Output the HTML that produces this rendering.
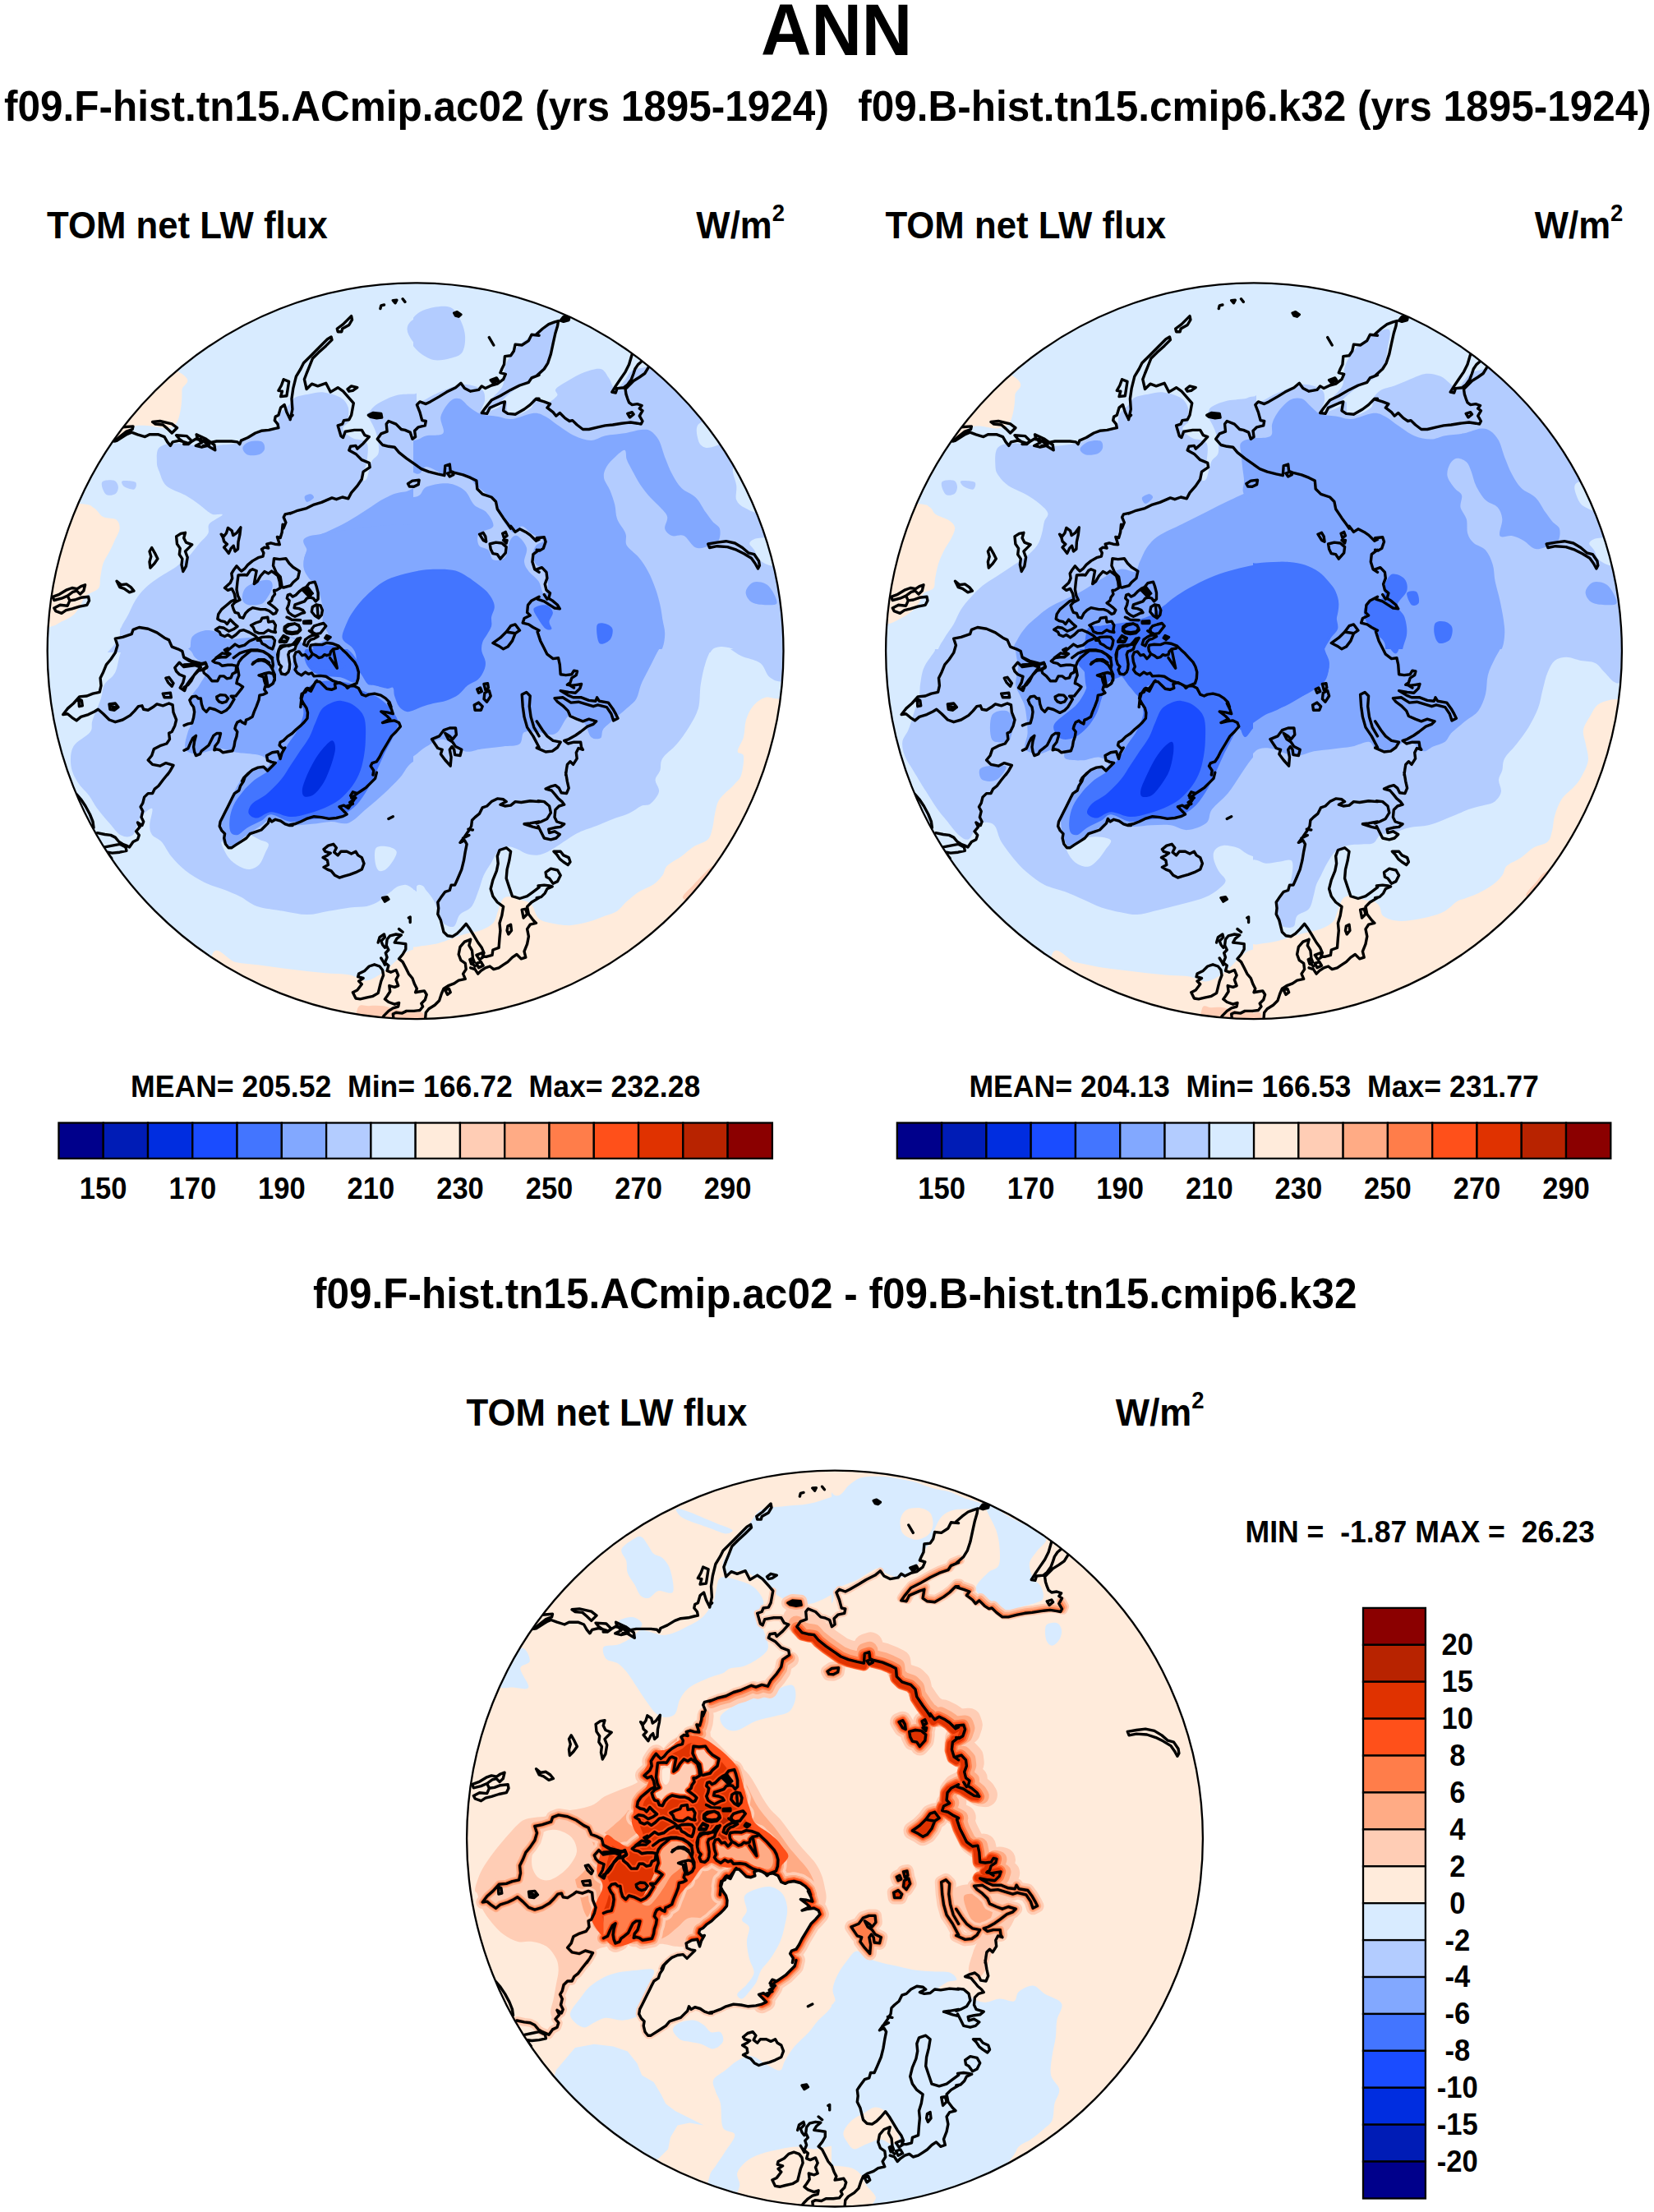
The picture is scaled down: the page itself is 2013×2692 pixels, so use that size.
<!DOCTYPE html>
<html lang="en"><head><meta charset="utf-8"><title>ANN TOM net LW flux</title>
<style>
html,body{margin:0;padding:0;background:#fff}
body{width:2013px;height:2692px;overflow:hidden}
svg{display:block}
text{font-family:"Liberation Sans",sans-serif;font-weight:700;fill:#000}
.coast{fill:none;stroke:#000;stroke-width:3.4;stroke-linejoin:round;stroke-linecap:round}
.cb rect{stroke:#000;stroke-width:2.3}
</style></head><body>
<svg width="2013" height="2692" viewBox="0 0 2013 2692">
<defs>
<clipPath id="qNW"><rect x="-470" y="-470" width="472" height="472"/></clipPath><clipPath id="qSW"><rect x="-470" y="-2" width="472" height="472"/></clipPath><clipPath id="qNE"><rect x="-2" y="-470" width="472" height="472"/></clipPath><clipPath id="qSE"><rect x="-2" y="-2" width="472" height="472"/></clipPath>
<g id="coast" class="coast"><path d="M-367.5,-255.0L-355.7,-261.4L-344.8,-265.9L-337.5,-263.2L-328.5,-260.4L-323.0,-263.2L-312.1,-263.2L-304.9,-260.4L-301.3,-254.1L-297.6,-249.6L-294.9,-254.1L-286.7,-255.9L-277.7,-253.2L-281.3,-251.4L-275.9,-251.4L-271.3,-255.0L-266.8,-257.7L-257.7,-255.9L-250.5,-253.2L-241.4,-255.0L-232.3,-255.0L-223.3,-255.0L-216.0,-254.1L-213.3,-251.4L-211.5,-255.9L-203.3,-259.5L-194.2,-265.0L-187.0,-267.7L-177.9,-268.6L-170.7,-270.4L-166.1,-271.3L-167.0,-275.9L-170.7,-280.4L-169.8,-284.9L-166.1,-286.7L-163.4,-295.8L-158.9,-299.4L-156.1,-290.4L-152.5,-283.1L-148.9,-286.7M-355.7,-272.2L-343.0,-273.1L-343.9,-269.5L-351.1,-266.8L-359.3,-260.4L-365.7,-255.0L-362.9,-255.6L-353.9,-261.4L-345.7,-266.4M-319.4,-278.6L-310.3,-279.5L-295.8,-276.2L-289.5,-271.3L-295.8,-265.0L-301.3,-270.4L-306.7,-275.0L-315.8,-275.9ZM-290.4,-262.3L-277.7,-261.4L-271.3,-255.0L-277.7,-251.4L-286.7,-257.7ZM-265.9,-263.2L-254.1,-257.7L-244.1,-250.5L-243.2,-244.1L-252.3,-249.6L-259.5,-247.8L-266.8,-249.6L-259.5,-253.2L-265.0,-259.5ZM-261.4,-257.7L-250.5,-250.5L-257.7,-249.6M-159.8,-330.3L-153.4,-327.6L-156.1,-310.3L-163.4,-309.4L-161.6,-315.8L-166.1,-316.7L-162.5,-323.0ZM-151.8,-281.3L-149.1,-294.0L-150.0,-306.7L-148.2,-319.4L-144.6,-333.9L-139.1,-343.0L-135.5,-350.2L-126.4,-359.3L-115.5,-370.2L-106.5,-379.3L-101.9,-382.0L-101.0,-378.4L-108.3,-371.1L-117.3,-362.9L-124.6,-355.7L-128.2,-346.6L-131.9,-337.5L-134.6,-330.3L-131.9,-318.5L-125.5,-324.8L-118.3,-322.1L-108.3,-325.7L-102.8,-314.9L-93.8,-320.3L-87.4,-315.8L-79.3,-306.7L-74.7,-301.3L-77.4,-286.7L-80.2,-281.3L-86.5,-280.4L-88.3,-275.9L-93.8,-274.1L-90.1,-261.4L-87.4,-259.5L-84.7,-266.8L-73.8,-268.6L-64.7,-268.6L-61.1,-262.3L-55.7,-260.4L-62.9,-252.3L-70.2,-245.9L-72.0,-249.6L-78.4,-248.7L-80.2,-244.1L-72.0,-239.6L-64.7,-232.3L-55.7,-228.7L-54.8,-223.3L-62.9,-217.8L-64.7,-208.8L-70.2,-200.6L-77.4,-192.4L-81.1,-185.2L-88.3,-187.0L-95.6,-184.3L-101.0,-186.1L-113.7,-180.6L-122.8,-177.9L-131.9,-173.4L-142.7,-170.7L-151.8,-167.0M-94.7,-392.0L-87.4,-397.4L-77.4,-407.4L-76.5,-402.8L-80.2,-396.5L-88.3,-392.0L-89.2,-388.3L-93.8,-388.3ZM-42.1,-416.4L-41.2,-420.1L-37.5,-421.0M-26.7,-426.4L-22.1,-426.8L-23.9,-423.2ZM-14.9,-428.2L-12.1,-424.6M47.7,-411.0L51.3,-412.3L55.9,-409.2L53.2,-406.8L49.5,-407.9ZM49.5,-410.1L54.1,-408.6M90.3,-381.4L95.8,-372.0M-82.0,-318.5L-77.4,-322.1L-70.2,-320.3L-75.6,-316.7L-80.2,-315.8ZM-56.6,-286.7L-51.1,-289.5L-41.2,-288.6L-40.3,-284.0L-46.6,-283.1L-53.9,-284.6ZM-54.8,-286.2L-42.1,-285.8M151.1,-383.8L142.0,-384.7L138.4,-377.4L130.2,-372.0L122.1,-372.9L120.3,-364.7L116.6,-359.3L109.4,-358.4L108.5,-348.4L105.8,-343.0L103.9,-338.4L110.3,-336.6L107.6,-330.3L100.3,-324.8L93.1,-323.0L85.8,-319.4L81.3,-322.1L77.6,-317.6L67.7,-315.8L60.4,-319.4L55.9,-325.7L49.5,-320.3L38.6,-314.9L29.6,-309.4L18.7,-303.1L13.3,-300.4L6.0,-303.1L2.4,-299.4L6.0,-290.4L8.7,-280.4L13.3,-279.5L12.3,-274.1L4.2,-272.2L-0.4,-267.7L0.6,-260.4L-3.1,-257.7L-5.8,-265.9L-12.1,-268.6L-16.7,-269.5L-23.0,-275.9L-32.1,-279.5L-34.8,-275.9L-33.9,-266.8L-41.2,-264.1L-45.7,-257.7L-39.4,-250.5L-32.1,-248.7L-24.8,-247.8L-19.4,-241.4L-10.3,-234.1L-1.3,-227.8L7.8,-221.4L16.9,-217.8L27.8,-215.1L35.9,-213.3L36.8,-225.1L42.3,-226.9L43.2,-218.7L47.7,-216.9L58.6,-214.2L67.7,-210.6L74.9,-206.9L75.8,-197.0L82.2,-190.6L93.1,-187.0L98.5,-181.5L100.3,-172.5L107.6,-161.6L113.0,-154.3L116.6,-148.9M151.1,-335.7L142.0,-332.1L138.4,-326.7L127.5,-323.0L116.6,-317.6L103.9,-310.3L93.1,-304.9L85.8,-295.8L81.3,-289.5L87.6,-288.6L91.2,-295.8L103.9,-301.3L109.4,-303.1L107.6,-292.2L113.0,-288.6L122.1,-287.7L133.0,-294.0L140.2,-299.4L147.5,-306.7L151.1,-306.7M-8.5,-203.3L-3.1,-206.9L5.1,-207.8L4.2,-202.4L-1.3,-199.7L-6.7,-200.0ZM39.6,-216.0L45.0,-217.8L46.8,-214.2L42.3,-212.0ZM92.2,-329.4L99.4,-332.1L101.2,-329.4L94.9,-326.3ZM94.0,-328.8L99.4,-329.9M148.2,-385.6L155.4,-392.0L162.7,-397.4L170.0,-400.1L174.5,-401.4L173.6,-395.6L170.9,-386.5L168.1,-373.8L165.4,-361.1L161.8,-350.2L157.3,-343.0L148.2,-334.8M177.2,-401.9L180.8,-406.5L188.1,-406.8L187.2,-402.5L180.8,-400.7ZM179.9,-403.7L186.3,-404.7M148.2,-305.8L157.3,-303.1L164.5,-300.4L160.9,-295.8L168.1,-290.4L171.8,-285.8L176.3,-289.5L182.7,-283.1L188.1,-279.5L191.7,-280.4L197.2,-275.0L204.4,-269.5L211.7,-269.5L222.6,-272.2L231.6,-274.1L240.7,-275.0L251.6,-276.8L262.5,-278.0L270.6,-276.8L275.2,-275.9L277.0,-279.5L273.3,-285.8L277.0,-292.2L273.3,-294.9L276.1,-298.5L270.6,-300.4L264.3,-299.4L260.6,-302.2L258.8,-306.7L257.0,-312.1L256.1,-318.5L260.6,-323.0L266.1,-328.5L273.3,-333.0L279.7,-337.5L284.2,-344.8M264.3,-361.1L260.6,-348.4L256.1,-339.4L249.8,-330.3L244.3,-322.1L239.8,-314.9L244.3,-314.0L246.1,-319.4L254.3,-320.3L258.8,-323.9L263.4,-330.3L266.1,-337.5L267.9,-343.0L271.5,-348.4L275.2,-351.5M258.8,-288.6L264.3,-290.4L266.1,-287.7L261.6,-284.0ZM-440.9,-65.7L-432.8,-68.7L-423.7,-74.2L-417.3,-76.5L-411.0,-75.3L-406.5,-78.4L-401.4,-80.2L-403.2,-72.9L-407.4,-68.9L-411.5,-72.9L-416.4,-71.6L-422.8,-66.9L-430.0,-63.8L-439.1,-61.5ZM-439.1,-52.0L-431.9,-55.7L-422.8,-54.8L-420.1,-61.1L-413.7,-62.0L-406.5,-64.7L-397.4,-65.7L-396.5,-61.1L-399.2,-55.7L-408.3,-53.9L-417.3,-51.1L-424.6,-49.3L-430.0,-45.7L-437.3,-48.4ZM-422.8,-66.9L-420.1,-61.1M-362.9,-84.7L-357.5,-80.2L-351.1,-81.1L-345.7,-77.4L-342.1,-72.9L-347.5,-71.1L-353.9,-75.6L-359.3,-77.4ZM-323.0,-121.0L-320.3,-125.5L-316.7,-119.2L-313.1,-111.9L-317.6,-105.6L-322.1,-101.0L-323.0,-108.3L-321.2,-114.6ZM-290.4,-139.1L-284.9,-142.7L-279.5,-143.7L-281.3,-137.3L-278.6,-131.9L-271.3,-129.1L-275.9,-124.6L-279.5,-121.0L-276.8,-113.7L-278.6,-102.8L-282.2,-96.5L-284.0,-104.7L-283.1,-111.9L-286.7,-117.3L-285.8,-124.6L-289.5,-130.0ZM-254.1,16.0L-261.4,15.1L-272.2,12.3L-281.3,7.8L-283.1,0.6L-288.6,-2.2L-295.8,-4.9L-299.4,-13.1L-304.9,-15.8L-314.0,-22.1L-324.8,-26.7L-335.7,-28.5L-343.0,-25.7L-344.8,-20.3L-355.7,-16.7L-364.7,-14.9L-362.0,-6.7L-364.7,2.4L-370.2,10.5L-375.6,16.9L-379.3,25.9L-382.9,33.2L-382.0,42.3L-383.8,50.4L-392.0,52.2L-399.2,55.0L-408.3,55.9L-415.5,64.0L-422.8,70.4L-428.2,77.6L-422.8,76.7L-417.3,81.3L-411.9,84.9L-406.5,80.4L-397.4,77.6L-390.1,74.0L-385.6,71.3L-379.3,76.7L-372.0,84.0L-364.7,86.7L-355.7,84.0L-346.6,78.6L-341.2,73.1L-336.6,67.7L-332.1,66.8L-330.3,71.3L-324.8,72.2L-317.6,67.7L-314.0,64.9L-306.7,66.8L-299.4,64.0L-294.9,65.9L-294.0,74.9L-290.4,84.0L-292.2,91.2L-295.8,98.5L-299.4,100.3L-298.5,107.6L-302.2,113.0L-310.3,115.7L-317.6,119.4L-320.3,127.5L-324.8,133.0L-319.4,138.4L-310.3,140.2L-303.1,136.6L-294.0,139.3L-297.6,145.7L-301.3,151.1M-372.0,64.9L-364.7,64.0L-361.1,68.6L-365.7,72.2L-371.1,71.3ZM-370.2,66.8L-362.9,69.5L-368.4,70.4M-409.2,58.6L-405.6,60.4L-404.7,66.8L-408.6,67.7ZM-292.2,20.5L-286.7,14.2L-281.3,19.6L-275.9,18.7L-268.6,17.8L-261.4,16.9L-255.0,14.2L-253.2,20.5L-257.7,23.2L-263.2,24.1L-268.6,29.6L-273.1,35.0L-277.7,41.4L-280.4,48.6L-285.8,45.0L-282.2,38.6L-280.4,31.4L-286.7,28.7L-290.4,25.0ZM-303.1,33.2L-299.4,32.3L-294.0,39.6L-295.8,43.2L-300.4,38.6ZM-306.7,52.2L-297.6,51.3L-296.7,56.8L-304.9,56.8ZM-235.8,-141.8L-232.4,-139.4L-229.5,-143.3L-227.6,-149.6L-222.8,-146.2L-221.3,-140.4L-217.0,-143.3L-212.1,-150.1L-213.1,-141.4L-215.0,-132.7L-215.5,-123.9L-218.9,-121.0L-220.8,-127.8L-223.7,-124.9L-226.6,-118.6L-230.0,-123.0L-232.4,-125.9L-228.6,-129.8L-232.4,-133.1L-233.4,-137.5ZM-160.9,-153.9L-161.8,-144.3L-163.8,-137.5L-167.6,-138.5L-165.7,-132.7L-164.7,-129.3L-170.5,-129.8L-175.4,-131.2L-180.2,-129.8L-178.3,-124.9L-183.1,-125.9L-186.5,-123.5L-184.1,-119.1L-185.0,-114.8L-190.8,-113.3L-197.6,-109.4L-203.4,-104.6L-207.3,-99.8L-211.2,-96.9L-214.1,-99.8L-217.0,-103.1L-220.3,-98.8L-223.2,-94.0L-222.3,-88.2L-224.7,-82.8L-231.5,-76.5L-227.6,-73.6L-222.8,-75.6L-219.9,-69.8L-218.4,-62.5L-223.7,-60.1L-229.5,-55.3L-235.3,-50.4L-239.2,-44.6L-240.2,-38.8L-236.3,-36.4L-231.5,-35.4L-228.6,-32.5L-224.7,-37.9L-219.9,-33.0L-216.0,-29.6L-220.8,-26.2L-226.6,-23.8L-232.4,-27.7L-238.2,-28.7L-242.6,-25.8L-237.8,-22.9L-236.3,-19.5L-231.5,-17.5L-227.6,-19.5L-222.8,-16.1L-217.9,-19.5L-213.1,-24.3L-208.3,-25.3L-201.5,-22.4L-194.7,-18.5L-190.8,-14.6L-186.0,-16.6L-178.3,-17.1L-173.4,-16.6L-170.5,-12.7L-171.5,-6.9L-173.4,-2.1L-178.3,-4.0L-182.1,-6.9L-186.0,-8.8L-187.9,-12.7L-191.8,-12.7M-215.0,-92.0L-207.3,-92.5L-204.4,-92.0L-200.5,-97.8L-197.6,-99.3L-192.8,-97.3L-194.2,-90.1L-195.7,-81.4L-191.8,-84.3L-187.9,-91.1L-183.1,-96.4L-178.3,-94.0L-174.4,-96.9L-170.5,-94.0L-166.7,-91.1L-164.7,-84.3L-163.8,-76.5L-168.6,-73.6L-171.5,-73.6L-170.5,-68.8L-173.4,-64.9L-174.4,-61.1L-178.3,-58.2L-174.4,-55.3L-170.5,-52.4L-167.6,-49.5L-169.6,-45.6L-172.5,-44.6L-177.3,-48.5L-182.1,-50.4L-187.9,-50.4L-192.8,-51.4L-197.6,-52.4L-202.4,-49.5L-206.3,-45.6L-209.2,-39.8L-213.1,-40.8L-215.0,-45.6L-218.9,-46.6L-220.8,-50.4L-222.3,-55.3L-218.9,-59.1L-213.1,-62.0L-215.5,-66.9L-217.0,-74.6L-216.0,-84.3ZM-171.5,-112.3L-164.7,-111.4L-157.0,-112.3L-153.1,-106.5L-148.3,-101.7L-140.5,-96.9L-142.5,-88.2L-148.3,-83.3L-151.2,-79.4L-159.9,-77.0L-161.8,-77.5L-163.8,-90.1L-168.6,-94.9L-172.5,-103.6ZM-167.6,-94.0L-162.8,-77.5M-199.5,-31.1L-193.7,-34.0L-187.9,-35.9L-186.0,-39.8L-179.2,-40.8L-178.3,-35.0L-172.5,-35.9L-169.6,-31.1L-170.5,-25.3L-169.6,-22.4L-174.4,-23.3L-178.3,-25.3L-184.1,-21.4L-189.9,-21.4L-194.7,-23.3L-196.6,-28.2ZM-158.9,-27.2L-153.1,-31.1L-146.3,-33.0L-141.5,-31.1L-139.6,-27.2L-142.5,-23.3L-149.2,-22.4L-156.0,-23.3ZM-164.7,-11.7L-159.9,-18.5L-154.1,-15.6L-156.0,-11.7ZM-242.1,8.6L-234.4,2.8L-226.6,4.7L-229.5,0.8L-224.7,-3.0L-218.9,-7.9L-214.1,-5.0L-207.3,-6.9L-201.5,-11.7L-194.7,-14.6M-220.8,8.6L-213.1,2.8L-207.3,0.8L-199.5,-1.1L-191.8,-1.1L-184.1,0.8L-178.3,4.7L-173.4,8.6M-156.0,-40.8L-153.1,-39.8L-150.2,-37.9M-166.7,8.6L-165.7,-1.1L-160.9,-5.0L-154.1,-6.9L-146.3,-7.9L-144.4,-12.7L-139.6,-15.6M-146.9,6.7L-145.0,1.8L-141.1,0.9L-137.3,5.7L-133.4,4.7L-129.5,9.6L-126.6,6.7L-124.7,3.8L-127.1,-0.1L-127.6,-4.0L-126.6,-6.9L-120.8,-7.8L-113.1,-7.4L-107.3,-9.8L-100.5,-8.8L-92.8,-5.9L-87.9,-1.1L-83.1,3.3L-78.3,8.6L-73.4,13.9L-70.5,19.2L-68.6,26.0L-69.1,33.8L-71.0,39.6L-78.3,42.5L-82.1,45.4L-84.1,42.9L-87.9,40.5L-93.7,38.6L-99.5,36.7L-104.4,33.8L-108.3,31.3L-115.0,30.4L-122.8,30.9L-125.7,27.0L-129.5,28.4L-133.4,26.0L-138.2,29.9L-143.1,27.0L-146.0,23.1L-144.0,19.2L-146.0,13.4ZM-124.7,3.8L-120.8,5.7L-117.0,8.6L-113.1,7.6L-110.2,4.7L-107.3,5.7L-103.4,4.7L-102.4,0.9L-99.5,-2.0L-93.7,-3.0L-92.8,-5.9M-103.4,8.6L-94.7,21.2L-99.5,-2.0M-163.4,-5.9L-158.6,-6.9L-153.7,-5.9L-148.9,-7.8L-146.0,-10.7L-143.1,-14.6L-139.2,-15.6L-141.6,-11.7L-144.5,-6.9L-146.0,-2.0L-149.8,-0.1L-152.8,0.9L-154.2,4.7L-153.2,10.5L-152.3,16.3L-152.8,22.1L-154.2,26.0L-157.6,28.9L-162.4,28.0L-164.4,23.1L-162.4,19.2L-165.3,16.3L-166.8,10.5L-167.3,4.7L-165.8,-1.1ZM-154.7,-67.8L-151.8,-68.8L-148.9,-65.9L-145.0,-67.8L-140.2,-72.7L-136.3,-75.6L-132.4,-77.5L-128.6,-82.3L-121.8,-83.8L-119.9,-78.5L-117.9,-70.7L-117.9,-63.0L-120.8,-60.1L-123.7,-63.9L-127.6,-64.9L-131.5,-63.9L-134.4,-60.1L-140.2,-58.1L-146.0,-56.2L-146.9,-52.3L-141.1,-51.4L-136.3,-49.4L-134.4,-46.5L-138.2,-45.6L-142.1,-43.6L-146.0,-41.7L-149.8,-43.6L-153.7,-46.5L-155.7,-51.4L-153.7,-56.2L-152.8,-61.0L-155.7,-63.9ZM-137.3,-74.6L-129.5,-66.8M-134.4,-76.5L-126.6,-67.8M-131.5,-78.5L-124.7,-69.8M-124.7,-53.3L-119.9,-56.2L-115.0,-55.2L-112.6,-49.4L-113.6,-43.6L-117.0,-39.8L-121.8,-42.7L-125.7,-47.5ZM-118.9,-55.2L-117.9,-41.7M-155.7,-40.7L-149.8,-37.8L-139.2,-37.3M-135.3,-35.9L-126.6,-36.4L-126.6,-33.5L-135.3,-33.5ZM-134.4,-34.7L-127.6,-34.9M-158.6,-29.1L-154.7,-32.0L-146.0,-33.0L-141.1,-30.1L-139.2,-25.3L-143.1,-21.4L-149.8,-20.4L-155.7,-21.4L-159.0,-24.3ZM-125.7,-26.2L-122.8,-30.1L-117.0,-32.0L-111.2,-33.5L-108.3,-30.1L-112.1,-25.3L-115.0,-21.4L-120.8,-20.4L-124.7,-22.4ZM-164.8,-10.7L-160.5,-17.5L-154.7,-14.6L-156.6,-10.7ZM-135.3,-7.8L-133.4,-13.6L-129.5,-16.5L-125.7,-18.5L-120.8,-19.4L-117.9,-17.5L-122.8,-14.6L-126.6,-13.6L-129.5,-10.7L-131.5,-5.9ZM-128.6,-24.3L-120.8,-18.5M-109.2,-15.6L-107.3,-18.5L-102.9,-16.5L-106.3,-13.6ZM-107.8,-16.1L-104.9,-16.1M-139.2,68.6L-138.2,58.9L-136.3,52.1L-132.4,46.3L-126.6,49.2L-123.7,43.4L-120.8,37.6L-116.0,37.6L-112.1,41.5L-107.3,46.3L-101.5,47.3L-96.6,45.4L-97.6,40.5L-91.8,38.6L-87.9,40.5L-82.1,43.4L-74.4,42.5L-68.6,45.4L-64.7,53.1L-59.9,55.0L-56.0,53.1L-49.2,52.1L-41.5,54.1L-35.7,57.9L-30.9,62.8L-28.9,68.6M-281.0,121.3L-276.1,118.9L-273.2,112.1L-270.3,106.3L-266.5,103.4L-268.4,110.2L-269.4,117.0L-268.4,122.8L-266.5,127.6L-261.6,125.7L-259.7,121.8L-255.8,118.9L-251.0,115.0L-248.1,109.2L-245.2,103.4L-241.3,100.5L-236.5,100.5L-237.4,104.4L-239.4,111.2L-243.2,116.0L-244.2,120.9L-241.3,119.9L-237.4,120.9L-233.6,123.8L-227.8,122.8L-222.0,121.8L-220.0,116.0L-219.1,110.2L-217.1,104.4L-216.2,98.6L-219.1,94.7L-218.1,90.9L-216.2,87.0L-212.3,85.1L-210.4,87.0L-206.5,88.9L-205.5,84.1L-202.6,83.1L-197.8,80.2L-195.8,74.4L-192.9,67.6L-190.0,59.9L-189.1,54.1L-184.2,53.1L-180.4,51.2L-183.3,47.3L-182.3,43.5L-178.4,43.5L-173.6,40.6L-170.7,35.7L-170.7,29.0L-173.6,22.2L-172.6,17.3L-173.6,10.6L-178.4,4.8L-185.2,0.9L-192.9,-0.5L-199.7,-0.1L-204.5,3.8L-210.4,8.6L-214.2,13.5L-216.2,19.3L-215.2,24.1L-214.2,29.9L-216.2,34.8L-217.1,39.6L-214.2,40.6L-209.4,43.9L-210.4,45.4L-214.2,50.2L-218.1,55.1L-223.9,55.1L-220.0,58.9L-222.9,63.8L-225.8,68.6L-229.7,72.5L-235.5,75.4L-243.2,71.5L-250.0,69.6L-253.9,74.4L-257.8,70.6L-259.7,64.7L-260.7,58.0L-263.6,58.0L-266.5,55.1L-271.3,56.0L-274.2,59.9L-272.3,64.7L-269.4,68.6L-268.4,74.4L-269.4,81.2L-271.3,88.0L-276.1,88.9L-281.0,90.9M-197.8,16.4L-192.9,12.5L-187.1,11.5L-181.3,13.5L-176.5,17.3L-173.6,22.2M-196.8,14.4L-190.0,10.6L-183.3,10.6L-177.5,14.4M-190.0,29.9L-184.2,28.0L-177.5,26.5L-172.6,28.0L-170.7,33.8L-172.6,39.6L-177.5,43.0L-181.3,42.5L-183.3,36.7L-184.2,31.9ZM-181.3,29.9L-179.4,40.6M-241.3,56.0L-236.5,53.6L-230.7,54.1L-227.3,58.0L-229.7,61.8L-234.5,63.3L-238.4,61.8L-240.8,58.9ZM-281.0,8.2L-274.2,12.5L-268.4,15.4L-260.7,17.3L-254.8,14.9L-252.9,19.3L-257.8,22.2L-256.8,27.0L-251.9,30.9L-247.1,36.7L-240.3,36.7L-237.4,30.9L-232.6,30.9L-228.7,33.8L-223.9,32.8L-222.0,28.0L-218.1,26.1L-217.1,18.3L-222.0,17.3L-227.8,17.3L-234.5,18.3L-238.4,15.4L-243.2,14.4L-246.1,12.5L-241.3,8.6L-235.5,7.7L-229.7,7.7L-224.9,3.8L-228.7,1.9L-231.6,-1.0L-227.8,-3.0M-281.0,16.9L-272.3,16.4L-265.5,18.3L-260.7,20.2L-263.6,23.2L-268.4,29.0L-272.3,36.7L-276.1,41.5L-281.0,44.4M-119.4,36.2L-123.3,41.5L-127.2,46.4L-131.0,45.4L-133.0,50.2L-137.8,52.2L-138.8,58.0L-135.9,63.8L-132.0,69.6L-130.5,75.4L-131.0,82.2L-134.9,87.0L-138.8,90.9L-144.6,95.7L-149.4,100.5L-155.2,104.4L-160.0,109.2L-163.9,111.2L-164.9,115.0L-161.0,118.9L-158.1,118.0L-162.0,124.7L-163.9,131.5L-166.8,122.8L-173.6,123.8L-180.4,127.6L-179.4,133.4L-174.6,135.4L-169.7,136.3L-173.6,140.2L-179.4,146.0L-184.2,141.2L-191.0,142.1L-197.8,145.0L-203.6,149.9L-208.4,154.7L-210.4,158.6M-32.1,64.0L-28.5,71.3L-26.7,76.7L-33.9,74.9L-41.2,74.0L-33.9,79.5L-30.3,83.1L-39.4,87.6L-32.1,85.8L-24.8,84.9L-19.4,87.6L-17.6,92.2L-23.0,98.5L-28.5,103.9L-33.9,113.0L-39.4,122.1L-43.0,129.3L-46.6,134.8L-52.0,136.6L-53.9,140.2L-50.2,145.7L-51.1,151.1M20.5,107.6L29.6,103.9L35.0,96.7L42.3,94.0L49.5,94.0L50.4,102.1L45.9,107.6L42.3,103.9L36.8,100.3L40.5,107.6L45.9,111.2L49.5,116.6L56.8,120.3L55.0,127.5L48.6,126.6L47.7,120.3L45.0,116.6L42.3,120.3L44.1,129.3L43.2,140.2L36.8,133.0L31.4,125.7L33.2,120.3L27.8,118.5L24.1,113.0ZM75.8,46.8L79.5,45.0L81.3,49.5L77.6,51.3ZM84.0,40.5L88.5,39.6L89.4,45.0L85.8,47.7ZM84.9,51.3L90.3,48.6L92.2,55.0L87.6,62.2L84.0,58.6ZM72.2,65.9L77.6,63.1L82.2,67.7L80.4,72.2L73.1,72.2ZM151.1,117.5L143.9,103.9L136.6,93.1L133.0,80.4L131.2,67.7L130.2,53.2L135.7,50.4L140.2,55.0L139.3,67.7L141.1,80.4L144.8,93.1L151.1,103.9M94.9,-9.4L103.9,-15.8L111.2,-23.0L116.6,-30.3L122.1,-32.1L127.5,-24.8L122.1,-21.2L118.5,-12.1L113.0,-4.9L107.6,-2.2L102.1,-5.8ZM111.2,-23.0L122.1,-21.2M151.1,-65.7L142.0,-61.1L137.5,-55.7L136.6,-46.6L140.2,-43.0L133.0,-39.4L131.2,-33.9L138.4,-32.1L143.9,-28.5L151.1,-24.8M151.1,-122.8L143.9,-117.3L142.9,-108.3L145.7,-99.2L151.1,-95.6M78.6,-141.8L83.1,-143.7L85.8,-139.1L86.7,-132.8L83.1,-134.6ZM91.2,-130.0L98.5,-131.9L105.8,-131.0L111.2,-126.4L110.3,-119.2L103.9,-111.9L100.3,-117.3L94.9,-118.3L92.2,-123.7ZM106.7,-142.7L110.3,-144.6L112.1,-140.0L108.5,-137.3ZM107.6,-134.6L112.1,-134.6L111.2,-131.0ZM116.6,-151.8L122.1,-144.6L127.5,-148.2L134.8,-144.6L140.2,-140.9L147.5,-133.7L151.1,-135.5M356.8,-130.0L367.7,-131.9L378.6,-133.3L389.4,-131.0L398.5,-125.5L405.8,-119.2L413.0,-117.3L418.5,-109.2L419.4,-103.7L417.5,-100.1L413.9,-106.5L409.4,-112.8L400.3,-118.3L391.2,-122.8L380.4,-126.4L367.7,-127.3L358.6,-125.5ZM148.2,-137.3L157.3,-138.2L159.1,-132.8L156.3,-124.6L151.8,-121.9L148.2,-122.8M148.2,-99.2L154.5,-101.4L160.0,-95.6L160.9,-88.3L158.2,-81.1L160.0,-73.8L164.5,-70.2L162.7,-63.8L167.2,-61.1L173.6,-55.7L176.3,-51.1L170.0,-52.0L162.7,-56.6L157.3,-60.2L149.1,-62.9M157.3,-68.4L160.9,-62.9M149.1,-23.0L152.7,-12.1L157.3,-3.1L160.9,4.2L168.1,9.6L174.5,8.7L176.3,16.9L177.2,28.7L183.6,29.6L190.8,28.7L193.5,24.1L197.5,25.0L196.3,29.6L190.8,33.2L189.0,38.6L185.4,41.4L191.7,42.3L197.2,41.4L202.6,40.5L200.8,45.9L195.3,51.3L187.2,50.4L177.2,48.6L186.3,54.1L192.6,56.8L202.6,56.8L211.7,60.4L219.8,61.3L221.6,56.8L224.4,61.3L235.3,63.1L240.7,70.4L244.3,76.7L247.0,82.2L241.6,84.9L238.9,76.7L233.4,68.6L222.6,65.9L217.1,67.7L208.0,64.9L199.0,62.2L189.9,63.1L179.9,56.8L170.0,57.7L173.6,62.2L179.9,66.8L186.3,73.1L189.0,79.5L197.2,83.1L204.4,85.8L211.7,83.1L220.7,85.8L217.1,89.4L209.9,92.2L201.7,98.5L195.3,103.0L187.2,107.6L181.7,109.4L186.3,113.0L193.5,111.2L201.7,111.2L202.6,117.5L204.4,120.3L199.0,118.5L196.3,123.9L197.2,131.2L192.6,138.4L189.0,134.8L185.4,138.4L184.5,143.9L183.6,151.1M186.3,40.5L193.5,45.0M148.2,85.8L155.4,96.7L160.9,103.9L168.1,109.4L177.2,111.2L173.6,117.5L167.2,122.1L159.1,123.0L148.2,118.1M-46.6,148.2L-48.4,155.4L-53.9,160.9L-59.3,166.3L-64.7,170.0L-70.2,173.6L-75.6,171.8L-78.4,176.3L-73.8,180.8L-77.4,186.3L-81.1,191.7L-86.5,188.1L-92.0,189.9L-86.5,195.3L-82.9,199.0L-88.3,201.7L-95.6,203.5L-104.7,204.4L-113.7,202.6L-122.8,201.7L-131.9,204.4L-139.1,208.0L-146.4,210.8L-151.8,211.7M-70.2,173.6L-77.4,179.0L-72.0,179.0L-79.3,184.5L-75.6,186.3L-82.9,189.0M-111.0,241.6L-105.6,237.1L-99.2,235.3L-95.6,239.8L-98.3,245.2L-93.8,248.9L-90.1,244.3L-82.9,244.3L-77.4,247.0L-72.0,244.3L-69.3,248.9L-64.7,251.6L-62.0,258.8L-64.7,266.1L-72.0,269.7L-79.3,272.4L-86.5,274.3L-92.0,276.1L-97.4,273.3L-101.9,267.9L-106.5,266.1L-111.0,263.4L-105.6,260.6L-106.5,255.2L-111.9,251.6L-106.5,248.9L-102.8,246.1L-109.2,244.3ZM-32.1,204.4L-26.7,201.7M-39.4,300.6L-33.9,299.6L-32.1,302.4L-36.6,305.1ZM-37.5,302.0L-33.9,302.0M-7.6,325.0L-5.8,324.1L-5.8,330.5M-19.4,338.6L-14.9,342.3M-25.7,451.1L-26.7,442.0L-23.0,440.2L-15.8,441.1L-10.3,438.4L-1.3,438.4L6.0,437.5L9.6,433.0L7.8,429.3L12.3,424.8L14.2,418.5L11.4,413.9L6.0,414.8L0.6,415.7L2.4,411.2L-0.4,405.8L-3.1,398.5L-7.6,393.1L-11.2,385.8L-14.9,378.6L-19.4,374.9L-14.9,369.5L-11.2,363.1L-11.2,356.8L-17.6,355.9L-24.8,355.0L-22.1,350.4L-16.7,345.9L-23.0,345.0L-30.3,346.8L-33.9,351.3L-34.8,358.6L-32.1,364.0L-35.7,367.7L-33.9,373.1L-36.6,379.5L-32.1,383.1L-33.9,389.4L-29.4,391.2L-23.0,388.5L-20.3,394.9L-23.0,400.3L-20.3,407.6L-24.8,409.4L-31.2,407.6L-30.3,414.8L-33.9,420.3L-36.6,423.9L-32.1,427.5L-24.8,430.2L-19.4,428.4L-20.3,433.0L-26.7,434.8L-32.1,438.4L-37.5,443.9L-43.0,451.1M-68.4,393.1L-61.1,389.4L-55.7,384.0L-49.3,381.8L-43.0,384.0L-39.4,388.5L-38.4,394.9L-41.2,402.1L-43.0,409.4L-44.8,416.6L-51.1,420.3L-59.3,422.1L-66.6,423.9L-72.0,423.0L-75.6,415.7L-70.2,413.0L-64.7,405.8L-68.4,402.1L-62.9,398.5L-69.3,396.7ZM-44.8,355.0L-43.0,348.6L-37.5,345.0L-36.6,348.6L-41.2,353.2L-39.4,357.7L-36.6,361.3M-41.2,374.0L-38.4,378.6L-36.6,382.2M151.1,183.6L140.2,182.7L129.3,184.5L122.1,183.6L116.6,188.1L109.4,189.0L103.9,187.2L111.2,183.6L107.6,180.8L100.3,179.9L93.1,183.6L87.6,189.0L82.2,190.8L78.6,198.1L73.1,202.6L69.5,206.2L68.6,213.5L64.9,219.8L60.4,226.2L55.0,233.4L60.4,230.7L63.1,235.3L61.3,244.3L59.5,255.2L56.8,266.1L52.2,277.0L48.6,285.1L44.1,285.1L42.3,291.5L36.8,293.3L31.4,300.6L27.8,306.0L28.7,313.3L27.8,320.5L31.4,327.8L33.2,335.0L35.0,342.3L39.6,346.8L45.9,347.7L51.3,344.1L56.8,338.6L62.2,332.3L66.8,338.6L71.3,345.9L76.7,355.0L81.3,361.3L84.0,367.7L82.2,372.2L87.6,372.2L94.0,370.4L94.9,364.0L102.1,361.3L103.0,349.5L103.9,340.5L103.0,331.4L105.8,322.3L107.6,311.4L100.3,306.0L94.9,298.7L92.2,289.7L94.9,278.8L99.4,267.9L101.2,258.8L100.3,249.8L103.0,242.5L111.2,239.8L116.6,244.3L114.8,255.2L112.1,266.1L111.2,277.0L114.8,287.9L118.5,298.7L127.5,301.5L136.6,298.7L143.9,293.3L151.1,287.9M64.9,217.1L70.4,218.0M58.6,228.0L65.9,224.4M151.1,300.6L142.0,306.0L136.6,311.4L138.4,320.5L143.9,327.8L147.5,331.4L140.2,333.2L136.6,338.6L138.4,347.7L136.6,356.8L133.0,365.9L134.8,373.1L129.3,374.9L123.9,369.5L118.5,373.1L113.0,378.6L107.6,382.2L102.1,385.8L95.8,387.6L91.2,384.0L85.8,385.8L80.4,389.4L76.7,393.1L73.1,387.6L67.7,385.8M67.7,351.3L60.4,354.1L55.0,360.4L53.2,369.5L55.9,376.7L61.3,380.4L62.2,387.6L58.6,393.1L61.3,399.4L53.2,401.2L47.7,404.9L40.5,407.6L35.0,411.2L32.3,417.5L29.6,425.7L24.1,431.2L16.9,435.7L13.3,440.2L12.3,451.1M67.7,351.3L65.9,358.6L69.5,364.9L70.4,373.1L67.7,378.6L73.1,384.0M66.8,375.8L70.4,374.0L72.2,378.6L68.6,381.3ZM74.9,370.4L81.3,367.7L84.0,372.2L78.6,375.8ZM74.9,380.4L80.4,378.6L83.1,383.1L77.6,385.8ZM113.0,335.0L116.6,333.2L117.5,340.5L113.9,345.0L112.1,340.5ZM130.2,315.1L134.8,314.2L136.6,320.5L132.1,325.0ZM36.8,413.0L41.4,411.2L43.2,415.7L39.6,418.5ZM133.0,210.8L140.2,209.9L151.1,208.0M133.0,210.8L143.9,214.4L151.1,216.2M183.6,148.2L185.4,159.1L187.2,167.2L184.5,173.6L178.1,172.7L175.4,167.2L170.9,163.6L164.5,165.4L159.1,168.1L166.3,170.0L170.9,175.4L174.5,179.9L179.0,183.6L181.7,187.2L175.4,189.0L170.9,193.5L170.0,202.6L172.7,208.0L181.7,210.8L177.2,214.4L170.0,215.3L162.7,217.1L163.6,221.6L170.0,219.8L176.3,223.5L171.8,228.0L165.4,229.8L157.3,228.0L153.6,220.7L150.0,213.5M150.0,182.7L157.3,183.6L163.6,189.0L165.4,197.2L160.9,204.4L153.6,208.0L148.2,209.9M169.0,244.3L177.2,244.3L180.8,248.9L187.2,251.6L189.0,257.0L186.3,260.6L180.8,257.0L176.3,253.4L172.7,248.0ZM159.1,269.7L165.4,265.2L173.6,267.0L177.2,273.3L173.6,280.6L168.1,283.3L163.6,277.0L160.0,275.2ZM150.0,286.0L157.3,285.1L163.6,286.0L167.2,286.9L160.9,289.7L158.2,295.1L153.6,299.6L148.2,300.6M-299.4,148.2L-306.7,157.3L-312.1,164.5L-316.7,168.1L-319.4,173.6L-324.8,173.6L-329.4,178.1L-331.2,185.4L-333.9,189.9L-331.2,195.3L-333.0,202.6L-330.3,208.0L-332.1,212.6L-337.5,209.0L-334.8,214.4L-339.4,219.8L-335.7,224.4L-337.5,229.8L-343.0,232.5L-347.5,238.9L-351.1,237.1L-355.7,235.3L-360.2,232.5L-364.7,227.1L-370.2,224.4L-377.4,223.5L-386.5,221.6M-377.4,238.9L-368.4,237.1L-359.3,235.3L-352.0,238.9L-351.1,243.4L-359.3,245.2L-368.4,246.1L-373.8,245.2M-411.9,174.5L-406.5,180.8L-401.0,189.0L-395.6,199.0L-392.0,208.0L-391.0,215.3M-372.0,248.9L-369.3,252.5M-201.5,148.2L-206.9,153.6L-208.8,159.1L-212.4,164.5L-214.2,170.0L-219.6,173.6L-222.4,179.0L-225.1,184.5L-227.8,189.9L-230.5,195.3L-234.1,202.6L-236.9,208.0L-237.8,213.5L-235.1,218.9L-231.4,222.6L-232.3,228.0L-230.5,235.3L-226.9,239.8L-223.3,239.8L-217.8,236.2L-210.6,231.6L-205.1,228.0L-200.6,222.6L-192.4,219.8L-187.0,218.0L-182.5,213.5L-178.8,209.9L-177.0,204.4L-174.3,208.0L-169.8,205.3L-163.4,207.1L-158.0,210.8L-152.5,212.6L-148.9,212.6M-150.0,-167.9L-158.0,-166.1L-159.8,-162.5L-157.1,-156.1L-160.1,-148.9"/></g>
</defs>
<rect width="2013" height="2692" fill="#fff"/>

<text transform="translate(1018.1,66.9) scale(1,1.045)" font-size="85.0" text-anchor="middle">ANN</text>
<text transform="translate(5.0,146.6) scale(1,1.045)" font-size="49.5">f09.F-hist.tn15.ACmip.ac02 (yrs 1895-1924)</text>
<text transform="translate(1044.3,146.6) scale(1,1.045)" font-size="49.5">f09.B-hist.tn15.cmip6.k32 (yrs 1895-1924)</text>
<text transform="translate(57.0,289.7) scale(1,1.045)" font-size="43.75">TOM net LW flux</text><text transform="translate(955.0,289.7) scale(1,1.045)" font-size="43.75" text-anchor="end">W/m<tspan font-size="27.5" dy="-20">2</tspan></text>
<text transform="translate(1077.4,289.7) scale(1,1.045)" font-size="43.75">TOM net LW flux</text><text transform="translate(1975.4,289.7) scale(1,1.045)" font-size="43.75" text-anchor="end">W/m<tspan font-size="27.5" dy="-20">2</tspan></text>
<text transform="translate(567.6,1735.2) scale(1,1.045)" font-size="43.75">TOM net LW flux</text><text transform="translate(1465.5,1735.2) scale(1,1.045)" font-size="43.75" text-anchor="end">W/m<tspan font-size="27.5" dy="-20">2</tspan></text>
<clipPath id="clip_map1"><circle cx="0.6" cy="0.2" r="447.9"/></clipPath><g transform="translate(505.0,792.0)"><g clip-path="url(#clip_map1)"><circle r="453.9" fill="#D8EBFF"/><g clip-path="url(#qNW)"><path d="M-407.0,-389.4C-386.9,-403.7 -307.1,-350.8 -286.5,-338.7C-266.0,-326.6 -283.9,-324.4 -283.6,-316.9C-283.4,-309.4 -283.9,-300.5 -285.1,-293.7C-286.3,-286.9 -288.0,-280.0 -290.9,-276.3C-293.8,-272.5 -296.7,-271.4 -302.5,-271.0C-308.3,-270.7 -318.9,-273.7 -325.7,-273.9C-332.5,-274.2 -338.3,-274.8 -343.1,-272.8C-347.9,-270.8 -350.4,-265.0 -354.7,-261.8C-359.1,-258.5 -360.5,-254.5 -369.2,-253.0C-377.9,-251.6 -400.7,-230.3 -407.0,-253.0C-413.2,-275.8 -427.0,-375.2 -407.0,-389.4Z" fill="#FFEBDB"/><path d="M-479.5,-183.4C-467.4,-208.8 -421.7,-180.6 -407.0,-179.0C-392.2,-177.5 -395.6,-176.8 -391.0,-174.1C-386.4,-171.5 -384.0,-165.5 -379.4,-163.1C-374.8,-160.7 -366.8,-162.0 -363.4,-159.6C-360.1,-157.2 -359.1,-152.6 -359.4,-148.6C-359.6,-144.6 -362.8,-140.1 -364.9,-135.5C-366.9,-130.9 -369.1,-125.8 -371.6,-121.0C-374.0,-116.2 -377.5,-111.8 -379.4,-106.5C-381.3,-101.2 -381.9,-94.2 -382.9,-89.1C-383.8,-84.0 -382.4,-79.7 -385.2,-76.0C-388.0,-72.4 -396.1,-70.7 -399.7,-67.3C-403.3,-63.9 -404.4,-59.6 -407.0,-55.7C-409.5,-51.8 -411.2,-47.5 -415.1,-44.1C-419.0,-40.7 -425.2,-37.9 -430.2,-35.4C-435.1,-32.9 -436.5,-30.5 -444.7,-29.0C-452.9,-27.6 -473.7,-1.0 -479.5,-26.7C-485.3,-52.4 -491.6,-158.0 -479.5,-183.4Z" fill="#FFEBDB"/><path d="M-311.2,-247.2C-307.3,-251.0 -300.1,-252.2 -290.9,-252.5C-281.7,-252.7 -265.7,-249.0 -256.0,-248.7C-246.4,-248.4 -240.1,-249.9 -232.8,-250.7C-225.6,-251.6 -219.3,-250.9 -212.5,-253.6C-205.7,-256.3 -199.5,-263.9 -192.2,-267.0C-184.9,-270.0 -173.6,-268.4 -169.0,-271.9C-164.4,-275.4 -167.3,-283.3 -164.6,-287.9C-162.0,-292.5 -156.2,-296.1 -153.0,-299.5C-149.9,-302.9 -149.9,-306.0 -145.8,-308.2C-141.7,-310.4 -134.2,-311.5 -128.4,-312.5C-122.6,-313.6 -117.2,-315.3 -110.9,-314.6C-104.7,-313.8 -95.6,-311.2 -90.6,-308.2C-85.7,-305.2 -83.3,-301.9 -81.3,-296.6C-79.4,-291.3 -82.8,-277.7 -79.0,-276.3C-75.3,-274.8 -64.0,-284.0 -58.7,-287.9C-53.4,-291.7 -52.9,-295.7 -47.1,-299.5C-41.3,-303.3 -31.6,-308.3 -23.9,-310.5C-16.1,-312.7 -11.8,-312.3 -0.7,-312.5C10.5,-312.7 35.6,-371.4 42.9,-311.7C50.1,-251.9 109.9,-13.7 42.9,45.9C-24.1,105.5 -292.1,56.5 -359.1,45.9C-426.1,35.2 -359.4,-5.4 -359.1,-18.0C-358.7,-30.6 -358.7,-25.2 -357.0,-29.6C-355.3,-33.9 -351.7,-38.8 -348.9,-44.1C-346.1,-49.4 -343.6,-56.2 -340.2,-61.5C-336.8,-66.8 -333.0,-71.7 -328.6,-76.0C-324.2,-80.4 -320.4,-83.3 -314.1,-87.6C-307.8,-92.0 -297.2,-97.8 -290.9,-102.1C-284.6,-106.5 -281.2,-108.9 -276.4,-113.7C-271.5,-118.6 -266.0,-126.3 -261.9,-131.2C-257.7,-136.0 -253.6,-138.9 -251.7,-142.8C-249.8,-146.6 -253.1,-150.6 -250.2,-154.4C-247.3,-158.2 -234.8,-163.4 -234.3,-165.4C-233.8,-167.4 -242.7,-164.5 -247.3,-166.6C-251.9,-168.6 -256.5,-173.8 -261.9,-177.6C-267.2,-181.4 -272.5,-185.3 -279.3,-189.2C-286.0,-193.1 -297.2,-196.0 -302.5,-200.8C-307.8,-205.6 -309.3,-213.4 -311.2,-218.2C-313.1,-223.1 -314.1,-225.0 -314.1,-229.8C-314.1,-234.7 -315.1,-243.5 -311.2,-247.2Z" fill="#B3CCFF"/><path d="M-380.8,-205.2C-379.1,-207.9 -369.6,-208.2 -366.3,-207.2C-363.0,-206.2 -361.3,-202.1 -361.1,-199.4C-360.9,-196.6 -362.3,-192.1 -364.9,-190.7C-367.4,-189.2 -373.8,-188.2 -376.5,-190.7C-379.1,-193.1 -382.5,-202.4 -380.8,-205.2Z" fill="#B3CCFF"/><path d="M-356.2,-206.6C-354.0,-207.6 -342.6,-206.9 -340.2,-205.2C-337.8,-203.5 -339.5,-197.4 -341.7,-196.5C-343.8,-195.5 -350.9,-197.7 -353.3,-199.4C-355.7,-201.1 -358.3,-205.6 -356.2,-206.6Z" fill="#B3CCFF"/><path d="M-0.7,-404.0C5.6,-407.8 23.5,-423.8 28.4,-415.6C33.2,-407.3 31.3,-363.3 28.4,-354.6C25.5,-345.9 16.3,-359.5 10.9,-363.3C5.6,-367.2 -0.2,-373.0 -3.6,-377.8C-7.0,-382.7 -9.9,-388.0 -9.4,-392.3C-8.9,-396.7 -7.0,-400.1 -0.7,-404.0Z" fill="#B3CCFF"/><path d="M-77.6,-316.9C-74.2,-315.0 -63.8,-296.6 -58.7,-287.9C-53.6,-279.2 -49.5,-272.4 -47.1,-264.7C-44.7,-256.9 -43.2,-247.2 -44.2,-241.4C-45.2,-235.6 -50.5,-235.2 -52.9,-229.8C-55.3,-224.5 -56.8,-212.9 -58.7,-209.5C-60.6,-206.1 -64.5,-206.1 -64.5,-209.5C-64.5,-212.9 -59.7,-222.6 -58.7,-229.8C-57.7,-237.1 -55.8,-248.2 -58.7,-253.0C-61.6,-257.9 -71.3,-256.0 -76.1,-258.9C-81.0,-261.8 -87.5,-266.6 -87.7,-270.5C-88.0,-274.3 -79.0,-277.2 -77.6,-282.1C-76.1,-286.9 -79.0,-293.7 -79.0,-299.5C-79.0,-305.3 -81.0,-318.8 -77.6,-316.9Z" fill="#D8EBFF"/><path d="M-209.6,-247.2C-209.1,-249.9 -204.8,-253.3 -200.9,-254.5C-197.0,-255.7 -189.4,-256.0 -186.4,-254.5C-183.4,-253.0 -182.4,-248.4 -182.9,-245.8C-183.4,-243.2 -185.8,-240.3 -189.3,-239.1C-192.8,-237.9 -200.4,-237.2 -203.8,-238.5C-207.2,-239.9 -210.1,-244.6 -209.6,-247.2Z" fill="#82A8FF"/><path d="M-134.2,-187.8C-133.4,-189.3 -128.7,-190.9 -126.9,-190.7C-125.1,-190.4 -122.4,-187.9 -123.1,-186.3C-123.9,-184.7 -129.4,-180.8 -131.3,-181.1C-133.1,-181.3 -134.9,-186.2 -134.2,-187.8Z" fill="#82A8FF"/><path d="M42.9,-193.6C33.7,-233.5 0.8,-194.8 -12.3,-193.6C-25.3,-192.3 -27.8,-189.9 -35.5,-186.3C-43.2,-182.7 -51.0,-176.6 -58.7,-171.8C-66.4,-167.0 -74.2,-161.6 -81.9,-157.3C-89.7,-152.9 -98.4,-149.1 -105.1,-145.7C-111.9,-142.3 -118.0,-141.3 -122.6,-137.0C-127.1,-132.6 -130.5,-125.4 -132.7,-119.6C-134.9,-113.7 -136.3,-107.5 -135.6,-102.1C-134.9,-96.8 -132.0,-92.0 -128.4,-87.6C-124.7,-83.3 -117.0,-81.3 -113.8,-76.0C-110.7,-70.7 -109.7,-62.5 -109.5,-55.7C-109.3,-48.9 -113.1,-41.7 -112.4,-35.4C-111.7,-29.1 -104.4,-22.3 -105.1,-18.0C-105.9,-13.6 -112.4,-12.7 -116.7,-9.3C-121.1,-5.9 -126.4,-6.9 -131.3,2.3C-136.1,11.5 -174.8,38.6 -145.8,45.9C-116.7,53.1 11.4,85.8 42.9,45.9C74.3,6.0 52.1,-153.7 42.9,-193.6Z" fill="#82A8FF"/><path d="M-0.7,-253.0C1.0,-256.9 6.1,-260.3 10.9,-261.8C15.8,-263.2 25.5,-267.6 28.4,-261.8C31.3,-256.0 31.3,-232.3 28.4,-226.9C25.5,-221.6 15.5,-227.9 10.9,-229.8C6.3,-231.8 2.7,-234.7 0.8,-238.5C-1.2,-242.4 -2.4,-249.2 -0.7,-253.0Z" fill="#82A8FF"/></g><g clip-path="url(#qNW)"><path d="M-273.2,16.7C-324.3,13.1 -273.6,0.7 -273.2,-5.0C-272.7,-10.8 -273.2,-14.5 -270.5,-17.7C-267.7,-21.0 -261.5,-23.7 -256.9,-24.6C-252.2,-25.5 -247.2,-24.9 -242.3,-23.2C-237.5,-21.5 -235.1,-15.7 -227.8,-14.5C-220.6,-13.3 -206.7,-16.1 -198.8,-15.9C-191.0,-15.7 -186.1,-12.7 -180.7,-13.2C-175.2,-13.6 -171.6,-18.2 -166.2,-18.6C-160.7,-19.1 -153.8,-17.9 -148.0,-15.9C-142.3,-13.9 -137.7,-8.4 -131.7,-6.8C-125.7,-5.3 -116.9,-5.6 -111.7,-6.8C-106.6,-8.1 -101.8,-11.4 -100.9,-14.1C-100.0,-16.8 -104.9,-19.2 -106.3,-23.2C-107.7,-27.1 -108.0,-32.2 -109.0,-37.7C-110.1,-43.1 -111.3,-50.1 -112.7,-55.8C-114.0,-61.6 -115.2,-67.3 -117.2,-72.1C-119.2,-77.0 -122.0,-80.9 -124.4,-84.8C-126.9,-88.8 -129.9,-91.8 -131.7,-95.7C-133.5,-99.7 -135.3,-104.2 -135.3,-108.4C-135.3,-112.7 -134.1,-115.7 -131.7,-121.1C-129.3,-126.6 -148.3,-137.7 -120.8,-141.1C-93.3,-144.4 7.7,-167.4 33.4,-141.1C59.1,-114.8 84.5,-9.6 33.4,16.7C-17.7,43.0 -222.1,20.4 -273.2,16.7Z" fill="#82A8FF"/><path d="M-208.8,-72.1C-207.6,-75.2 -205.6,-77.3 -202.4,-79.4C-199.3,-81.5 -194.0,-83.8 -189.7,-84.8C-185.5,-85.9 -179.8,-87.0 -177.0,-85.7C-174.3,-84.5 -172.8,-81.4 -173.4,-77.6C-174.0,-73.8 -178.3,-66.5 -180.7,-63.1C-183.1,-59.6 -184.3,-57.9 -187.9,-56.7C-191.6,-55.5 -198.8,-55.1 -202.4,-55.8C-206.1,-56.6 -208.6,-58.5 -209.7,-61.3C-210.8,-64.0 -210.0,-69.1 -208.8,-72.1Z" fill="#82A8FF"/><path d="M-168.0,-18.6C-164.2,-20.3 -152.3,-17.3 -148.0,-15.0C-143.8,-12.7 -142.6,-8.5 -142.6,-5.0C-142.6,-1.6 -146.8,1.3 -148.0,5.9C-149.2,10.4 -148.0,18.3 -149.8,22.2C-151.7,26.1 -156.2,29.1 -158.9,29.4C-161.6,29.7 -164.7,27.9 -166.2,24.0C-167.7,20.1 -167.2,10.7 -168.0,5.9C-168.7,1.0 -170.7,-0.9 -170.7,-5.0C-170.7,-9.1 -171.8,-17.0 -168.0,-18.6Z" fill="#B3CCFF"/></g><g clip-path="url(#qSW)"><path d="M-343.1,-34.4C-409.9,-28.6 -354.0,-9.7 -357.6,0.4C-361.3,10.6 -361.5,19.8 -364.9,26.5C-368.3,33.3 -375.0,35.7 -377.9,41.0C-380.8,46.4 -379.9,51.2 -382.3,58.5C-384.7,65.7 -390.3,77.8 -392.4,84.6C-394.6,91.3 -391.5,93.8 -395.3,99.1C-399.2,104.4 -411.8,109.7 -415.7,116.5C-419.5,123.3 -419.4,132.5 -418.6,139.7C-417.7,147.0 -414.1,154.0 -410.4,160.0C-406.8,166.1 -400.8,170.7 -396.8,176.0C-392.8,181.3 -390.8,186.4 -386.6,192.0C-382.5,197.5 -377.0,203.9 -372.1,209.4C-367.3,214.8 -362.5,222.0 -357.6,224.5C-352.8,226.9 -347.0,227.4 -343.1,223.9C-339.2,220.4 -338.3,208.9 -334.4,203.6C-330.5,198.2 -321.8,190.5 -319.9,192.0C-318.0,193.4 -322.8,206.9 -322.8,212.3C-322.8,217.6 -322.3,220.5 -319.9,223.9C-317.5,227.3 -312.2,228.2 -308.3,232.6C-304.4,236.9 -301.5,244.2 -296.7,250.0C-291.8,255.8 -286.0,262.1 -279.3,267.4C-272.5,272.7 -263.8,278.0 -256.0,281.9C-248.3,285.8 -240.1,287.7 -232.8,290.6C-225.6,293.5 -219.3,295.9 -212.5,299.3C-205.7,302.7 -200.9,308.0 -192.2,310.9C-183.5,313.8 -170.4,315.0 -160.3,316.7C-150.1,318.4 -140.5,321.1 -131.3,321.1C-122.1,321.1 -113.8,318.2 -105.1,316.7C-96.4,315.3 -86.8,313.4 -79.0,312.4C-71.3,311.4 -64.5,312.1 -58.7,310.9C-52.9,309.7 -49.0,308.0 -44.2,305.1C-39.4,302.2 -35.0,296.9 -29.7,293.5C-24.4,290.1 -24.4,286.3 -12.3,284.8C-0.2,283.4 33.7,338.0 42.9,284.8C52.1,231.6 107.2,18.8 42.9,-34.4C-21.5,-87.6 -276.4,-40.2 -343.1,-34.4Z" fill="#B3CCFF"/><path d="M-235.7,232.6C-236.2,234.5 -230.7,246.5 -227.0,251.4C-223.4,256.4 -218.3,259.8 -214.0,262.2C-209.6,264.6 -205.0,266.3 -200.9,266.0C-196.8,265.6 -192.4,263.5 -189.3,260.1C-186.2,256.8 -183.9,249.8 -182.0,245.6C-180.2,241.4 -177.1,237.6 -178.3,234.9C-179.5,232.2 -185.3,231.5 -189.3,229.7C-193.3,227.8 -198.5,223.9 -202.4,223.9C-206.2,223.9 -208.9,227.0 -212.5,229.7C-216.1,232.3 -220.3,239.4 -224.1,239.8C-228.0,240.3 -235.3,230.6 -235.7,232.6Z" fill="#D8EBFF"/><path d="M-47.1,239.8C-44.4,236.9 -36.7,237.7 -32.6,238.4C-28.5,239.1 -23.4,241.3 -22.4,244.2C-21.5,247.1 -24.6,252.2 -26.8,255.8C-29.0,259.4 -32.6,264.0 -35.5,266.0C-38.4,267.9 -42.0,269.1 -44.2,267.4C-46.4,265.7 -48.1,260.4 -48.6,255.8C-49.0,251.2 -49.8,242.7 -47.1,239.8Z" fill="#D8EBFF"/><path d="M-272.0,-34.4C-324.2,-28.1 -273.7,-5.9 -270.6,3.3C-267.4,12.5 -254.6,14.4 -253.1,20.7C-251.7,27.0 -258.7,35.0 -261.9,41.0C-265.0,47.1 -271.0,50.7 -272.0,57.0C-273.0,63.3 -266.9,71.8 -267.7,78.8C-268.4,85.8 -274.4,92.3 -276.4,99.1C-278.3,105.9 -281.2,115.0 -279.3,119.4C-277.3,123.8 -271.5,125.2 -264.8,125.2C-258.0,125.2 -245.9,119.8 -238.6,119.4C-231.4,119.0 -226.1,122.0 -221.2,122.9C-216.4,123.8 -215.4,123.8 -209.6,124.6C-203.8,125.5 -191.7,125.6 -186.4,128.1C-181.1,130.6 -174.8,136.3 -177.7,139.7C-180.6,143.1 -197.5,144.5 -203.8,148.4C-210.1,152.3 -211.6,156.6 -215.4,162.9C-219.3,169.2 -223.6,178.9 -227.0,186.1C-230.4,193.4 -235.0,199.2 -235.7,206.5C-236.5,213.7 -233.3,224.4 -231.4,229.7C-229.4,235.0 -228.7,239.4 -224.1,238.4C-219.5,237.4 -210.1,228.2 -203.8,223.9C-197.5,219.5 -191.2,215.4 -186.4,212.3C-181.6,209.1 -180.6,205.0 -174.8,205.0C-169.0,205.0 -159.8,211.3 -151.6,212.3C-143.4,213.2 -133.7,211.5 -125.5,210.8C-117.2,210.1 -109.7,208.2 -102.2,207.9C-94.7,207.7 -87.7,212.0 -80.5,209.4C-73.2,206.7 -65.7,197.8 -58.7,192.0C-51.7,186.1 -45.2,180.8 -38.4,174.5C-31.6,168.2 -24.4,161.0 -18.1,154.2C-11.8,147.5 -10.8,139.7 -0.7,133.9C9.5,128.1 35.6,147.5 42.9,119.4C50.1,91.3 95.3,-8.8 42.9,-34.4C-9.6,-60.0 -219.8,-40.7 -272.0,-34.4Z" fill="#82A8FF"/><path d="M-131.3,45.4C-134.9,48.8 -137.8,53.4 -138.5,58.5C-139.2,63.5 -134.9,69.6 -135.6,75.9C-136.3,82.2 -139.7,89.9 -142.9,96.2C-146.0,102.5 -151.1,108.3 -154.5,113.6C-157.9,118.9 -159.3,122.8 -163.2,128.1C-167.1,133.4 -172.4,140.7 -177.7,145.5C-183.0,150.4 -189.8,152.8 -195.1,157.1C-200.4,161.5 -205.3,166.3 -209.6,171.6C-214.0,177.0 -218.6,183.2 -221.2,189.0C-223.9,194.9 -225.1,201.1 -225.6,206.5C-226.1,211.8 -225.8,218.1 -224.1,221.0C-222.4,223.9 -218.8,224.8 -215.4,223.9C-212.0,222.9 -208.6,218.1 -203.8,215.2C-199.0,212.3 -191.2,209.1 -186.4,206.5C-181.6,203.8 -180.6,199.0 -174.8,199.2C-169.0,199.4 -159.8,206.9 -151.6,207.9C-143.4,208.9 -134.2,205.7 -125.5,205.0C-116.7,204.3 -106.6,205.0 -99.3,203.6C-92.1,202.1 -87.2,199.7 -81.9,196.3C-76.6,192.9 -72.3,189.3 -67.4,183.2C-62.6,177.2 -57.7,169.2 -52.9,160.0C-48.1,150.8 -43.2,138.3 -38.4,128.1C-33.6,117.9 -26.8,106.3 -23.9,99.1C-21.0,91.8 -19.5,89.9 -21.0,84.6C-22.4,79.3 -28.2,72.0 -32.6,67.2C-36.9,62.3 -41.8,58.7 -47.1,55.6C-52.4,52.4 -59.2,51.0 -64.5,48.3C-69.8,45.6 -73.2,41.5 -79.0,39.6C-84.8,37.7 -93.0,36.9 -99.3,36.7C-105.6,36.4 -111.4,36.7 -116.7,38.1C-122.1,39.6 -127.6,42.0 -131.3,45.4Z" fill="#4375FF"/><path d="M-134.2,0.4C-132.7,-3.9 -128.4,-6.8 -122.6,-8.3C-116.7,-9.7 -106.6,-9.7 -99.3,-8.3C-92.1,-6.8 -84.3,-4.4 -79.0,0.4C-73.7,5.2 -68.4,14.4 -67.4,20.7C-66.4,27.0 -69.3,36.2 -73.2,38.1C-77.1,40.1 -83.4,33.8 -90.6,32.3C-97.9,30.9 -110.0,31.9 -116.7,29.4C-123.5,27.0 -128.4,22.7 -131.3,17.8C-134.2,13.0 -135.6,4.8 -134.2,0.4Z" fill="#4375FF"/><path d="M-96.4,61.4C-101.0,62.7 -108.3,65.7 -112.4,70.1C-116.5,74.4 -118.4,81.7 -121.1,87.5C-123.8,93.3 -125.2,99.1 -128.4,104.9C-131.5,110.7 -136.1,116.5 -140.0,122.3C-143.8,128.1 -147.7,133.9 -151.6,139.7C-155.4,145.5 -158.3,151.3 -163.2,157.1C-168.0,162.9 -174.8,169.7 -180.6,174.5C-186.4,179.4 -194.4,182.3 -198.0,186.1C-201.6,190.0 -203.3,194.9 -202.4,197.8C-201.4,200.7 -196.8,203.8 -192.2,203.6C-187.6,203.3 -181.6,196.5 -174.8,196.3C-168.0,196.1 -159.3,201.9 -151.6,202.1C-143.8,202.3 -136.1,199.9 -128.4,197.8C-120.6,195.6 -111.9,192.4 -105.1,189.0C-98.4,185.7 -93.0,182.3 -87.7,177.4C-82.4,172.6 -77.1,166.3 -73.2,160.0C-69.3,153.7 -66.7,147.9 -64.5,139.7C-62.3,131.5 -60.6,120.4 -60.2,110.7C-59.7,101.0 -59.4,88.9 -61.6,81.7C-63.8,74.4 -69.3,70.4 -73.2,67.2C-77.1,63.9 -81.0,62.9 -84.8,61.9C-88.7,61.0 -91.8,60.0 -96.4,61.4Z" fill="#1A4CFF"/><path d="M-100.8,109.2C-103.4,109.2 -108.8,115.3 -112.4,119.4C-116.0,123.5 -119.4,128.6 -122.6,133.9C-125.7,139.2 -128.8,145.5 -131.3,151.3C-133.7,157.1 -136.6,164.4 -137.1,168.7C-137.5,173.1 -136.6,176.5 -134.2,177.4C-131.7,178.4 -126.4,177.4 -122.6,174.5C-118.7,171.6 -114.3,165.8 -110.9,160.0C-107.6,154.2 -104.6,146.5 -102.2,139.7C-99.9,132.9 -97.3,124.5 -97.0,119.4C-96.8,114.3 -98.2,109.2 -100.8,109.2Z" fill="#002DE0"/><path d="M-247.3,371.9C-242.5,353.3 -228.0,377.3 -218.3,379.1C-208.6,380.9 -199.0,381.4 -189.3,382.6C-179.6,383.8 -170.0,385.2 -160.3,386.4C-150.6,387.6 -140.9,388.8 -131.3,389.9C-121.6,390.9 -110.9,392.0 -102.2,392.8C-93.5,393.5 -86.0,393.1 -79.0,394.5C-72.0,396.0 -66.0,401.4 -60.2,401.5C-54.4,401.6 -49.3,398.1 -44.2,395.1C-39.1,392.1 -34.3,387.4 -29.7,383.5C-25.1,379.6 -21.5,375.3 -16.6,371.9C-11.8,368.5 -10.6,365.6 -0.7,363.2C9.2,360.8 35.6,336.1 42.9,357.4C50.1,378.7 91.2,468.6 42.9,490.9C-5.5,513.1 -199.0,510.7 -247.3,490.9C-295.7,471.0 -252.2,390.5 -247.3,371.9Z" fill="#FFEBDB"/><path d="M-70.3,437.2C-67.9,427.4 -61.1,433.1 -55.8,432.2C-50.5,431.4 -43.7,431.6 -38.4,432.2C-33.1,432.9 -30.2,435.1 -23.9,436.3C-17.6,437.5 -11.8,438.7 -0.7,439.2C10.5,439.7 35.6,430.6 42.9,439.2C50.1,447.8 61.7,482.3 42.9,490.9C24.0,499.5 -51.5,499.8 -70.3,490.9C-89.2,481.9 -72.7,446.9 -70.3,437.2Z" fill="#FFCDB5"/></g><g clip-path="url(#qSW)"><path d="M-168.0,-18.6C-164.2,-20.3 -152.3,-17.3 -148.0,-15.0C-143.8,-12.7 -142.6,-8.5 -142.6,-5.0C-142.6,-1.6 -146.8,1.3 -148.0,5.9C-149.2,10.4 -148.0,18.3 -149.8,22.2C-151.7,26.1 -156.2,29.1 -158.9,29.4C-161.6,29.7 -164.7,27.9 -166.2,24.0C-167.7,20.1 -167.2,10.7 -168.0,5.9C-168.7,1.0 -170.7,-0.9 -170.7,-5.0C-170.7,-9.1 -171.8,-17.0 -168.0,-18.6Z" fill="#B3CCFF"/></g><g clip-path="url(#qNE)"><path d="M-9.2,-392.3C-7.7,-397.7 -2.9,-405.5 2.4,-409.8C7.7,-414.0 16.0,-416.5 22.7,-417.9C29.5,-419.2 37.7,-420.2 43.0,-417.9C48.4,-415.6 51.7,-409.7 54.7,-404.0C57.6,-398.3 60.6,-390.4 61.0,-383.6C61.5,-376.9 60.6,-367.9 57.6,-363.3C54.6,-358.7 48.8,-357.6 43.0,-356.1C37.2,-354.5 29.0,-352.8 22.7,-354.0C16.4,-355.3 10.2,-359.4 5.3,-363.3C0.5,-367.3 -3.9,-373.0 -6.3,-377.8C-8.7,-382.7 -10.6,-387.0 -9.2,-392.3Z" fill="#B3CCFF"/><path d="M86.6,-290.8C85.1,-291.7 89.0,-300.0 92.4,-305.3C95.8,-310.6 104.0,-315.9 106.9,-322.7C109.8,-329.5 107.4,-338.7 109.8,-345.9C112.2,-353.2 116.1,-359.9 121.4,-366.2C126.7,-372.5 133.2,-377.9 141.7,-383.6C150.2,-389.4 168.1,-402.9 172.2,-400.5C176.3,-398.1 168.6,-378.7 166.4,-369.1C164.2,-359.6 163.0,-349.5 159.1,-343.0C155.3,-336.5 149.0,-333.8 143.2,-330.0C137.4,-326.1 129.9,-323.4 124.3,-319.8C118.7,-316.2 113.7,-311.6 109.8,-308.2C105.9,-304.8 105.0,-302.4 101.1,-299.5C97.2,-296.6 88.0,-289.8 86.6,-290.8Z" fill="#B3CCFF"/><path d="M-29.5,-308.2C-25.2,-367.4 -9.2,-310.5 -3.4,-309.6C2.4,-308.8 -0.0,-302.2 5.3,-303.0C10.6,-303.7 19.8,-310.5 28.5,-314.0C37.2,-317.5 48.8,-323.4 57.6,-324.2C66.3,-324.9 76.2,-321.5 80.8,-318.3C85.4,-315.2 85.1,-310.1 85.1,-305.3C85.1,-300.5 78.1,-290.9 80.8,-289.3C83.4,-287.8 96.0,-293.7 101.1,-296.0C106.2,-298.3 109.3,-303.8 111.2,-303.0C113.2,-302.1 110.8,-293.5 112.7,-290.8C114.6,-288.0 118.0,-285.6 122.8,-286.4C127.7,-287.3 138.2,-292.6 141.7,-296.0C145.2,-299.4 141.1,-305.9 144.0,-306.7C146.9,-307.6 154.3,-300.3 159.1,-300.9C164.0,-301.6 171.0,-307.6 173.1,-310.5C175.1,-313.4 169.3,-315.4 171.3,-318.3C173.3,-321.2 179.5,-324.5 185.2,-327.9C191.0,-331.3 198.8,-336.1 205.6,-338.7C212.3,-341.2 220.8,-344.1 225.9,-343.0C231.0,-341.9 233.0,-336.1 236.0,-332.0C239.0,-327.9 240.7,-318.9 243.9,-318.3C247.0,-317.8 251.4,-324.6 254.9,-328.5C258.4,-332.4 259.5,-338.4 265.1,-341.6C270.6,-344.7 272.1,-341.8 288.3,-347.4C304.5,-352.9 328.2,-370.3 362.3,-374.9C396.4,-379.5 471.1,-445.1 492.9,-374.9C514.6,-304.8 579.9,-24.3 492.9,45.9C405.8,116.0 57.6,104.9 -29.5,45.9C-116.6,-13.1 -33.9,-248.9 -29.5,-308.2Z" fill="#B3CCFF"/><path d="M345.7,-276.3C340.4,-271.9 343.6,-260.8 344.9,-256.0C346.2,-251.1 349.7,-248.2 353.6,-247.2C357.4,-246.3 361.8,-248.2 368.1,-250.1C374.4,-252.1 389.8,-253.5 391.3,-258.9C392.7,-264.2 384.4,-279.2 376.8,-282.1C369.2,-285.0 351.0,-280.6 345.7,-276.3Z" fill="#D8EBFF"/><path d="M388.4,-224.0C383.6,-220.2 390.8,-207.6 391.3,-200.8C391.8,-194.0 389.6,-187.8 391.3,-183.4C393.0,-179.0 396.6,-176.0 401.4,-174.1C406.3,-172.2 417.2,-163.5 420.3,-171.8C423.5,-180.1 425.6,-215.3 420.3,-224.0C415.0,-232.7 393.2,-227.9 388.4,-224.0Z" fill="#D8EBFF"/><path d="M407.3,-131.2C408.0,-133.6 412.3,-136.5 417.4,-137.0C422.5,-137.5 434.3,-139.4 437.7,-134.1C441.1,-128.7 440.6,-109.2 437.7,-105.0C434.8,-100.9 424.4,-106.5 420.3,-109.4C416.2,-112.3 415.2,-118.8 413.1,-122.5C410.9,-126.1 406.5,-128.7 407.3,-131.2Z" fill="#D8EBFF"/><path d="M353.6,31.4C333.7,26.5 356.2,8.4 359.4,2.3C362.5,-3.7 367.1,-4.4 372.4,-4.9C377.7,-5.4 385.2,-3.0 391.3,-0.6C397.3,1.8 401.0,6.7 408.7,9.6C416.4,12.5 426.1,13.2 437.7,16.8C449.3,20.5 492.4,28.9 478.4,31.4C464.3,33.8 373.4,36.2 353.6,31.4Z" fill="#D8EBFF"/><path d="M-29.5,-253.0C-24.7,-303.4 -7.7,-254.5 -0.5,-256.0C6.8,-257.4 8.2,-260.3 14.0,-261.8C19.8,-263.2 31.4,-260.8 34.3,-264.7C37.2,-268.5 30.0,-278.4 31.4,-285.0C32.9,-291.5 39.2,-300.2 43.0,-303.8C46.9,-307.5 50.8,-307.9 54.7,-306.7C58.5,-305.5 61.9,-299.7 66.3,-296.6C70.6,-293.4 75.0,-289.8 80.8,-287.9C86.6,-285.9 94.8,-285.9 101.1,-285.0C107.4,-284.0 111.2,-281.3 118.5,-282.1C125.8,-282.8 137.8,-288.8 144.6,-289.3C151.4,-289.8 154.3,-287.4 159.1,-285.0C164.0,-282.6 167.8,-278.7 173.6,-274.8C179.4,-270.9 187.2,-264.9 194.0,-261.8C200.7,-258.6 208.0,-256.0 214.3,-256.0C220.6,-256.0 224.9,-260.3 231.7,-261.8C238.4,-263.2 247.6,-263.4 254.9,-264.7C262.1,-265.9 269.9,-268.5 275.2,-269.0C280.5,-269.5 283.2,-269.7 286.8,-267.6C290.4,-265.4 294.1,-261.3 297.0,-256.0C299.9,-250.6 301.6,-242.4 304.2,-235.6C306.9,-228.9 309.5,-221.6 312.9,-215.3C316.3,-209.0 319.7,-202.7 324.5,-197.9C329.4,-193.1 337.1,-191.1 342.0,-186.3C346.8,-181.5 350.2,-173.7 353.6,-168.9C357.0,-164.1 359.4,-160.7 362.3,-157.3C365.2,-153.9 369.8,-152.4 371.0,-148.6C372.2,-144.7 371.5,-137.5 369.5,-134.1C367.6,-130.7 364.0,-129.7 359.4,-128.3C354.8,-126.8 347.3,-123.4 342.0,-125.4C336.6,-127.3 332.3,-137.5 327.4,-139.9C322.6,-142.3 316.8,-138.4 312.9,-139.9C309.1,-141.3 305.2,-144.7 304.2,-148.6C303.3,-152.4 308.1,-158.7 307.1,-163.1C306.2,-167.4 301.8,-170.8 298.4,-174.7C295.0,-178.6 290.7,-181.9 286.8,-186.3C282.9,-190.7 279.1,-195.0 275.2,-200.8C271.3,-206.6 266.5,-215.8 263.6,-221.1C260.7,-226.4 259.2,-228.9 257.8,-232.7C256.3,-236.6 257.8,-244.3 254.9,-244.3C252.0,-244.3 244.3,-236.6 240.4,-232.7C236.5,-228.9 233.4,-225.0 231.7,-221.1C230.0,-217.3 229.3,-213.9 230.2,-209.5C231.2,-205.2 235.3,-200.3 237.5,-195.0C239.7,-189.7 241.8,-183.4 243.3,-177.6C244.7,-171.8 244.0,-166.0 246.2,-160.2C248.4,-154.4 254.4,-148.1 256.3,-142.8C258.3,-137.5 255.1,-133.1 257.8,-128.3C260.5,-123.4 268.0,-119.1 272.3,-113.7C276.7,-108.4 280.5,-102.6 283.9,-96.3C287.3,-90.0 290.2,-82.8 292.6,-76.0C295.0,-69.3 297.0,-62.0 298.4,-55.7C299.9,-49.4 300.4,-44.1 301.3,-38.3C302.3,-32.5 304.2,-26.7 304.2,-20.9C304.2,-15.1 303.3,-8.3 301.3,-3.5C299.4,1.4 294.6,-0.1 292.6,8.1C290.7,16.4 343.4,39.6 289.7,45.9C236.0,52.2 23.7,95.7 -29.5,45.9C-82.7,-4.0 -34.3,-202.7 -29.5,-253.0Z" fill="#82A8FF"/><path d="M402.9,-73.1C403.9,-76.5 407.7,-81.8 411.6,-83.3C415.5,-84.7 422.2,-83.5 426.1,-81.8C430.0,-80.1 432.4,-77.0 434.8,-73.1C437.2,-69.3 441.1,-61.5 440.6,-58.6C440.1,-55.7 436.3,-56.0 431.9,-55.7C427.6,-55.5 418.9,-56.0 414.5,-57.2C410.2,-58.4 407.7,-60.3 405.8,-63.0C403.9,-65.6 401.9,-69.7 402.9,-73.1Z" fill="#82A8FF"/><path d="M-29.5,-229.8C-24.2,-233.9 -4.8,-216.3 2.4,-215.3C9.7,-214.4 8.2,-224.3 14.0,-224.0C19.8,-223.8 31.9,-214.8 37.2,-213.9C42.6,-212.9 41.1,-219.0 45.9,-218.2C50.8,-217.5 61.4,-212.4 66.3,-209.5C71.1,-206.6 70.1,-205.2 75.0,-200.8C79.8,-196.5 90.9,-188.7 95.3,-183.4C99.6,-178.1 97.2,-175.4 101.1,-168.9C105.0,-162.4 113.7,-147.1 118.5,-144.2C123.3,-141.3 126.2,-151.7 130.1,-151.5C134.0,-151.2 137.4,-145.7 141.7,-142.8C146.1,-139.9 155.3,-136.5 156.2,-134.1C157.2,-131.6 149.7,-131.2 147.5,-128.3C145.3,-125.4 143.2,-120.5 143.2,-116.7C143.2,-112.8 144.9,-108.4 147.5,-105.0C150.2,-101.7 156.7,-101.2 159.1,-96.3C161.5,-91.5 162.5,-80.4 162.0,-76.0C161.5,-71.7 158.2,-68.8 156.2,-70.2C154.3,-71.7 153.3,-80.4 150.4,-84.7C147.5,-89.1 141.7,-92.5 138.8,-96.3C135.9,-100.2 133.5,-103.1 133.0,-107.9C132.5,-112.8 137.4,-120.0 135.9,-125.4C134.5,-130.7 127.7,-138.4 124.3,-139.9C120.9,-141.3 118.0,-138.4 115.6,-134.1C113.2,-129.7 113.2,-117.6 109.8,-113.7C106.4,-109.9 98.7,-109.4 95.3,-110.8C91.9,-112.3 92.4,-119.6 89.5,-122.5C86.6,-125.4 79.8,-124.9 77.9,-128.3C75.9,-131.6 75.0,-138.9 77.9,-142.8C80.8,-146.6 93.8,-147.1 95.3,-151.5C96.7,-155.8 90.4,-164.5 86.6,-168.9C82.7,-173.2 76.4,-173.2 72.1,-177.6C67.7,-181.9 65.8,-190.7 60.5,-195.0C55.1,-199.4 47.9,-203.0 40.1,-203.7C32.4,-204.4 20.3,-202.0 14.0,-199.4C7.7,-196.7 9.7,-189.2 2.4,-187.8C-4.8,-186.3 -24.2,-183.6 -29.5,-190.7C-34.8,-197.7 -34.8,-225.7 -29.5,-229.8Z" fill="#B3CCFF"/><path d="M144.6,-51.4C146.1,-54.3 155.3,-56.4 159.1,-55.7C163.0,-55.0 167.1,-50.4 167.8,-47.0C168.6,-43.6 163.7,-38.8 163.5,-35.4C163.2,-32.0 167.1,-28.1 166.4,-26.7C165.7,-25.2 161.8,-24.8 159.1,-26.7C156.5,-28.6 152.8,-34.2 150.4,-38.3C148.0,-42.4 143.2,-48.5 144.6,-51.4Z" fill="#4375FF"/><path d="M221.5,-31.0C222.7,-35.0 228.5,-33.8 231.7,-33.1C234.8,-32.3 239.4,-29.9 240.4,-26.7C241.4,-23.4 240.1,-16.5 237.5,-13.6C234.8,-10.7 227.1,-6.4 224.4,-9.3C221.8,-12.2 220.3,-27.1 221.5,-31.0Z" fill="#4375FF"/></g><g clip-path="url(#qSE)"><path d="M-29.5,284.8C-23.7,337.5 -1.9,283.6 5.3,284.8C12.6,286.0 11.1,288.9 14.0,292.1C16.9,295.2 20.3,299.6 22.7,303.7C25.1,307.8 26.6,312.1 28.5,316.7C30.5,321.3 31.2,328.1 34.3,331.3C37.5,334.4 44.0,337.3 47.4,335.6C50.8,333.9 51.0,325.2 54.7,321.1C58.3,317.0 65.3,316.0 69.2,310.9C73.0,305.9 75.4,296.9 77.9,290.6C80.3,284.3 81.3,278.5 83.7,273.2C86.1,267.9 89.5,263.5 92.4,258.7C95.3,253.9 97.7,247.6 101.1,244.2C104.5,240.8 108.8,238.9 112.7,238.4C116.6,237.9 120.4,239.8 124.3,241.3C128.2,242.7 131.6,245.9 135.9,247.1C140.3,248.3 145.6,249.3 150.4,248.5C155.3,247.8 159.1,245.9 164.9,242.7C170.7,239.6 179.4,233.3 185.2,229.7C191.0,226.0 193.5,223.9 199.8,221.0C206.0,218.1 216.2,214.9 223.0,212.3C229.7,209.6 234.1,207.4 240.4,205.0C246.7,202.6 254.9,200.4 260.7,197.8C266.5,195.1 270.9,191.0 275.2,189.0C279.6,187.1 283.2,189.0 286.8,186.1C290.4,183.2 296.0,176.5 297.0,171.6C297.9,166.8 292.4,161.5 292.6,157.1C292.9,152.8 297.0,149.9 298.4,145.5C299.9,141.2 297.9,136.3 301.3,131.0C304.7,125.7 313.4,119.9 318.7,113.6C324.1,107.3 328.9,100.5 333.3,93.3C337.6,86.0 342.4,78.8 344.9,70.1C347.3,61.4 346.3,50.2 347.8,41.0C349.2,31.9 351.1,22.2 353.6,14.9C356.0,7.7 358.4,0.9 362.3,-2.5C366.1,-5.9 371.0,-6.8 376.8,-5.4C382.6,-3.9 389.8,2.8 397.1,6.2C404.4,9.6 414.5,10.6 420.3,14.9C426.1,19.3 427.1,28.5 431.9,32.3C436.8,36.2 439.2,36.9 449.3,38.1C459.5,39.3 485.6,51.2 492.9,39.6C500.1,28.0 579.9,-19.7 492.9,-31.5C405.8,-43.4 57.6,-84.2 -29.5,-31.5C-116.6,21.2 -35.3,232.1 -29.5,284.8Z" fill="#B3CCFF"/><path d="M-29.5,369.0C-24.2,347.2 -7.3,362.4 2.4,360.3C12.1,358.1 19.3,358.3 28.5,355.9C37.7,353.5 48.8,348.4 57.6,345.8C66.3,343.1 74.5,342.4 80.8,340.0C87.1,337.5 91.9,335.1 95.3,331.3C98.7,327.4 99.1,321.6 101.1,316.7C103.0,311.9 104.5,305.1 106.9,302.2C109.3,299.3 112.7,299.3 115.6,299.3C118.5,299.3 120.9,301.3 124.3,302.2C127.7,303.2 132.8,303.7 135.9,305.1C139.1,306.6 140.7,307.5 143.2,310.9C145.6,314.3 146.8,322.1 150.4,325.4C154.0,328.8 158.6,329.8 164.9,331.3C171.2,332.7 180.4,334.4 188.1,334.2C195.9,333.9 204.1,331.7 211.4,329.8C218.6,327.9 225.9,324.7 231.7,322.5C237.5,320.4 241.8,319.6 246.2,316.7C250.5,313.8 253.4,309.0 257.8,305.1C262.1,301.3 267.0,296.9 272.3,293.5C277.6,290.1 284.9,288.2 289.7,284.8C294.6,281.4 298.4,277.1 301.3,273.2C304.2,269.3 303.3,265.5 307.1,261.6C311.0,257.7 319.2,253.9 324.5,250.0C329.9,246.1 333.7,241.8 339.1,238.4C344.4,235.0 352.6,233.5 356.5,229.7C360.3,225.8 360.8,220.5 362.3,215.2C363.7,209.8 363.7,203.6 365.2,197.8C366.6,192.0 367.1,186.1 371.0,180.3C374.8,174.5 384.0,167.8 388.4,162.9C392.7,158.1 395.2,157.1 397.1,151.3C399.0,145.5 400.7,132.9 400.0,128.1C399.3,123.3 392.7,126.2 392.7,122.3C392.7,118.4 398.3,111.2 400.0,104.9C401.7,98.6 401.0,90.9 402.9,84.6C404.8,78.3 407.7,71.8 411.6,67.2C415.5,62.6 420.8,58.5 426.1,57.0C431.4,55.6 432.4,58.2 443.5,58.5C454.7,58.7 484.6,-13.6 492.9,58.5C501.1,130.5 579.9,418.8 492.9,490.9C405.8,562.9 57.6,511.2 -29.5,490.9C-116.6,470.6 -34.8,390.7 -29.5,369.0Z" fill="#FFEBDB"/><path d="M326.0,300.8C324.5,297.9 333.3,291.1 339.1,284.8C344.9,278.5 355.5,266.9 360.8,263.1C366.1,259.2 373.2,255.1 371.0,261.6C368.8,268.1 355.3,295.7 347.8,302.2C340.3,308.8 327.4,303.7 326.0,300.8Z" fill="#FFCDB5"/><path d="M-29.5,438.6C-25.2,430.2 -10.2,439.1 -3.4,440.1C3.4,441.0 8.7,436.0 11.1,444.4C13.5,452.9 17.9,483.1 11.1,490.9C4.3,498.6 -22.7,499.6 -29.5,490.9C-36.3,482.2 -33.9,447.1 -29.5,438.6Z" fill="#FFCDB5"/><path d="M-29.5,136.8C-25.6,163.9 -13.5,134.4 -6.3,131.0C1.0,127.6 7.2,120.4 14.0,116.5C20.8,112.6 26.6,106.8 34.3,107.8C42.1,108.8 52.7,120.4 60.5,122.3C68.2,124.2 73.0,120.4 80.8,119.4C88.5,118.4 99.1,117.5 106.9,116.5C114.6,115.5 122.8,116.5 127.2,113.6C131.6,110.7 129.1,101.5 133.0,99.1C136.9,96.7 145.6,98.6 150.4,99.1C155.3,99.6 158.2,102.0 162.0,102.0C165.9,102.0 169.3,103.0 173.6,99.1C178.0,95.2 182.8,80.7 188.1,78.8C193.5,76.8 201.2,83.1 205.6,87.5C209.9,91.8 210.9,101.7 214.3,104.9C217.7,108.0 223.5,107.8 225.9,106.3C228.3,104.9 226.8,99.3 228.8,96.2C230.7,93.0 232.6,91.8 237.5,87.5C242.3,83.1 252.5,74.9 257.8,70.1C263.1,65.2 266.5,63.3 269.4,58.5C272.3,53.6 272.8,46.8 275.2,41.0C277.6,35.2 281.0,29.4 283.9,23.6C286.8,17.8 289.7,12.0 292.6,6.2C295.5,0.4 299.4,-4.9 301.3,-11.2C303.3,-17.5 359.4,-28.1 304.2,-31.5C249.1,-34.9 26.1,-59.6 -29.5,-31.5C-85.1,-3.5 -33.4,109.7 -29.5,136.8Z" fill="#82A8FF"/><path d="M223.0,-31.5C220.3,-28.4 222.5,-16.3 224.4,-12.6C226.4,-9.0 231.9,-6.6 234.6,-9.7C237.2,-12.9 242.3,-27.9 240.4,-31.5C238.4,-35.1 225.6,-34.7 223.0,-31.5Z" fill="#4375FF"/></g><path d="M-131.7,11.3C-131.1,9.2 -125.7,8.6 -120.8,7.7C-116.0,6.8 -107.2,5.3 -102.7,5.9C-98.1,6.5 -96.6,9.2 -93.6,11.3C-90.6,13.4 -84.5,16.7 -84.5,18.6C-84.5,20.4 -89.1,21.6 -93.6,22.2C-98.1,22.8 -106.6,22.5 -111.7,22.2C-116.9,21.9 -121.1,22.2 -124.4,20.4C-127.8,18.6 -132.3,13.4 -131.7,11.3Z" fill="#4375FF"/><path d="M-124.4,-5.0C-123.5,-6.5 -116.6,-6.8 -111.7,-6.8C-106.9,-6.8 -97.2,-6.5 -95.4,-5.0C-93.6,-3.5 -97.2,1.0 -100.9,2.2C-104.5,3.4 -113.3,3.4 -117.2,2.2C-121.1,1.0 -125.4,-3.5 -124.4,-5.0Z" fill="#4375FF"/><path d="M-88.3,-19.4C-87.7,-23.0 -84.7,-29.7 -82.9,-33.9C-81.1,-38.1 -80.2,-40.6 -77.4,-44.8C-74.7,-49.0 -70.8,-54.5 -66.6,-59.3C-62.3,-64.1 -57.5,-69.3 -52.0,-73.8C-46.6,-78.4 -40.6,-83.2 -33.9,-86.5C-27.3,-89.8 -19.4,-91.8 -12.1,-93.8C-4.9,-95.7 2.4,-97.4 9.6,-98.3C16.9,-99.2 24.7,-99.4 31.4,-99.2C38.0,-99.1 44.1,-98.9 49.5,-97.4C55.0,-95.9 59.5,-92.9 64.0,-90.1C68.6,-87.4 72.8,-84.1 76.7,-81.1C80.7,-78.0 84.6,-75.3 87.6,-72.0C90.6,-68.7 93.4,-64.4 94.9,-61.1C96.4,-57.8 97.0,-55.4 96.7,-52.0C96.4,-48.7 93.7,-44.8 93.1,-41.2C92.5,-37.5 94.0,-33.9 93.1,-30.3C92.2,-26.7 89.4,-22.7 87.6,-19.4C85.8,-16.1 83.2,-13.7 82.2,-10.3C81.1,-7.0 80.7,-3.4 81.3,0.6C81.9,4.5 85.4,9.3 85.8,13.3C86.3,17.2 85.5,20.5 84.0,24.1C82.5,27.8 80.1,32.0 76.7,35.0C73.4,38.0 68.0,39.2 64.0,42.3C60.1,45.3 57.4,50.1 53.2,53.2C48.9,56.2 43.8,58.6 38.6,60.4C33.5,62.2 27.2,62.8 22.3,64.0C17.5,65.2 13.6,66.3 9.6,67.7C5.7,69.0 2.1,71.1 -1.3,72.2C-4.6,73.3 -7.3,74.8 -10.3,74.0C-13.4,73.3 -17.0,70.8 -19.4,67.7C-21.8,64.5 -23.6,58.7 -24.8,55.0C-26.1,51.2 -25.1,46.5 -26.7,45.0C-28.2,43.5 -30.3,46.4 -33.9,45.9C-37.5,45.4 -44.5,43.2 -48.4,42.3C-52.4,41.4 -54.8,42.6 -57.5,40.5C-60.2,38.3 -62.6,32.9 -64.7,29.6C-66.9,26.3 -69.0,24.7 -70.2,20.5C-71.4,16.3 -70.8,8.4 -72.0,4.2C-73.2,-0.1 -75.0,-2.2 -77.4,-4.9C-79.9,-7.6 -84.7,-9.7 -86.5,-12.1C-88.3,-14.6 -88.9,-15.8 -88.3,-19.4Z" fill="#4375FF"/><use href="#coast" x="0" y="0"/></g><circle cx="0.6" cy="0.2" r="447.9" fill="none" stroke="#000" stroke-width="2.3"/></g>
<clipPath id="clip_map2"><circle cx="-1.0" cy="0.2" r="447.9"/></clipPath><g transform="translate(1527.0,792.0)"><g clip-path="url(#clip_map2)"><circle r="453.9" fill="#D8EBFF"/><g clip-path="url(#qNW)"><path d="M-407.0,-389.4C-388.1,-403.0 -313.0,-347.4 -293.8,-334.3C-274.6,-321.2 -291.7,-318.3 -291.7,-311.1C-291.7,-303.8 -292.5,-296.6 -293.8,-290.8C-295.1,-285.0 -296.2,-279.7 -299.6,-276.3C-303.0,-272.9 -308.3,-270.9 -314.1,-270.5C-319.9,-270.0 -328.6,-273.4 -334.4,-273.4C-340.2,-273.4 -344.1,-272.9 -348.9,-270.5C-353.8,-268.0 -353.8,-261.8 -363.4,-258.9C-373.1,-256.0 -399.7,-231.3 -407.0,-253.0C-414.2,-274.8 -425.8,-375.9 -407.0,-389.4Z" fill="#FFEBDB"/><path d="M-479.5,-183.4C-467.9,-208.3 -423.9,-180.5 -409.9,-179.0C-395.8,-177.6 -399.0,-176.9 -395.3,-174.7C-391.7,-172.5 -392.0,-168.6 -388.1,-166.0C-384.2,-163.3 -376.0,-161.4 -372.1,-158.7C-368.3,-156.1 -365.4,-153.7 -364.9,-150.0C-364.4,-146.4 -367.1,-141.6 -369.2,-137.0C-371.4,-132.4 -375.3,-127.8 -377.9,-122.5C-380.6,-117.1 -383.4,-110.8 -385.2,-105.0C-387.0,-99.2 -388.0,-92.5 -389.0,-87.6C-389.9,-82.8 -388.7,-78.9 -391.0,-76.0C-393.3,-73.1 -399.7,-73.1 -402.6,-70.2C-405.5,-67.3 -405.7,-62.5 -408.4,-58.6C-411.1,-54.7 -414.5,-50.4 -418.6,-47.0C-422.7,-43.6 -428.2,-40.7 -433.1,-38.3C-437.9,-35.9 -439.8,-33.9 -447.6,-32.5C-455.3,-31.0 -474.2,-4.4 -479.5,-29.6C-484.8,-54.7 -491.1,-158.5 -479.5,-183.4Z" fill="#FFEBDB"/><path d="M-312.6,-247.2C-308.5,-252.0 -300.3,-252.2 -290.9,-252.5C-281.4,-252.7 -269.1,-248.5 -256.0,-248.7C-243.0,-248.9 -223.2,-250.6 -212.5,-253.6C-201.9,-256.7 -199.5,-263.9 -192.2,-267.0C-184.9,-270.0 -173.6,-268.4 -169.0,-271.9C-164.4,-275.4 -167.3,-283.3 -164.6,-287.9C-162.0,-292.5 -156.2,-296.1 -153.0,-299.5C-149.9,-302.9 -149.9,-306.0 -145.8,-308.2C-141.7,-310.4 -134.2,-311.5 -128.4,-312.5C-122.6,-313.6 -117.2,-315.3 -110.9,-314.6C-104.7,-313.8 -95.6,-311.2 -90.6,-308.2C-85.7,-305.2 -83.3,-301.9 -81.3,-296.6C-79.4,-291.3 -82.8,-277.7 -79.0,-276.3C-75.3,-274.8 -63.1,-284.5 -58.7,-287.9C-54.4,-291.3 -56.8,-293.9 -52.9,-296.6C-49.0,-299.2 -42.3,-302.1 -35.5,-303.8C-28.7,-305.5 -18.1,-305.8 -12.3,-306.7C-6.5,-307.7 -9.9,-308.9 -0.7,-309.6C8.5,-310.4 35.6,-370.3 42.9,-311.1C50.1,-251.8 116.4,-13.6 42.9,45.9C-30.7,105.4 -326.7,53.1 -398.3,45.9C-469.8,38.6 -390.0,12.5 -386.6,2.3C-383.3,-7.8 -381.3,-9.3 -377.9,-15.1C-374.6,-20.9 -369.7,-26.7 -366.3,-32.5C-362.9,-38.3 -361.0,-44.6 -357.6,-49.9C-354.2,-55.2 -350.4,-59.6 -346.0,-64.4C-341.7,-69.3 -336.8,-74.6 -331.5,-78.9C-326.2,-83.3 -319.9,-86.7 -314.1,-90.5C-308.3,-94.4 -302.5,-98.3 -296.7,-102.1C-290.9,-106.0 -284.6,-109.4 -279.3,-113.7C-273.9,-118.1 -268.1,-123.4 -264.8,-128.3C-261.4,-133.1 -260.4,-137.9 -259.0,-142.8C-257.5,-147.6 -257.3,-153.2 -256.0,-157.3C-254.8,-161.4 -250.7,-163.8 -251.7,-167.4C-252.7,-171.1 -257.3,-175.2 -261.9,-179.0C-266.4,-182.9 -273.0,-187.0 -279.3,-190.7C-285.6,-194.3 -294.3,-197.2 -299.6,-200.8C-304.9,-204.4 -308.5,-208.6 -311.2,-212.4C-313.8,-216.3 -315.3,-218.2 -315.5,-224.0C-315.8,-229.8 -316.8,-242.5 -312.6,-247.2Z" fill="#B3CCFF"/><path d="M-380.8,-205.2C-379.1,-207.9 -369.5,-208.2 -366.3,-207.2C-363.2,-206.2 -362.1,-202.1 -362.0,-199.4C-361.9,-196.6 -363.3,-192.1 -365.7,-190.7C-368.2,-189.2 -374.0,-188.2 -376.5,-190.7C-379.0,-193.1 -382.5,-202.4 -380.8,-205.2Z" fill="#B3CCFF"/><path d="M-357.6,-206.6C-355.5,-207.6 -343.3,-206.9 -340.8,-205.2C-338.3,-203.5 -340.5,-197.4 -342.5,-196.5C-344.6,-195.5 -350.8,-197.7 -353.3,-199.4C-355.8,-201.1 -359.7,-205.6 -357.6,-206.6Z" fill="#B3CCFF"/><path d="M-77.6,-316.9C-74.2,-315.0 -63.8,-296.6 -58.7,-287.9C-53.6,-279.2 -49.5,-272.4 -47.1,-264.7C-44.7,-256.9 -43.2,-247.2 -44.2,-241.4C-45.2,-235.6 -50.5,-235.2 -52.9,-229.8C-55.3,-224.5 -56.8,-212.9 -58.7,-209.5C-60.6,-206.1 -64.5,-206.1 -64.5,-209.5C-64.5,-212.9 -59.7,-222.6 -58.7,-229.8C-57.7,-237.1 -55.8,-248.2 -58.7,-253.0C-61.6,-257.9 -71.3,-256.0 -76.1,-258.9C-81.0,-261.8 -87.5,-266.6 -87.7,-270.5C-88.0,-274.3 -79.0,-277.2 -77.6,-282.1C-76.1,-286.9 -79.0,-293.7 -79.0,-299.5C-79.0,-305.3 -81.0,-318.8 -77.6,-316.9Z" fill="#D8EBFF"/><path d="M-212.5,-245.8C-212.0,-248.5 -206.5,-252.9 -202.4,-254.5C-198.3,-256.1 -190.8,-256.6 -187.9,-255.4C-184.9,-254.2 -184.5,-249.8 -184.9,-247.2C-185.4,-244.7 -187.4,-241.4 -190.8,-240.0C-194.1,-238.5 -201.6,-237.6 -205.3,-238.5C-208.9,-239.5 -213.0,-243.1 -212.5,-245.8Z" fill="#82A8FF"/><path d="M-137.1,-186.3C-136.3,-188.2 -130.5,-190.7 -128.4,-190.7C-126.2,-190.7 -123.3,-188.2 -124.0,-186.3C-124.7,-184.4 -130.5,-179.0 -132.7,-179.0C-134.9,-179.0 -137.8,-184.4 -137.1,-186.3Z" fill="#82A8FF"/><path d="M42.9,-202.3C35.6,-242.4 11.4,-198.2 -0.7,-195.0C-12.8,-191.9 -20.0,-187.8 -29.7,-183.4C-39.4,-179.0 -49.0,-173.7 -58.7,-168.9C-68.4,-164.1 -78.1,-159.2 -87.7,-154.4C-97.4,-149.5 -109.5,-144.7 -116.7,-139.9C-124.0,-135.0 -127.4,-130.7 -131.3,-125.4C-135.1,-120.0 -137.5,-112.8 -140.0,-107.9C-142.4,-103.1 -141.9,-97.8 -145.8,-96.3C-149.6,-94.9 -156.4,-100.7 -163.2,-99.2C-170.0,-97.8 -178.7,-92.0 -186.4,-87.6C-194.1,-83.3 -201.9,-77.5 -209.6,-73.1C-217.4,-68.8 -226.1,-64.9 -232.8,-61.5C-239.6,-58.1 -244.9,-56.2 -250.2,-52.8C-255.6,-49.4 -260.2,-45.1 -264.8,-41.2C-269.4,-37.3 -273.9,-33.9 -277.8,-29.6C-281.7,-25.2 -285.3,-19.9 -288.0,-15.1C-290.6,-10.2 -294.3,-5.4 -293.8,-0.6C-293.3,4.3 -288.0,6.2 -285.1,13.9C-282.2,21.7 -331.0,40.5 -276.4,45.9C-221.7,51.2 -10.3,87.2 42.9,45.9C96.1,4.5 50.1,-162.1 42.9,-202.3Z" fill="#82A8FF"/><path d="M-16.6,-253.0C-14.0,-256.4 -10.6,-257.2 -0.7,-258.9C9.2,-260.5 35.6,-276.8 42.9,-263.2C50.1,-249.7 50.1,-191.6 42.9,-177.6C35.6,-163.6 8.8,-176.6 -0.7,-179.0C-10.1,-181.5 -11.7,-187.5 -13.7,-192.1C-15.8,-196.7 -12.7,-201.8 -12.9,-206.6C-13.0,-211.5 -14.0,-215.8 -14.6,-221.1C-15.2,-226.4 -16.0,-233.2 -16.3,-238.5C-16.7,-243.9 -19.2,-249.7 -16.6,-253.0Z" fill="#82A8FF"/></g><g clip-path="url(#qSW)"><path d="M-366.3,-34.4C-438.4,-28.6 -383.5,-8.8 -389.5,0.4C-395.6,9.6 -399.7,14.0 -402.6,20.7C-405.5,27.5 -406.0,35.2 -407.0,41.0C-407.9,46.8 -407.0,49.3 -408.4,55.6C-409.9,61.8 -413.5,72.0 -415.7,78.8C-417.8,85.5 -419.3,90.9 -421.5,96.2C-423.6,101.5 -428.0,105.4 -428.7,110.7C-429.4,116.0 -428.0,122.3 -425.8,128.1C-423.6,133.9 -418.8,140.2 -415.7,145.5C-412.5,150.8 -409.6,155.7 -407.0,160.0C-404.3,164.4 -403.1,166.3 -399.7,171.6C-396.3,177.0 -390.8,186.1 -386.6,192.0C-382.5,197.8 -379.4,201.1 -375.0,206.5C-370.7,211.8 -364.9,220.0 -360.5,223.9C-356.2,227.7 -352.3,230.6 -348.9,229.7C-345.5,228.7 -343.1,221.5 -340.2,218.1C-337.3,214.7 -335.4,210.3 -331.5,209.4C-327.6,208.4 -320.9,208.4 -317.0,212.3C-313.1,216.1 -312.6,225.3 -308.3,232.6C-303.9,239.8 -296.2,249.5 -290.9,255.8C-285.6,262.1 -282.2,265.5 -276.4,270.3C-270.6,275.1 -263.8,280.9 -256.0,284.8C-248.3,288.7 -237.7,290.6 -229.9,293.5C-222.2,296.4 -216.9,299.1 -209.6,302.2C-202.4,305.4 -194.1,309.7 -186.4,312.4C-178.7,315.0 -170.4,316.7 -163.2,318.2C-155.9,319.6 -149.6,321.3 -142.9,321.1C-136.1,320.9 -129.8,318.4 -122.6,316.7C-115.3,315.0 -107.1,312.9 -99.3,310.9C-91.6,309.0 -83.4,307.3 -76.1,305.1C-68.9,303.0 -61.6,300.8 -55.8,297.9C-50.0,295.0 -44.7,290.9 -41.3,287.7C-37.9,284.6 -35.0,282.4 -35.5,279.0C-36.0,275.6 -41.8,271.8 -44.2,267.4C-46.6,263.1 -49.3,257.0 -50.0,252.9C-50.7,248.8 -50.5,245.4 -48.6,242.7C-46.6,240.1 -43.0,237.4 -38.4,236.9C-33.8,236.4 -26.3,237.9 -21.0,239.8C-15.7,241.8 -12.5,246.1 -6.5,248.5C-0.5,251.0 6.8,253.1 15.0,254.3C23.2,255.6 38.2,303.9 42.9,255.8C47.5,207.7 111.1,14.0 42.9,-34.4C-25.3,-82.8 -294.3,-40.2 -366.3,-34.4Z" fill="#B3CCFF"/><path d="M-232.8,232.6C-233.1,234.5 -227.5,246.7 -224.1,251.4C-220.7,256.2 -216.4,259.2 -212.5,261.0C-208.6,262.8 -204.5,263.3 -200.9,262.2C-197.3,261.1 -193.9,257.6 -190.8,254.3C-187.6,251.1 -184.7,246.6 -182.0,242.7C-179.4,238.9 -174.1,233.8 -174.8,231.1C-175.5,228.5 -182.0,227.5 -186.4,226.8C-190.8,226.0 -196.6,226.0 -200.9,226.8C-205.3,227.5 -208.9,229.0 -212.5,231.1C-216.1,233.3 -219.3,239.6 -222.7,239.8C-226.1,240.1 -232.6,230.6 -232.8,232.6Z" fill="#D8EBFF"/><path d="M-319.9,78.8C-317.0,73.0 -306.8,72.0 -302.5,73.0C-298.1,73.9 -294.7,79.3 -293.8,84.6C-292.8,89.9 -295.2,100.5 -296.7,104.9C-298.1,109.2 -298.6,110.2 -302.5,110.7C-306.4,111.2 -317.0,113.1 -319.9,107.8C-322.8,102.5 -322.8,84.6 -319.9,78.8Z" fill="#82A8FF"/><path d="M-334.4,144.1C-332.5,141.2 -325.2,140.2 -319.9,139.7C-314.6,139.2 -303.5,138.3 -302.5,141.2C-301.5,144.1 -309.3,154.5 -314.1,157.1C-318.9,159.8 -328.1,159.3 -331.5,157.1C-334.9,154.9 -336.3,147.0 -334.4,144.1Z" fill="#82A8FF"/><path d="M-293.8,-34.4C-349.4,-28.6 -291.8,-8.8 -290.9,0.4C-289.9,9.6 -288.0,14.0 -288.0,20.7C-288.0,27.5 -291.4,35.2 -290.9,41.0C-290.4,46.8 -287.0,50.7 -285.1,55.6C-283.1,60.4 -280.7,62.8 -279.3,70.1C-277.8,77.3 -276.4,90.9 -276.4,99.1C-276.4,107.3 -281.7,115.0 -279.3,119.4C-276.8,123.8 -267.7,125.2 -261.9,125.2C-256.0,125.2 -249.3,119.9 -244.4,119.4C-239.6,118.9 -235.3,120.3 -232.8,122.3C-230.4,124.3 -233.8,129.7 -229.9,131.6C-226.1,133.4 -216.4,133.7 -209.6,133.3C-202.8,133.0 -194.6,128.5 -189.3,129.6C-184.0,130.6 -175.3,136.6 -177.7,139.7C-180.1,142.9 -197.5,144.5 -203.8,148.4C-210.1,152.3 -211.6,156.6 -215.4,162.9C-219.3,169.2 -223.6,178.9 -227.0,186.1C-230.4,193.4 -235.0,199.2 -235.7,206.5C-236.5,213.7 -233.3,224.4 -231.4,229.7C-229.4,235.0 -228.7,239.4 -224.1,238.4C-219.5,237.4 -210.1,228.0 -203.8,223.9C-197.5,219.8 -191.2,216.6 -186.4,213.7C-181.6,210.8 -180.6,206.5 -174.8,206.5C-169.0,206.5 -159.8,212.7 -151.6,213.7C-143.4,214.7 -133.7,212.5 -125.5,212.3C-117.2,212.0 -109.5,211.3 -102.2,212.3C-95.0,213.2 -89.2,218.6 -81.9,218.1C-74.7,217.6 -63.7,213.5 -58.7,209.4C-53.7,205.2 -56.4,199.1 -52.0,193.1C-47.7,187.1 -38.4,180.4 -32.6,173.4C-26.8,166.4 -22.0,158.0 -17.2,151.0C-12.4,144.1 -8.3,137.5 -3.6,131.6C1.1,125.6 5.6,119.3 10.9,115.3C16.3,111.4 23.0,109.5 28.4,107.8C33.7,106.0 40.4,128.6 42.9,104.9C45.3,81.2 99.0,-11.2 42.9,-34.4C-13.2,-57.6 -238.2,-40.2 -293.8,-34.4Z" fill="#82A8FF"/><path d="M-209.6,-34.4C-252.2,-28.6 -211.6,-7.8 -212.5,0.4C-213.5,8.6 -216.4,10.6 -215.4,14.9C-214.5,19.3 -208.6,22.2 -206.7,26.5C-204.8,30.9 -203.3,36.2 -203.8,41.0C-204.3,45.9 -207.2,51.2 -209.6,55.6C-212.0,59.9 -214.5,63.3 -218.3,67.2C-222.2,71.0 -228.5,74.9 -232.8,78.8C-237.2,82.6 -243.0,86.5 -244.4,90.4C-245.9,94.2 -243.5,99.1 -241.5,102.0C-239.6,104.9 -236.7,107.3 -232.8,107.8C-229.0,108.3 -223.2,107.3 -218.3,104.9C-213.5,102.5 -208.2,98.1 -203.8,93.3C-199.5,88.4 -195.1,81.7 -192.2,75.9C-189.3,70.1 -188.3,64.3 -186.4,58.5C-184.5,52.7 -183.5,45.2 -180.6,41.0C-177.7,36.9 -173.3,35.7 -169.0,33.8C-164.6,31.9 -158.3,29.2 -154.5,29.4C-150.6,29.7 -148.7,33.3 -145.8,35.2C-142.9,37.2 -141.9,40.6 -137.1,41.0C-132.2,41.5 -123.0,38.9 -116.7,38.1C-110.5,37.4 -105.6,36.4 -99.3,36.7C-93.0,36.9 -84.8,37.7 -79.0,39.6C-73.2,41.5 -69.8,45.6 -64.5,48.3C-59.2,51.0 -52.4,52.4 -47.1,55.6C-41.8,58.7 -36.9,62.3 -32.6,67.2C-28.2,72.0 -24.4,78.3 -21.0,84.6C-17.6,90.9 -15.7,103.4 -12.3,104.9C-8.9,106.3 -5.2,97.1 -0.7,93.3C3.9,89.4 7.7,84.6 15.0,81.7C22.3,78.8 38.2,95.2 42.9,75.9C47.5,56.5 84.9,-16.0 42.9,-34.4C0.8,-52.8 -167.1,-40.2 -209.6,-34.4Z" fill="#4375FF"/><path d="M-131.3,45.4C-134.9,48.8 -137.8,53.4 -138.5,58.5C-139.2,63.5 -134.9,69.6 -135.6,75.9C-136.3,82.2 -139.7,89.9 -142.9,96.2C-146.0,102.5 -151.1,108.3 -154.5,113.6C-157.9,118.9 -159.3,122.8 -163.2,128.1C-167.1,133.4 -172.4,140.7 -177.7,145.5C-183.0,150.4 -189.8,152.8 -195.1,157.1C-200.4,161.5 -205.3,166.3 -209.6,171.6C-214.0,177.0 -218.6,183.2 -221.2,189.0C-223.9,194.9 -225.1,201.1 -225.6,206.5C-226.1,211.8 -225.8,218.1 -224.1,221.0C-222.4,223.9 -218.8,224.8 -215.4,223.9C-212.0,222.9 -208.6,218.1 -203.8,215.2C-199.0,212.3 -191.2,209.1 -186.4,206.5C-181.6,203.8 -180.6,199.0 -174.8,199.2C-169.0,199.4 -159.8,206.9 -151.6,207.9C-143.4,208.9 -134.2,205.7 -125.5,205.0C-116.7,204.3 -106.6,205.0 -99.3,203.6C-92.1,202.1 -87.2,199.7 -81.9,196.3C-76.6,192.9 -72.3,189.3 -67.4,183.2C-62.6,177.2 -57.7,169.2 -52.9,160.0C-48.1,150.8 -43.2,138.3 -38.4,128.1C-33.6,117.9 -26.8,106.3 -23.9,99.1C-21.0,91.8 -19.5,89.9 -21.0,84.6C-22.4,79.3 -28.2,72.0 -32.6,67.2C-36.9,62.3 -41.8,58.7 -47.1,55.6C-52.4,52.4 -59.2,51.0 -64.5,48.3C-69.8,45.6 -73.2,41.5 -79.0,39.6C-84.8,37.7 -93.0,36.9 -99.3,36.7C-105.6,36.4 -111.4,36.7 -116.7,38.1C-122.1,39.6 -127.6,42.0 -131.3,45.4Z" fill="#4375FF"/><path d="M-96.4,61.4C-101.0,62.7 -108.3,65.7 -112.4,70.1C-116.5,74.4 -118.4,81.7 -121.1,87.5C-123.8,93.3 -125.2,99.1 -128.4,104.9C-131.5,110.7 -136.1,116.5 -140.0,122.3C-143.8,128.1 -147.7,133.9 -151.6,139.7C-155.4,145.5 -158.3,151.3 -163.2,157.1C-168.0,162.9 -174.8,169.7 -180.6,174.5C-186.4,179.4 -194.1,182.3 -198.0,186.1C-201.9,190.0 -204.8,194.9 -203.8,197.8C-202.8,200.7 -197.0,203.8 -192.2,203.6C-187.4,203.3 -181.6,196.5 -174.8,196.3C-168.0,196.1 -159.3,201.9 -151.6,202.1C-143.8,202.3 -136.1,199.9 -128.4,197.8C-120.6,195.6 -111.9,192.4 -105.1,189.0C-98.4,185.7 -93.0,182.3 -87.7,177.4C-82.4,172.6 -77.1,166.3 -73.2,160.0C-69.3,153.7 -66.7,147.9 -64.5,139.7C-62.3,131.5 -60.6,120.4 -60.2,110.7C-59.7,101.0 -59.4,88.9 -61.6,81.7C-63.8,74.4 -69.3,70.4 -73.2,67.2C-77.1,63.9 -81.0,62.9 -84.8,61.9C-88.7,61.0 -91.8,60.0 -96.4,61.4Z" fill="#1A4CFF"/><path d="M-100.8,110.7C-103.1,110.2 -108.8,115.5 -112.4,119.4C-116.0,123.3 -119.4,128.6 -122.6,133.9C-125.7,139.2 -128.6,145.5 -131.3,151.3C-133.9,157.1 -137.5,164.4 -138.5,168.7C-139.5,173.1 -139.2,176.2 -137.1,177.4C-134.9,178.6 -129.3,178.4 -125.5,176.0C-121.6,173.6 -117.5,168.0 -113.8,162.9C-110.2,157.9 -106.2,152.3 -103.7,145.5C-101.2,138.7 -99.2,128.1 -98.8,122.3C-98.3,116.5 -98.5,111.2 -100.8,110.7Z" fill="#002DE0"/><path d="M-247.3,371.9C-242.5,353.3 -228.0,377.0 -218.3,379.1C-208.6,381.3 -199.0,383.3 -189.3,384.9C-179.6,386.5 -170.0,387.5 -160.3,388.7C-150.6,389.9 -140.9,391.1 -131.3,392.2C-121.6,393.3 -110.9,394.4 -102.2,395.1C-93.5,395.8 -86.0,395.3 -79.0,396.5C-72.0,397.8 -66.0,402.4 -60.2,402.4C-54.4,402.4 -49.3,399.4 -44.2,396.5C-39.1,393.6 -34.3,389.0 -29.7,384.9C-25.1,380.8 -21.5,375.5 -16.6,371.9C-11.8,368.3 -10.6,365.6 -0.7,363.2C9.2,360.8 35.6,336.1 42.9,357.4C50.1,378.7 91.2,468.6 42.9,490.9C-5.5,513.1 -199.0,510.7 -247.3,490.9C-295.7,471.0 -252.2,390.5 -247.3,371.9Z" fill="#FFEBDB"/><path d="M-64.5,437.2C-62.6,427.7 -57.3,434.8 -52.9,434.3C-48.6,433.8 -43.2,433.6 -38.4,434.3C-33.6,434.9 -30.2,437.1 -23.9,438.0C-17.6,439.0 -11.8,439.7 -0.7,440.1C10.5,440.4 35.6,431.6 42.9,440.1C50.1,448.5 60.8,482.4 42.9,490.9C25.0,499.3 -46.6,499.8 -64.5,490.9C-82.4,481.9 -66.4,446.6 -64.5,437.2Z" fill="#FFCDB5"/></g><g clip-path="url(#qNE)"><path d="M86.6,-290.8C85.1,-291.7 89.0,-300.0 92.4,-305.3C95.8,-310.6 104.0,-315.9 106.9,-322.7C109.8,-329.5 107.4,-338.7 109.8,-345.9C112.2,-353.2 116.1,-359.9 121.4,-366.2C126.7,-372.5 134.7,-379.5 141.7,-383.6C148.7,-387.8 160.1,-393.3 163.5,-390.9C166.9,-388.5 163.2,-377.1 162.0,-369.1C160.8,-361.2 159.4,-349.5 156.2,-343.0C153.1,-336.5 148.5,-333.8 143.2,-330.0C137.8,-326.1 129.9,-323.4 124.3,-319.8C118.7,-316.2 113.7,-311.6 109.8,-308.2C105.9,-304.8 105.0,-302.4 101.1,-299.5C97.2,-296.6 88.0,-289.8 86.6,-290.8Z" fill="#B3CCFF"/><path d="M-29.5,-308.2C-25.2,-367.4 -9.2,-310.5 -3.4,-309.6C2.4,-308.8 -0.0,-302.2 5.3,-303.0C10.6,-303.7 19.8,-310.5 28.5,-314.0C37.2,-317.5 48.8,-323.4 57.6,-324.2C66.3,-324.9 76.2,-321.5 80.8,-318.3C85.4,-315.2 85.1,-310.1 85.1,-305.3C85.1,-300.5 78.1,-290.9 80.8,-289.3C83.4,-287.8 96.0,-293.7 101.1,-296.0C106.2,-298.3 109.3,-303.8 111.2,-303.0C113.2,-302.1 110.8,-293.5 112.7,-290.8C114.6,-288.0 118.0,-285.6 122.8,-286.4C127.7,-287.3 138.2,-292.6 141.7,-296.0C145.2,-299.4 142.1,-303.3 144.0,-306.7C146.0,-310.2 148.9,-314.2 153.3,-316.9C157.8,-319.6 164.9,-320.5 170.7,-322.7C176.5,-324.9 181.9,-327.5 188.1,-330.0C194.4,-332.4 202.2,-336.5 208.5,-337.2C214.7,-337.9 221.0,-336.2 225.9,-334.3C230.7,-332.4 234.1,-328.3 237.5,-325.6C240.9,-322.9 243.3,-317.9 246.2,-318.3C249.1,-318.8 251.7,-325.1 254.9,-328.5C258.0,-331.9 259.5,-335.8 265.1,-338.7C270.6,-341.6 272.1,-339.9 288.3,-345.9C304.5,-352.0 328.2,-370.1 362.3,-374.9C396.4,-379.8 471.1,-445.1 492.9,-374.9C514.6,-304.8 579.9,-24.3 492.9,45.9C405.8,116.0 57.6,104.9 -29.5,45.9C-116.6,-13.1 -33.9,-248.9 -29.5,-308.2Z" fill="#B3CCFF"/><path d="M391.3,-203.7C386.7,-200.3 391.0,-191.0 392.7,-186.3C394.4,-181.6 396.9,-177.7 401.4,-175.3C406.0,-172.9 417.2,-166.6 420.3,-171.8C423.5,-177.0 425.1,-201.3 420.3,-206.6C415.5,-211.9 395.9,-207.1 391.3,-203.7Z" fill="#D8EBFF"/><path d="M407.3,-131.2C408.0,-133.6 412.3,-136.5 417.4,-137.0C422.5,-137.5 434.3,-139.4 437.7,-134.1C441.1,-128.7 440.6,-109.2 437.7,-105.0C434.8,-100.9 424.4,-106.5 420.3,-109.4C416.2,-112.3 415.2,-118.8 413.1,-122.5C410.9,-126.1 406.5,-128.7 407.3,-131.2Z" fill="#D8EBFF"/><path d="M373.9,31.4C357.0,28.5 373.9,17.6 376.8,13.9C379.7,10.3 386.0,9.6 391.3,9.6C396.6,9.6 401.0,12.2 408.7,13.9C416.4,15.6 426.1,16.8 437.7,19.7C449.3,22.6 489.0,29.4 478.4,31.4C467.7,33.3 390.8,34.3 373.9,31.4Z" fill="#D8EBFF"/><path d="M-29.5,-258.9C-24.2,-309.6 -5.8,-258.4 2.4,-258.9C10.6,-259.3 16.7,-258.9 19.8,-261.8C23.0,-264.7 19.8,-271.4 21.3,-276.3C22.7,-281.1 24.9,-285.9 28.5,-290.8C32.2,-295.6 38.2,-302.6 43.0,-305.3C47.9,-307.9 53.2,-308.2 57.6,-306.7C61.9,-305.3 65.3,-299.7 69.2,-296.6C73.0,-293.4 75.4,-289.8 80.8,-287.9C86.1,-285.9 94.8,-285.9 101.1,-285.0C107.4,-284.0 111.2,-281.3 118.5,-282.1C125.8,-282.8 137.8,-288.8 144.6,-289.3C151.4,-289.8 154.3,-287.4 159.1,-285.0C164.0,-282.6 167.8,-278.7 173.6,-274.8C179.4,-270.9 187.2,-264.7 194.0,-261.8C200.7,-258.9 208.0,-257.4 214.3,-257.4C220.6,-257.4 224.9,-260.5 231.7,-261.8C238.4,-263.0 247.6,-263.2 254.9,-264.7C262.1,-266.1 269.9,-270.0 275.2,-270.5C280.5,-270.9 283.2,-270.0 286.8,-267.6C290.4,-265.1 294.1,-261.3 297.0,-256.0C299.9,-250.6 301.6,-242.4 304.2,-235.6C306.9,-228.9 309.5,-221.6 312.9,-215.3C316.3,-209.0 319.7,-202.7 324.5,-197.9C329.4,-193.1 337.1,-191.1 342.0,-186.3C346.8,-181.5 350.2,-173.7 353.6,-168.9C357.0,-164.1 359.4,-160.7 362.3,-157.3C365.2,-153.9 369.8,-152.4 371.0,-148.6C372.2,-144.7 371.5,-137.5 369.5,-134.1C367.6,-130.7 364.0,-130.0 359.4,-128.3C354.8,-126.6 347.3,-122.9 342.0,-123.9C336.6,-124.9 332.3,-131.4 327.4,-134.1C322.6,-136.7 317.8,-138.9 312.9,-139.9C308.1,-140.8 300.4,-136.5 298.4,-139.9C296.5,-143.3 301.8,-154.4 301.3,-160.2C300.8,-166.0 298.9,-170.8 295.5,-174.7C292.1,-178.6 285.4,-179.0 281.0,-183.4C276.7,-187.8 272.3,-195.0 269.4,-200.8C266.5,-206.6 265.5,-213.4 263.6,-218.2C261.7,-223.1 260.7,-227.2 257.8,-229.8C254.9,-232.5 249.6,-234.7 246.2,-234.2C242.8,-233.7 239.4,-230.6 237.5,-226.9C235.5,-223.3 233.6,-217.3 234.6,-212.4C235.5,-207.6 240.4,-201.8 243.3,-197.9C246.2,-194.0 250.8,-193.1 252.0,-189.2C253.2,-185.3 249.6,-179.5 250.5,-174.7C251.5,-169.9 256.3,-165.5 257.8,-160.2C259.2,-154.9 257.8,-147.6 259.2,-142.8C260.7,-137.9 262.9,-134.5 266.5,-131.2C270.1,-127.8 277.1,-126.8 281.0,-122.5C284.9,-118.1 287.8,-111.3 289.7,-105.0C291.7,-98.8 291.2,-92.0 292.6,-84.7C294.1,-77.5 296.7,-69.3 298.4,-61.5C300.1,-53.8 301.8,-45.1 302.8,-38.3C303.7,-31.5 304.5,-26.7 304.2,-20.9C304.0,-15.1 303.3,-8.3 301.3,-3.5C299.4,1.4 294.6,-0.1 292.6,8.1C290.7,16.4 343.4,39.6 289.7,45.9C236.0,52.2 23.7,96.7 -29.5,45.9C-82.7,-4.9 -34.8,-208.1 -29.5,-258.9Z" fill="#82A8FF"/><path d="M402.9,-73.1C403.9,-76.5 407.7,-81.8 411.6,-83.3C415.5,-84.7 422.2,-83.5 426.1,-81.8C430.0,-80.1 432.4,-77.0 434.8,-73.1C437.2,-69.3 441.1,-61.5 440.6,-58.6C440.1,-55.7 436.3,-56.0 431.9,-55.7C427.6,-55.5 418.9,-56.0 414.5,-57.2C410.2,-58.4 407.7,-60.3 405.8,-63.0C403.9,-65.6 401.9,-69.7 402.9,-73.1Z" fill="#82A8FF"/><path d="M-29.5,-102.1C-24.2,-127.5 -8.7,-105.5 2.4,-106.5C13.5,-107.5 27.6,-108.7 37.2,-107.9C46.9,-107.2 53.2,-105.0 60.5,-102.1C67.7,-99.2 75.0,-94.9 80.8,-90.5C86.6,-86.2 91.9,-81.3 95.3,-76.0C98.7,-70.7 100.4,-64.4 101.1,-58.6C101.8,-52.8 99.6,-46.5 99.6,-41.2C99.6,-35.9 102.3,-31.0 101.1,-26.7C99.9,-22.3 95.3,-19.9 92.4,-15.1C89.5,-10.2 84.6,-3.5 83.7,2.3C82.7,8.1 85.6,12.5 86.6,19.7C87.5,27.0 108.8,41.5 89.5,45.9C70.1,50.2 -9.7,70.5 -29.5,45.9C-49.3,21.2 -34.8,-76.7 -29.5,-102.1Z" fill="#4375FF"/><path d="M159.1,-81.8C161.1,-86.7 164.0,-92.5 167.8,-93.4C171.7,-94.4 179.4,-91.0 182.3,-87.6C185.2,-84.2 186.7,-78.4 185.2,-73.1C183.8,-67.8 174.1,-61.0 173.6,-55.7C173.2,-50.4 180.4,-47.0 182.3,-41.2C184.3,-35.4 185.7,-28.1 185.2,-20.9C184.8,-13.6 180.9,-8.8 179.4,2.3C178.0,13.5 181.9,38.6 176.5,45.9C171.2,53.1 150.4,54.1 147.5,45.9C144.6,37.6 159.1,7.7 159.1,-3.5C159.1,-14.6 151.4,-15.6 147.5,-20.9C143.6,-26.2 138.3,-30.6 135.9,-35.4C133.5,-40.2 132.0,-45.6 133.0,-49.9C134.0,-54.3 137.8,-59.1 141.7,-61.5C145.6,-63.9 153.3,-61.0 156.2,-64.4C159.1,-67.8 157.2,-77.0 159.1,-81.8Z" fill="#4375FF"/><path d="M185.2,-70.2C186.2,-72.9 194.4,-73.6 196.9,-71.7C199.3,-69.7 200.7,-61.3 199.8,-58.6C198.8,-56.0 193.5,-53.8 191.0,-55.7C188.6,-57.6 184.3,-67.6 185.2,-70.2Z" fill="#4375FF"/><path d="M220.1,-33.9C222.2,-36.4 228.3,-36.4 231.7,-35.4C235.1,-34.4 239.4,-31.8 240.4,-28.1C241.4,-24.5 240.1,-16.8 237.5,-13.6C234.8,-10.5 227.6,-8.1 224.4,-9.3C221.3,-10.5 219.3,-16.8 218.6,-20.9C217.9,-25.0 217.9,-31.5 220.1,-33.9Z" fill="#4375FF"/></g><g clip-path="url(#qSE)"><path d="M-29.5,252.9C-24.7,300.5 -7.7,253.4 -0.5,254.3C6.8,255.3 8.7,258.4 14.0,258.7C19.3,259.0 26.1,256.6 31.4,256.4C36.8,256.1 44.3,252.0 45.9,257.2C47.6,262.5 45.0,279.7 41.6,287.7C38.2,295.7 27.8,298.8 25.6,305.1C23.5,311.4 27.1,320.4 28.5,325.4C30.0,330.5 31.2,333.9 34.3,335.6C37.5,337.3 44.5,337.8 47.4,335.6C50.3,333.4 48.6,326.2 51.7,322.5C54.9,318.9 62.9,318.2 66.3,313.8C69.6,309.5 70.6,301.3 72.1,296.4C73.5,291.6 73.5,288.7 75.0,284.8C76.4,280.9 78.6,277.6 80.8,273.2C82.9,268.9 85.1,263.5 88.0,258.7C90.9,253.9 94.1,247.8 98.2,244.2C102.3,240.6 107.4,238.4 112.7,236.9C118.0,235.5 124.8,236.0 130.1,235.5C135.4,235.0 140.7,236.0 144.6,234.0C148.5,232.1 149.0,226.0 153.3,223.9C157.7,221.7 164.9,222.4 170.7,221.0C176.5,219.5 181.4,216.6 188.1,215.2C194.9,213.7 204.1,214.0 211.4,212.3C218.6,210.6 225.4,207.4 231.7,205.0C238.0,202.6 243.8,199.9 249.1,197.8C254.4,195.6 258.3,193.6 263.6,192.0C268.9,190.3 276.2,189.0 281.0,187.6C285.8,186.1 289.5,185.9 292.6,183.2C295.8,180.6 299.2,176.0 299.9,171.6C300.6,167.3 296.7,161.5 297.0,157.1C297.2,152.8 300.1,149.9 301.3,145.5C302.5,141.2 301.3,136.3 304.2,131.0C307.1,125.7 313.9,119.9 318.7,113.6C323.6,107.3 328.9,100.5 333.3,93.3C337.6,86.0 342.0,77.8 344.9,70.1C347.8,62.3 348.7,54.1 350.7,46.8C352.6,39.6 354.0,32.3 356.5,26.5C358.9,20.7 361.3,15.2 365.2,12.0C369.0,8.9 374.4,7.7 379.7,7.7C385.0,7.7 391.3,10.8 397.1,12.0C402.9,13.2 409.7,12.5 414.5,14.9C419.3,17.3 422.2,22.7 426.1,26.5C430.0,30.4 433.9,36.0 437.7,38.1C441.6,40.3 440.1,39.3 449.3,39.6C458.5,39.8 485.6,51.4 492.9,39.6C500.1,27.7 579.9,-19.7 492.9,-31.5C405.8,-43.4 57.6,-78.9 -29.5,-31.5C-116.6,15.9 -34.3,205.3 -29.5,252.9Z" fill="#B3CCFF"/><path d="M-29.5,363.2C-24.2,340.9 -7.3,359.1 2.4,357.4C12.1,355.7 19.3,355.2 28.5,353.0C37.7,350.8 48.8,346.7 57.6,344.3C66.3,341.9 74.5,340.9 80.8,338.5C87.1,336.1 91.9,333.4 95.3,329.8C98.7,326.2 99.1,321.3 101.1,316.7C103.0,312.1 104.5,305.4 106.9,302.2C109.3,299.1 112.7,298.1 115.6,297.9C118.5,297.6 120.9,299.8 124.3,300.8C127.7,301.7 132.5,303.0 135.9,303.7C139.3,304.4 142.0,303.9 144.6,305.1C147.3,306.3 149.9,308.0 151.9,310.9C153.8,313.8 153.1,319.6 156.2,322.5C159.4,325.4 165.4,327.4 170.7,328.3C176.1,329.3 181.4,329.1 188.1,328.3C194.9,327.6 204.1,325.9 211.4,324.0C218.6,322.1 225.9,319.9 231.7,316.7C237.5,313.6 241.8,307.8 246.2,305.1C250.5,302.5 253.4,302.5 257.8,300.8C262.1,299.1 267.0,297.6 272.3,295.0C277.6,292.3 284.9,288.4 289.7,284.8C294.6,281.2 298.4,277.1 301.3,273.2C304.2,269.3 303.3,265.2 307.1,261.6C311.0,258.0 319.2,255.1 324.5,251.4C329.9,247.8 333.7,243.0 339.1,239.8C344.4,236.7 352.6,236.2 356.5,232.6C360.3,229.0 360.8,223.4 362.3,218.1C363.7,212.7 363.2,206.9 365.2,200.7C367.1,194.4 370.0,186.1 373.9,180.3C377.7,174.5 384.5,170.2 388.4,165.8C392.3,161.5 394.2,159.5 397.1,154.2C400.0,148.9 404.8,140.7 405.8,133.9C406.8,127.1 403.9,119.9 402.9,113.6C401.9,107.3 399.0,102.0 400.0,96.2C401.0,90.4 405.8,83.8 408.7,78.8C411.6,73.7 413.5,68.9 417.4,65.7C421.3,62.6 426.6,61.0 431.9,59.9C437.2,58.8 439.2,59.2 449.3,59.0C459.5,58.9 485.6,-12.9 492.9,59.0C500.1,131.0 579.9,418.9 492.9,490.9C405.8,562.8 57.6,512.1 -29.5,490.9C-116.6,469.6 -34.8,385.4 -29.5,363.2Z" fill="#FFEBDB"/><path d="M330.3,297.9C329.6,294.2 339.8,285.1 343.4,280.5C347.0,275.9 349.0,272.2 352.1,270.3C355.3,268.4 363.0,263.5 362.3,268.9C361.5,274.2 353.1,297.4 347.8,302.2C342.4,307.1 331.1,301.5 330.3,297.9Z" fill="#FFCDB5"/><path d="M-29.5,440.1C-25.2,431.8 -9.7,440.2 -3.4,440.9C2.9,441.7 6.3,436.1 8.2,444.4C10.2,452.8 14.5,483.1 8.2,490.9C1.9,498.6 -23.2,499.3 -29.5,490.9C-35.8,482.4 -33.9,448.4 -29.5,440.1Z" fill="#FFCDB5"/><path d="M-29.5,136.8C-25.6,163.4 -12.1,131.0 -6.3,128.1C-0.5,125.2 0.5,120.8 5.3,119.4C10.2,117.9 15.5,117.9 22.7,119.4C30.0,120.8 40.6,127.6 48.8,128.1C57.1,128.6 64.3,123.8 72.1,122.3C79.8,120.8 87.5,120.4 95.3,119.4C103.0,118.4 111.2,117.9 118.5,116.5C125.8,115.0 134.0,110.2 138.8,110.7C143.6,111.2 143.2,117.5 147.5,119.4C151.9,121.3 159.1,123.8 164.9,122.3C170.7,120.8 177.5,112.1 182.3,110.7C187.2,109.2 190.1,111.7 194.0,113.6C197.8,115.5 201.7,121.8 205.6,122.3C209.4,122.8 212.8,118.4 217.2,116.5C221.5,114.6 227.8,113.6 231.7,110.7C235.5,107.8 236.0,103.4 240.4,99.1C244.7,94.7 252.5,88.9 257.8,84.6C263.1,80.2 268.4,78.3 272.3,73.0C276.2,67.6 279.1,59.9 281.0,52.7C282.9,45.4 282.0,36.7 283.9,29.4C285.8,22.2 289.7,15.4 292.6,9.1C295.5,2.8 299.4,-1.5 301.3,-8.3C303.3,-15.1 359.4,-27.6 304.2,-31.5C249.1,-35.4 26.1,-59.6 -29.5,-31.5C-85.1,-3.5 -33.4,110.2 -29.5,136.8Z" fill="#82A8FF"/><path d="M-29.5,93.3C-25.6,112.6 -13.5,87.5 -6.3,84.6C1.0,81.7 6.8,78.8 14.0,75.9C21.3,73.0 30.0,70.5 37.2,67.2C44.5,63.8 51.3,59.4 57.6,55.6C63.8,51.7 70.1,47.8 75.0,43.9C79.8,40.1 83.9,37.2 86.6,32.3C89.2,27.5 91.2,20.7 90.9,14.9C90.7,9.1 85.8,2.8 85.1,-2.5C84.4,-7.8 85.4,-12.2 86.6,-17.0C87.8,-21.8 111.7,-29.1 92.4,-31.5C73.0,-33.9 -9.2,-52.3 -29.5,-31.5C-49.8,-10.7 -33.4,73.9 -29.5,93.3Z" fill="#4375FF"/><path d="M147.5,-31.5C143.6,-28.1 155.3,-17.0 159.1,-11.2C163.0,-5.4 167.8,2.3 170.7,3.3C173.6,4.3 174.6,0.4 176.5,-5.4C178.5,-11.2 187.2,-27.2 182.3,-31.5C177.5,-35.9 151.4,-34.9 147.5,-31.5Z" fill="#4375FF"/><path d="M220.1,-31.5C217.7,-28.1 220.6,-14.3 223.0,-11.2C225.4,-8.1 232.2,-9.3 234.6,-12.6C237.0,-16.0 239.9,-28.4 237.5,-31.5C235.1,-34.7 222.5,-34.9 220.1,-31.5Z" fill="#4375FF"/></g><path d="M-204.8,-22.2C-201.6,-34.7 -194.4,-28.5 -185.5,-30.7C-176.6,-32.9 -161.3,-33.5 -151.6,-35.6C-142.0,-37.6 -134.3,-39.6 -127.4,-42.8C-120.6,-46.0 -115.4,-51.3 -110.5,-54.9C-105.7,-58.5 -103.7,-60.9 -98.4,-64.6C-93.2,-68.2 -86.3,-72.6 -79.1,-76.7C-71.8,-80.7 -63.0,-85.3 -54.9,-88.8C-46.8,-92.2 -38.8,-94.8 -30.7,-97.2C-22.7,-99.6 -14.6,-101.7 -6.5,-103.3C1.5,-104.9 9.6,-106.1 17.7,-106.9C25.7,-107.7 34.6,-108.5 41.8,-108.1C49.1,-107.7 55.1,-106.5 61.2,-104.5C67.2,-102.5 73.3,-99.4 78.1,-96.0C83.0,-92.6 86.8,-87.9 90.2,-83.9C93.6,-79.9 96.7,-76.3 98.7,-71.8C100.7,-67.4 102.1,-62.6 102.3,-57.3C102.5,-52.1 101.3,-45.6 99.9,-40.4C98.5,-35.1 95.8,-30.3 93.8,-25.9C91.8,-21.4 89.4,-17.4 87.8,-13.8C86.2,-10.2 84.0,-8.1 84.2,-4.1C84.4,-0.1 88.0,6.0 89.0,10.4C90.0,14.8 90.8,18.1 90.2,22.5C89.6,26.9 88.2,33.0 85.4,37.0C82.5,41.0 78.1,43.5 73.3,46.7C68.4,49.9 61.6,53.5 56.3,56.3C51.1,59.2 46.7,61.0 41.8,63.6C37.0,66.2 32.2,69.6 27.3,72.1C22.5,74.5 17.7,75.5 12.8,78.1C8.0,80.7 3.1,84.8 -1.7,87.8C-6.5,90.8 -13.2,96.0 -16.2,96.3C-19.2,96.5 -18.2,92.0 -19.8,89.0C-21.4,86.0 -24.1,81.9 -25.9,78.1C-27.7,74.3 -27.9,69.6 -30.7,66.0C-33.5,62.4 -37.2,59.2 -42.8,56.3C-48.4,53.5 -57.7,51.5 -64.6,49.1C-71.4,46.7 -77.5,43.5 -83.9,41.8C-90.4,40.2 -97.2,39.8 -103.3,39.4C-109.3,39.0 -115.4,38.6 -120.2,39.4C-125.0,40.2 -129.1,41.4 -132.3,44.3C-135.5,47.1 -136.3,56.3 -139.5,56.3C-142.8,56.3 -147.6,48.7 -151.6,44.3C-155.7,39.8 -159.7,31.8 -163.7,29.7C-167.8,27.7 -172.2,30.1 -175.8,32.2C-179.4,34.2 -180.7,39.8 -185.5,41.8C-190.3,43.9 -201.6,54.9 -204.8,44.3C-208.1,33.6 -208.1,-9.8 -204.8,-22.2Z" fill="#4375FF"/><use href="#coast" x="-1.6" y="0"/></g><circle cx="-1.0" cy="0.2" r="447.9" fill="none" stroke="#000" stroke-width="2.3"/></g>
<clipPath id="clip_map3"><circle cx="2.0" cy="0.6" r="447.9"/></clipPath><g transform="translate(1014.0,2237.0)"><g clip-path="url(#clip_map3)"><circle r="453.9" fill="#FFEBDB"/><g clip-path="url(#qNW)"><path d="M-102.2,-382.2C-97.9,-387.3 -95.0,-396.0 -87.7,-399.6C-80.5,-403.2 -68.4,-402.7 -58.7,-404.0C-49.0,-405.2 -39.4,-404.9 -29.7,-406.9C-20.0,-408.8 -10.3,-412.7 -0.7,-415.6C9.0,-418.5 23.5,-442.7 28.4,-424.3C33.2,-405.9 32.2,-326.1 28.4,-305.3C24.5,-284.5 11.9,-301.9 5.1,-299.5C-1.6,-297.1 -6.5,-293.2 -12.3,-290.8C-18.1,-288.4 -22.9,-285.5 -29.7,-285.0C-36.5,-284.5 -45.6,-285.5 -52.9,-287.9C-60.2,-290.3 -68.9,-295.6 -73.2,-299.5C-77.6,-303.4 -75.6,-308.2 -79.0,-311.1C-82.4,-314.0 -88.2,-314.5 -93.5,-316.9C-98.9,-319.3 -104.7,-324.9 -110.9,-325.6C-117.2,-326.3 -127.4,-319.8 -131.3,-321.2C-135.1,-322.7 -135.1,-329.2 -134.2,-334.3C-133.2,-339.4 -128.8,-345.9 -125.5,-351.7C-122.1,-357.5 -117.7,-364.1 -113.8,-369.1C-110.0,-374.2 -106.6,-377.1 -102.2,-382.2Z" fill="#D8EBFF"/><path d="M-279.3,-232.7C-276.8,-235.6 -267.7,-233.7 -261.9,-235.6C-256.0,-237.6 -249.3,-241.4 -244.4,-244.3C-239.6,-247.2 -239.6,-252.6 -232.8,-253.0C-226.1,-253.5 -213.5,-246.3 -203.8,-247.2C-194.1,-248.2 -182.5,-255.0 -174.8,-258.9C-167.1,-262.7 -162.2,-265.6 -157.4,-270.5C-152.5,-275.3 -148.2,-283.0 -145.8,-287.9C-143.4,-292.7 -144.3,-294.6 -142.9,-299.5C-141.4,-304.3 -141.4,-314.5 -137.1,-316.9C-132.7,-319.3 -123.5,-315.9 -116.7,-314.0C-110.0,-312.1 -101.8,-309.6 -96.4,-305.3C-91.1,-300.9 -85.8,-293.7 -84.8,-287.9C-83.9,-282.1 -90.6,-276.3 -90.6,-270.5C-90.6,-264.7 -86.8,-259.3 -84.8,-253.0C-82.9,-246.8 -78.5,-238.1 -79.0,-232.7C-79.5,-227.4 -82.9,-225.0 -87.7,-221.1C-92.6,-217.3 -101.8,-211.9 -108.0,-209.5C-114.3,-207.1 -121.1,-208.1 -125.5,-206.6C-129.8,-205.2 -129.8,-202.7 -134.2,-200.8C-138.5,-198.9 -144.8,-197.9 -151.6,-195.0C-158.3,-192.1 -169.0,-187.8 -174.8,-183.4C-180.6,-179.0 -183.5,-174.2 -186.4,-168.9C-189.3,-163.6 -189.3,-155.1 -192.2,-151.5C-195.1,-147.8 -199.9,-147.1 -203.8,-147.1C-207.7,-147.1 -211.6,-148.3 -215.4,-151.5C-219.3,-154.6 -223.2,-160.7 -227.0,-166.0C-230.9,-171.3 -234.8,-177.6 -238.6,-183.4C-242.5,-189.2 -246.4,-196.0 -250.2,-200.8C-254.1,-205.6 -257.5,-209.5 -261.9,-212.4C-266.2,-215.3 -273.5,-214.8 -276.4,-218.2C-279.3,-221.6 -281.7,-229.8 -279.3,-232.7Z" fill="#D8EBFF"/><path d="M-257.5,-351.7C-255.8,-356.3 -245.7,-362.4 -241.5,-364.8C-237.4,-367.2 -235.7,-367.9 -232.8,-366.2C-229.9,-364.5 -226.5,-358.0 -224.1,-354.6C-221.7,-351.2 -221.2,-348.3 -218.3,-345.9C-215.4,-343.5 -210.1,-343.5 -206.7,-340.1C-203.3,-336.7 -199.9,-332.4 -198.0,-325.6C-196.1,-318.8 -192.7,-303.6 -195.1,-299.5C-197.5,-295.4 -207.7,-302.1 -212.5,-300.9C-217.4,-299.7 -220.5,-293.2 -224.1,-292.2C-227.8,-291.3 -231.4,-292.5 -234.3,-295.1C-237.2,-297.8 -238.9,-303.6 -241.5,-308.2C-244.2,-312.8 -248.6,-317.9 -250.2,-322.7C-251.9,-327.5 -250.5,-332.4 -251.7,-337.2C-252.9,-342.0 -259.2,-347.1 -257.5,-351.7Z" fill="#D8EBFF"/><path d="M-190.8,-401.1C-188.8,-401.8 -180.4,-398.6 -174.8,-396.7C-169.2,-394.8 -163.2,-391.9 -157.4,-389.4C-151.6,-387.0 -145.8,-384.6 -140.0,-382.2C-134.2,-379.8 -124.0,-376.9 -122.6,-374.9C-121.1,-373.0 -126.4,-370.1 -131.3,-370.6C-136.1,-371.1 -144.3,-375.3 -151.6,-377.8C-158.8,-380.4 -169.0,-383.5 -174.8,-386.0C-180.6,-388.4 -183.7,-389.8 -186.4,-392.3C-189.1,-394.9 -192.7,-400.3 -190.8,-401.1Z" fill="#D8EBFF"/><path d="M-401.2,-221.1C-396.3,-228.6 -383.3,-232.3 -377.9,-231.3C-372.6,-230.3 -368.7,-219.4 -369.2,-215.3C-369.7,-211.2 -380.6,-211.9 -380.8,-206.6C-381.1,-201.3 -369.2,-187.3 -370.7,-183.4C-372.1,-179.5 -383.5,-182.9 -389.5,-183.4C-395.6,-183.9 -405.0,-180.0 -407.0,-186.3C-408.9,-192.6 -406.0,-213.6 -401.2,-221.1Z" fill="#D8EBFF"/><path d="M-260.4,-264.7C-258.5,-266.8 -249.0,-269.5 -244.4,-269.0C-239.8,-268.5 -233.8,-264.4 -232.8,-261.8C-231.9,-259.1 -234.8,-254.0 -238.6,-253.0C-242.5,-252.1 -252.4,-254.0 -256.0,-256.0C-259.7,-257.9 -262.3,-262.5 -260.4,-264.7Z" fill="#D8EBFF"/><path d="M-137.1,-148.6C-134.6,-153.4 -124.0,-159.2 -116.7,-163.1C-109.5,-167.0 -101.3,-168.9 -93.5,-171.8C-85.8,-174.7 -77.6,-178.1 -70.3,-180.5C-63.1,-182.9 -54.1,-187.8 -50.0,-186.3C-45.9,-184.9 -45.2,-177.1 -45.6,-171.8C-46.1,-166.5 -48.8,-158.2 -52.9,-154.4C-57.0,-150.5 -63.5,-150.5 -70.3,-148.6C-77.1,-146.6 -85.8,-145.7 -93.5,-142.8C-101.3,-139.9 -110.5,-132.6 -116.7,-131.2C-123.0,-129.7 -127.9,-131.2 -131.3,-134.1C-134.6,-137.0 -139.5,-143.7 -137.1,-148.6Z" fill="#D8EBFF"/></g><g clip-path="url(#qSW)"><path d="M-319.9,213.0C-318.9,208.1 -312.2,200.9 -308.3,195.6C-304.4,190.2 -301.5,185.4 -296.7,181.0C-291.8,176.7 -285.1,172.3 -279.3,169.4C-273.5,166.5 -268.6,165.1 -261.9,163.6C-255.1,162.2 -245.9,161.2 -238.6,160.7C-231.4,160.2 -220.7,157.8 -218.3,160.7C-215.9,163.6 -222.2,172.8 -224.1,178.1C-226.1,183.5 -230.9,189.8 -229.9,192.7C-229.0,195.6 -219.3,193.1 -218.3,195.6C-217.4,198.0 -221.2,203.8 -224.1,207.2C-227.0,210.6 -230.4,213.5 -235.7,215.9C-241.1,218.3 -249.3,221.2 -256.0,221.7C-262.8,222.2 -270.6,218.3 -276.4,218.8C-282.2,219.3 -286.5,222.6 -290.9,224.6C-295.2,226.5 -298.6,230.4 -302.5,230.4C-306.4,230.4 -311.2,227.5 -314.1,224.6C-317.0,221.7 -320.9,217.8 -319.9,213.0Z" fill="#D8EBFF"/><path d="M-195.1,233.3C-195.1,229.9 -190.8,226.5 -186.4,224.6C-182.0,222.6 -173.8,221.2 -169.0,221.7C-164.2,222.2 -160.8,225.1 -157.4,227.5C-154.0,229.9 -152.1,234.7 -148.7,236.2C-145.3,237.6 -139.5,234.3 -137.1,236.2C-134.6,238.1 -132.7,244.4 -134.2,247.8C-135.6,251.2 -141.4,256.0 -145.8,256.5C-150.1,257.0 -155.4,252.1 -160.3,250.7C-165.1,249.2 -170.4,248.8 -174.8,247.8C-179.1,246.8 -183.0,247.3 -186.4,244.9C-189.8,242.5 -195.1,236.7 -195.1,233.3Z" fill="#D8EBFF"/><path d="M-337.3,282.6L-314.1,255.1L-290.9,250.7L-267.7,253.6L-250.2,259.4L-238.6,273.9L-232.8,288.4L-218.3,297.1L-209.6,311.6L-203.8,323.3L-192.2,332.0L-174.8,340.7L-157.4,349.4L-174.8,346.5L-189.3,349.4L-198.0,363.9L-200.9,378.4L-212.5,390.0L-261.9,410.3L-348.9,323.3Z" fill="#D8EBFF"/><path d="M-145.8,294.2C-143.8,289.9 -136.1,286.5 -131.3,282.6C-126.4,278.8 -122.1,273.9 -116.7,271.0C-111.4,268.1 -105.6,264.2 -99.3,265.2C-93.0,266.2 -84.8,273.9 -79.0,276.8C-73.2,279.7 -67.9,283.6 -64.5,282.6C-61.1,281.7 -61.6,275.8 -58.7,271.0C-55.8,266.2 -51.9,259.4 -47.1,253.6C-42.3,247.8 -34.5,241.5 -29.7,236.2C-24.9,230.9 -22.4,226.5 -18.1,221.7C-13.7,216.8 -7.4,212.5 -3.6,207.2C0.3,201.8 4.2,195.1 5.1,189.8C6.1,184.4 2.2,180.1 2.2,175.2C2.2,170.4 3.0,165.1 5.1,160.7C7.3,156.4 8.7,151.1 15.0,149.1C21.3,147.2 38.2,112.4 42.9,149.1C47.5,185.9 47.5,332.4 42.9,369.7C38.2,406.9 23.2,371.6 15.0,372.6C6.8,373.6 0.0,374.5 -6.5,375.5C-13.0,376.5 -17.6,378.4 -23.9,378.4C-30.2,378.4 -37.4,375.5 -44.2,375.5C-51.0,375.5 -57.3,376.9 -64.5,378.4C-71.8,379.8 -81.0,381.8 -87.7,384.2C-94.5,386.6 -100.3,389.0 -105.1,392.9C-110.0,396.8 -115.3,402.6 -116.7,407.4C-118.2,412.2 -113.4,417.1 -113.8,421.9C-114.3,426.8 -116.7,431.6 -119.7,436.4C-122.6,441.3 -125.9,451.9 -131.3,450.9C-136.6,450.0 -148.4,437.4 -151.6,430.6C-154.7,423.9 -151.6,415.6 -150.1,410.3C-148.7,405.0 -146.0,403.5 -142.9,398.7C-139.7,393.9 -135.1,387.6 -131.3,381.3C-127.4,375.0 -119.2,365.8 -119.7,361.0C-120.1,356.1 -131.3,358.6 -134.2,352.3C-137.1,346.0 -135.6,330.5 -137.1,323.3C-138.5,316.0 -141.4,313.6 -142.9,308.7C-144.3,303.9 -147.7,298.6 -145.8,294.2Z" fill="#D8EBFF"/><path d="M-225.6,195.6C-223.6,193.6 -212.8,192.9 -211.1,194.1C-209.4,195.3 -213.5,200.9 -215.4,202.8C-217.4,204.7 -221.0,206.9 -222.7,205.7C-224.4,204.5 -227.5,197.5 -225.6,195.6Z" fill="#D8EBFF"/></g><g clip-path="url(#qNE)"><path d="M-29.5,-444.6C-24.2,-468.5 -5.8,-419.4 2.4,-417.0C10.6,-414.6 14.5,-426.4 19.8,-430.1C25.1,-433.7 28.0,-437.1 34.3,-438.8C40.6,-440.5 49.8,-440.5 57.6,-440.2C65.3,-440.0 73.5,-438.5 80.8,-437.3C88.0,-436.1 94.3,-434.9 101.1,-433.0C107.9,-431.0 114.6,-427.7 121.4,-425.7C128.2,-423.8 135.4,-423.3 141.7,-421.4C148.0,-419.4 151.9,-416.8 159.1,-414.1C166.4,-411.5 183.3,-407.6 185.2,-405.4C187.2,-403.2 177.0,-402.0 170.7,-401.1C164.4,-400.1 153.8,-401.1 147.5,-399.6C141.2,-398.2 136.9,-396.0 133.0,-392.3C129.1,-388.7 126.7,-383.2 124.3,-377.8C121.9,-372.5 120.9,-365.3 118.5,-360.4C116.1,-355.6 112.2,-353.2 109.8,-348.8C107.4,-344.5 106.9,-338.7 104.0,-334.3C101.1,-330.0 96.2,-325.6 92.4,-322.7C88.5,-319.8 85.6,-316.9 80.8,-316.9C75.9,-316.9 67.7,-320.8 63.4,-322.7C59.0,-324.6 58.0,-328.5 54.7,-328.5C51.3,-328.5 47.4,-325.1 43.0,-322.7C38.7,-320.3 33.4,-316.4 28.5,-314.0C23.7,-311.6 18.4,-310.1 14.0,-308.2C9.7,-306.3 4.8,-305.8 2.4,-302.4C-0.0,-299.0 1.4,-291.7 -0.5,-287.9C-2.4,-284.0 -4.4,-281.6 -9.2,-279.2C-14.0,-276.8 -26.1,-245.8 -29.5,-273.4C-32.9,-300.9 -34.8,-420.6 -29.5,-444.6Z" fill="#D8EBFF"/><path d="M82.2,-389.4C83.4,-393.1 85.4,-397.6 89.5,-399.6C93.6,-401.6 102.1,-402.4 106.9,-401.6C111.7,-400.9 116.1,-398.7 118.5,-395.3C120.9,-391.8 121.9,-385.1 121.4,-380.7C120.9,-376.4 119.0,-372.0 115.6,-369.1C112.2,-366.2 105.9,-363.3 101.1,-363.3C96.2,-363.3 89.7,-366.7 86.6,-369.1C83.4,-371.6 82.9,-374.5 82.2,-377.8C81.5,-381.2 81.0,-385.8 82.2,-389.4Z" fill="#FFEBDB"/><path d="M185.2,-406.9C182.1,-404.4 195.4,-384.1 198.3,-374.9C201.2,-365.7 202.2,-359.0 202.7,-351.7C203.1,-344.5 203.6,-336.2 201.2,-331.4C198.8,-326.6 192.7,-327.3 188.1,-322.7C183.6,-318.1 173.6,-309.6 173.6,-303.8C173.6,-298.0 182.8,-293.0 188.1,-287.9C193.5,-282.8 199.3,-274.6 205.6,-273.4C211.8,-272.2 220.1,-278.8 225.9,-280.6C231.7,-282.5 235.5,-282.7 240.4,-284.4C245.2,-286.1 252.7,-287.3 254.9,-290.8C257.1,-294.3 255.4,-300.9 253.4,-305.3C251.5,-309.6 245.7,-312.1 243.3,-316.9C240.9,-321.7 238.2,-329.0 238.9,-334.3C239.7,-339.6 244.3,-344.0 247.6,-348.8C251.0,-353.7 259.5,-359.0 259.2,-363.3C259.0,-367.7 253.2,-370.6 246.2,-374.9C239.2,-379.3 227.3,-384.1 217.2,-389.4C207.0,-394.8 188.4,-409.3 185.2,-406.9Z" fill="#D8EBFF"/><path d="M259.2,-258.9C261.4,-262.2 269.2,-262.7 272.3,-261.8C275.5,-260.8 277.6,-256.4 278.1,-253.0C278.6,-249.7 277.1,-244.6 275.2,-241.4C273.3,-238.3 269.2,-234.2 266.5,-234.2C263.8,-234.2 260.5,-237.3 259.2,-241.4C258.0,-245.6 257.1,-255.5 259.2,-258.9Z" fill="#D8EBFF"/></g><g clip-path="url(#qSE)"><path d="M-29.5,207.2C-25.6,175.2 -11.6,205.7 -6.3,204.3C-1.0,202.8 1.4,201.8 2.4,198.5C3.4,195.1 -1.0,189.3 -0.5,184.0C-0.0,178.6 2.4,172.3 5.3,166.5C8.2,160.7 13.1,154.0 16.9,149.1C20.8,144.3 24.2,138.0 28.5,137.5C32.9,137.0 37.7,143.8 43.0,146.2C48.4,148.6 54.2,150.3 60.5,152.0C66.7,153.7 74.0,154.9 80.8,156.4C87.5,157.8 94.3,159.8 101.1,160.7C107.9,161.7 114.6,161.7 121.4,162.2C128.2,162.7 136.9,161.9 141.7,163.6C146.5,165.3 150.9,170.4 150.4,172.3C149.9,174.3 142.7,173.3 138.8,175.2C134.9,177.2 126.7,182.7 127.2,184.0C127.7,185.2 136.4,182.5 141.7,182.5C147.0,182.5 154.3,181.8 159.1,184.0C164.0,186.1 166.4,192.9 170.7,195.6C175.1,198.2 179.9,199.9 185.2,199.9C190.6,199.9 196.9,195.8 202.7,195.6C208.5,195.3 216.2,199.9 220.1,198.5C223.9,197.0 222.0,190.0 225.9,186.9C229.7,183.7 238.0,179.1 243.3,179.6C248.6,180.1 252.0,186.1 257.8,189.8C263.6,193.4 275.7,196.0 278.1,201.4C280.5,206.7 273.5,214.9 272.3,221.7C271.1,228.4 271.8,234.7 270.9,242.0C269.9,249.2 267.5,257.5 266.5,265.2C265.5,272.9 263.6,281.7 265.1,288.4C266.5,295.2 274.5,300.0 275.2,305.8C275.9,311.6 270.9,317.0 269.4,323.3C268.0,329.5 268.9,338.2 266.5,343.6C264.1,348.9 259.2,351.3 254.9,355.2C250.5,359.0 245.2,363.4 240.4,366.8C235.5,370.2 230.2,371.1 225.9,375.5C221.5,379.8 225.4,379.8 214.3,392.9C203.1,406.0 185.7,443.7 159.1,453.8C132.5,464.0 72.5,456.7 54.7,453.8C36.8,450.9 54.2,441.8 51.7,436.4C49.3,431.1 43.0,426.3 40.1,421.9C37.2,417.6 37.2,413.7 34.3,410.3C31.4,406.9 28.0,403.5 22.7,401.6C17.4,399.7 11.1,399.7 2.4,398.7C-6.3,397.7 -24.2,427.7 -29.5,395.8C-34.8,363.9 -33.4,239.1 -29.5,207.2Z" fill="#D8EBFF"/><path d="M12.6,358.1C13.5,353.7 18.6,347.4 22.7,343.6C26.8,339.7 32.4,337.5 37.2,334.9C42.1,332.2 46.9,327.6 51.7,327.6C56.6,327.6 62.9,331.2 66.3,334.9C69.6,338.5 69.6,344.5 72.1,349.4C74.5,354.2 80.8,360.0 80.8,363.9C80.8,367.7 75.9,372.1 72.1,372.6C68.2,373.1 62.9,366.8 57.6,366.8C52.2,366.8 45.5,370.7 40.1,372.6C34.8,374.5 29.5,378.9 25.6,378.4C21.8,377.9 19.1,373.1 16.9,369.7C14.7,366.3 11.6,362.4 12.6,358.1Z" fill="#FFEBDB"/></g><path d="M-186.5,-125.5C-182.2,-128.5 -178.3,-134.8 -173.4,-135.6C-168.5,-136.4 -161.9,-132.9 -157.1,-130.2C-152.3,-127.5 -148.9,-123.5 -144.4,-119.3C-139.9,-115.1 -134.7,-109.6 -129.9,-104.8C-125.1,-100.0 -119.9,-94.8 -115.4,-90.3C-110.8,-85.7 -106.3,-82.1 -102.7,-77.6C-99.1,-73.0 -96.6,-68.2 -93.6,-63.1C-90.6,-57.9 -87.6,-51.6 -84.5,-46.7C-81.5,-41.9 -78.8,-38.0 -75.5,-34.0C-72.1,-30.1 -68.2,-27.4 -64.6,-23.2C-61.0,-18.9 -57.3,-13.5 -53.7,-8.7C-50.1,-3.8 -46.4,1.3 -42.8,5.9C-39.2,10.4 -35.6,14.3 -31.9,18.6C-28.3,22.8 -24.1,26.7 -21.1,31.3C-18.0,35.8 -15.6,40.9 -13.8,45.8C-12.0,50.6 -11.1,55.7 -10.2,60.3C-9.3,64.8 -8.1,68.7 -8.4,73.0C-8.7,77.2 -9.9,82.0 -12.0,85.7C-14.1,89.3 -16.5,91.7 -21.1,94.7C-25.6,97.8 -31.6,100.8 -39.2,103.8C-46.8,106.8 -57.3,109.9 -66.4,112.9C-75.5,115.9 -83.0,119.5 -93.6,121.9C-104.2,124.4 -116.3,125.8 -129.9,127.4C-143.4,129.0 -164.5,131.0 -174.9,131.7C-185.3,132.5 -186.5,132.2 -192.3,131.7C-198.1,131.3 -202.9,128.8 -209.7,128.8C-216.5,128.8 -225.2,131.7 -232.9,131.7C-240.7,131.7 -248.9,128.8 -256.1,128.8C-263.4,128.8 -270.5,130.3 -276.3,131.7C-282.0,133.2 -286.4,134.6 -290.8,137.5C-295.1,140.4 -298.5,144.3 -302.4,149.2C-306.3,154.0 -310.6,160.8 -314.0,166.6C-317.4,172.4 -319.8,177.7 -322.7,184.0C-325.6,190.3 -329.0,198.0 -331.4,204.3C-333.8,210.6 -335.1,220.3 -337.2,221.7C-339.3,223.1 -343.4,217.0 -343.9,212.6C-344.4,208.3 -341.4,201.3 -340.3,195.6C-339.2,189.8 -338.2,184.0 -337.2,178.2C-336.2,172.4 -334.3,166.1 -334.3,160.8C-334.3,155.4 -334.8,151.1 -337.2,146.3C-339.6,141.4 -344.0,135.1 -348.8,131.7C-353.7,128.4 -360.4,126.9 -366.2,125.9C-372.1,125.0 -378.0,127.4 -383.8,125.9C-389.6,124.5 -395.8,121.1 -401.1,117.2C-406.4,113.4 -411.2,108.0 -415.6,102.7C-420.0,97.4 -424.5,91.1 -427.4,85.3C-430.3,79.5 -431.6,71.8 -433.0,67.9C-434.4,64.0 -436.5,66.4 -435.9,62.1C-435.3,57.8 -432.1,48.4 -429.2,42.1C-426.3,35.8 -422.4,30.1 -418.5,24.4C-414.5,18.6 -410.0,13.0 -405.6,7.7C-401.2,2.3 -397.0,-2.7 -392.4,-7.6C-387.7,-12.4 -382.6,-18.5 -377.8,-21.4C-373.1,-24.3 -368.7,-24.1 -363.9,-25.0C-359.0,-25.9 -354.6,-25.6 -348.8,-26.8C-343.1,-28.0 -336.3,-30.7 -329.4,-32.2C-322.6,-33.7 -314.1,-34.4 -307.7,-35.9C-301.2,-37.4 -295.6,-38.9 -290.8,-41.3C-285.9,-43.7 -283.4,-47.7 -278.6,-50.4C-273.9,-53.1 -268.0,-55.3 -262.3,-57.6C-256.6,-60.0 -250.0,-61.8 -244.5,-64.5C-239.1,-67.2 -233.9,-69.7 -229.7,-74.0C-225.4,-78.2 -222.1,-85.1 -218.8,-90.3C-215.4,-95.4 -213.0,-100.3 -209.7,-104.8C-206.4,-109.3 -202.7,-114.0 -198.8,-117.5C-194.9,-120.9 -190.7,-122.4 -186.5,-125.5Z" fill="#FFCDB5"/><path d="M-189.4,-122.6C-182.4,-127.9 -178.5,-128.0 -173.4,-128.4C-168.3,-128.7 -163.4,-127.2 -158.9,-124.7C-154.4,-122.3 -150.7,-118.1 -146.2,-113.9C-141.7,-109.6 -136.2,-104.2 -131.7,-99.3C-127.2,-94.5 -122.9,-89.7 -119.0,-84.8C-115.1,-80.0 -111.1,-75.2 -108.1,-70.3C-105.1,-65.5 -103.3,-60.7 -100.9,-55.8C-98.4,-51.0 -96.3,-45.8 -93.6,-41.3C-90.9,-36.8 -87.9,-32.8 -84.5,-28.6C-81.2,-24.4 -77.3,-20.4 -73.7,-15.9C-70.0,-11.4 -66.1,-5.9 -62.8,-1.4C-59.4,3.1 -57.0,7.1 -53.7,11.3C-50.4,15.5 -46.4,19.8 -42.8,24.0C-39.2,28.2 -35.0,32.5 -31.9,36.7C-28.9,40.9 -26.5,44.9 -24.7,49.4C-22.9,53.9 -21.7,59.4 -21.1,63.9C-20.5,68.4 -18.0,73.0 -21.1,76.6C-24.1,80.2 -31.6,82.6 -39.2,85.7C-46.8,88.7 -54.3,92.9 -66.4,94.7C-78.5,96.6 -98.1,95.9 -111.7,96.6C-125.4,97.2 -137.5,98.3 -148.0,98.4C-158.5,98.4 -168.0,95.2 -174.9,96.9C-181.8,98.6 -184.5,104.7 -189.4,108.5C-194.2,112.4 -199.1,117.5 -203.9,120.1C-208.7,122.8 -212.6,124.5 -218.4,124.5C-224.2,124.5 -231.5,120.4 -238.7,120.1C-246.0,119.9 -255.2,123.0 -261.9,123.0C-268.7,123.0 -274.4,122.5 -279.2,120.1C-284.0,117.7 -286.9,113.4 -290.8,108.5C-294.7,103.7 -299.5,97.4 -302.4,91.1C-305.3,84.8 -306.3,77.6 -308.2,70.8C-310.1,64.0 -313.0,56.8 -314.0,50.5C-315.0,44.2 -315.0,38.9 -314.0,33.1C-313.0,27.3 -310.1,20.5 -308.2,15.7C-306.3,10.8 -305.3,6.3 -302.4,4.0C-299.5,1.8 -296.6,5.4 -290.8,2.2C-285.0,-0.9 -274.5,-9.2 -267.7,-15.0C-261.0,-20.8 -256.1,-24.7 -250.3,-32.4C-244.5,-40.2 -238.7,-50.8 -232.9,-61.4C-227.1,-72.1 -222.8,-86.1 -215.5,-96.3C-208.2,-106.5 -196.4,-117.2 -189.4,-122.6Z" fill="#FFAB85"/><path d="M-364.7,-12.1C-360.8,-16.1 -353.6,-17.6 -348.4,-19.4C-343.3,-21.2 -338.7,-23.3 -333.9,-23.0C-329.1,-22.7 -323.9,-19.7 -319.4,-17.6C-314.9,-15.5 -310.6,-13.4 -306.7,-10.3C-302.8,-7.3 -298.5,-3.4 -295.8,0.6C-293.1,4.5 -290.7,8.7 -290.4,13.3C-290.1,17.8 -291.6,22.9 -294.0,27.8C-296.4,32.6 -301.0,38.0 -304.9,42.3C-308.8,46.5 -313.1,49.8 -317.6,53.2C-322.1,56.5 -327.0,59.8 -332.1,62.2C-337.2,64.6 -343.3,67.1 -348.4,67.7C-353.6,68.3 -358.4,68.0 -362.9,65.9C-367.5,63.7 -372.9,59.5 -375.6,55.0C-378.4,50.4 -379.0,44.4 -379.3,38.6C-379.6,32.9 -378.7,26.3 -377.4,20.5C-376.2,14.8 -374.1,9.6 -372.0,4.2C-369.9,-1.3 -368.7,-8.2 -364.7,-12.1Z" fill="#FFCDB5"/><path d="M-355.7,-4.9C-351.7,-8.8 -346.0,-10.0 -341.2,-10.3C-336.3,-10.6 -330.9,-8.8 -326.7,-6.7C-322.4,-4.6 -318.2,-1.6 -315.8,2.4C-313.4,6.3 -311.5,12.0 -312.1,16.9C-312.7,21.7 -316.1,26.9 -319.4,31.4C-322.7,35.9 -327.6,40.8 -332.1,44.1C-336.6,47.4 -342.1,50.7 -346.6,51.3C-351.1,51.9 -356.0,50.7 -359.3,47.7C-362.6,44.7 -365.7,38.9 -366.6,33.2C-367.5,27.5 -366.6,19.6 -364.7,13.3C-362.9,6.9 -359.6,-1.0 -355.7,-4.9Z" fill="#FFEBDB"/><path d="M147.5,62.1C151.4,56.3 164.0,56.3 170.7,56.3C177.5,56.3 182.3,59.6 188.1,62.1C194.0,64.5 199.8,66.9 205.6,70.8C211.4,74.6 221.0,79.5 223.0,85.3C224.9,91.1 220.1,99.8 217.2,105.6C214.3,111.4 209.4,114.8 205.6,120.1C201.7,125.4 197.3,130.7 194.0,137.5C190.6,144.3 188.6,154.9 185.2,160.7C181.9,166.5 177.0,172.3 173.6,172.3C170.2,172.3 165.4,166.5 164.9,160.7C164.4,154.9 168.8,144.3 170.7,137.5C172.7,130.7 178.5,124.5 176.5,120.1C174.6,115.8 164.0,116.2 159.1,111.4C154.3,106.6 149.5,99.3 147.5,91.1C145.6,82.9 143.6,67.9 147.5,62.1Z" fill="#FFCDB5"/><path d="M159.1,70.8C161.1,65.4 176.5,68.4 182.3,70.8C188.1,73.2 193.0,80.0 194.0,85.3C194.9,90.6 192.0,99.8 188.1,102.7C184.3,105.6 175.6,108.0 170.7,102.7C165.9,97.4 157.2,76.1 159.1,70.8Z" fill="#FFAB85"/><path d="M-46.0,-267.6L-39.4,-260.1L-31.9,-258.2L-24.3,-257.3L-18.7,-250.7L-9.2,-243.1L0.2,-236.5L9.6,-229.9L19.1,-226.1L30.4,-223.3L38.9,-221.4L39.8,-233.7L45.5,-235.6L46.4,-227.1L51.1,-225.2L62.4,-222.4L71.9,-218.6L79.4,-214.8L80.4,-204.4L87.0,-197.8L98.3,-194.1L103.9,-188.4L105.8,-179.0L113.4,-167.7L119.0,-160.1L122.8,-154.4" fill="none" stroke="#FFCDB5" stroke-width="30" stroke-linejoin="round" stroke-linecap="round"/><path d="M57.4,-325.3L51.0,-319.9L40.1,-314.5L31.1,-309.0L20.2,-302.7L14.8,-300.0L7.5,-302.7L3.9,-299.0L7.5,-290.0L10.2,-280.0L14.8,-279.1L13.8,-273.7L5.7,-271.8L1.1,-267.3L2.1,-260.0L-1.6,-257.3L-4.3,-265.5L-10.6,-268.2L-15.2,-269.1L-21.5,-275.5L-30.6,-279.1L-33.3,-275.5L-32.4,-266.4L-39.7,-263.7L-44.2,-257.3" fill="none" stroke="#FFCDB5" stroke-width="8" stroke-linejoin="round" stroke-linecap="round"/><path d="M122.8,-157.5L128.5,-149.9L134.1,-153.7L141.7,-149.9L147.3,-146.2L154.9,-138.6L158.7,-140.5" fill="none" stroke="#FFCDB5" stroke-width="30" stroke-linejoin="round" stroke-linecap="round"/><path d="M155.6,-142.4L165.0,-143.3L166.9,-137.7L164.1,-129.2L159.4,-126.4L155.6,-127.3" fill="none" stroke="#FFCDB5" stroke-width="30" stroke-linejoin="round" stroke-linecap="round"/><path d="M158.7,-127.3L151.1,-121.6L150.2,-112.2L153.0,-102.8L158.7,-99.0" fill="none" stroke="#FFCDB5" stroke-width="30" stroke-linejoin="round" stroke-linecap="round"/><path d="M155.6,-102.8L162.2,-105.0L167.9,-99.0L168.8,-91.5L166.0,-83.9L167.9,-76.4L172.6,-72.6L170.7,-66.0L175.4,-63.2L182.0,-57.5L184.9,-52.8L178.3,-53.7L170.7,-58.4L165.0,-62.2L156.6,-65.1" fill="none" stroke="#FFCDB5" stroke-width="30" stroke-linejoin="round" stroke-linecap="round"/><path d="M158.7,-67.9L149.2,-63.2L144.5,-57.5L143.6,-48.1L147.3,-44.3L139.8,-40.5L137.9,-34.9L145.4,-33.0L151.1,-29.2L158.7,-25.4" fill="none" stroke="#FFCDB5" stroke-width="30" stroke-linejoin="round" stroke-linecap="round"/><path d="M156.6,-23.5L160.3,-12.2L165.0,-2.8L168.8,4.7L176.4,10.4L183.0,9.5L184.9,18.0L185.8,30.2L192.4,31.2L199.9,30.2L202.8,25.5L206.9,26.4L205.6,31.2L199.9,34.9L198.1,40.6L194.3,43.4L200.9,44.4L206.5,43.4L212.2,42.5L210.3,48.1L204.7,53.8L196.2,52.9L185.8,51.0" fill="none" stroke="#FFCDB5" stroke-width="30" stroke-linejoin="round" stroke-linecap="round"/><path d="M178.7,49.0L187.8,54.5L194.1,57.2L204.1,57.2L213.2,60.8L221.3,61.7L223.1,57.2L225.9,61.7L236.8,63.5L242.2,70.8L245.8,77.1L248.5,82.6L243.1,85.3L240.4,77.1L234.9,69.0L224.1,66.3L218.6,68.1L209.5,65.3L200.5,62.6L191.4,63.5L181.4,57.2L171.5,58.1L175.1,62.6L181.4,67.2L187.8,73.5L190.5,79.9L198.7,83.5L205.9,86.2L213.2,83.5L222.2,86.2L218.6,89.8L211.4,92.6L203.2,98.9L196.8,103.4L188.7,108.0L183.2,109.8L187.8,113.4L195.0,111.6L203.2,111.6L204.1,117.9" fill="none" stroke="#FFCDB5" stroke-width="16" stroke-linejoin="round" stroke-linecap="round"/><path d="M-51.9,-217.3L-59.9,-212.0L-61.6,-203.1L-66.9,-195.2L-74.0,-187.2L-77.5,-180.1L-84.6,-181.9L-91.7,-179.3L-97.0,-181.0L-109.4,-175.7L-118.2,-173.1L-127.1,-168.6L-137.7,-166.0L-146.5,-162.5" fill="none" stroke="#FFCDB5" stroke-width="20" stroke-linejoin="round" stroke-linecap="round"/><path d="M-73.2,-300.9L-75.9,-286.3L-78.7,-280.9L-85.0,-280.0L-86.8,-275.5L-92.3,-273.7L-88.6,-261.0L-85.9,-259.1L-83.2,-266.4L-72.3,-268.2L-63.2,-268.2L-59.6,-261.9L-54.2,-260.0L-61.4,-251.9L-68.7,-245.5L-70.5,-249.2L-76.9,-248.3L-78.7,-243.7L-70.5,-239.2L-63.2,-231.9L-54.2,-228.3L-53.3,-222.9" fill="none" stroke="#FFCDB5" stroke-width="8" stroke-linejoin="round" stroke-linecap="round"/><path d="M-155.3,-149.7L-156.3,-140.3L-158.2,-133.7L-161.9,-134.6L-160.0,-128.9L-159.1,-125.6L-164.8,-126.1L-169.5,-127.5L-174.2,-126.1L-172.3,-121.4L-177.0,-122.3L-180.3,-120.0L-178.0,-115.7L-178.9,-111.5L-184.6,-110.1L-191.2,-106.3L-196.8,-101.6L-200.6,-96.9L-204.4,-94.0L-207.2,-96.9" fill="none" stroke="#FFCDB5" stroke-width="20" stroke-linejoin="round" stroke-linecap="round"/><path d="M-212.6,-99.4L-215.5,-102.7L-218.8,-98.4L-221.7,-93.6L-220.8,-87.8L-223.2,-82.4L-230.0,-76.1L-226.1,-73.2L-221.3,-75.2L-218.4,-69.4L-216.9,-62.1L-222.2,-59.7L-228.0,-54.9L-233.8,-50.0L-237.7,-44.2L-238.7,-38.4L-234.8,-36.0L-230.0,-35.0L-227.1,-32.1L-223.2,-37.5L-218.4,-32.6L-214.5,-29.2L-219.3,-25.8L-225.1,-23.4L-230.9,-27.3L-236.7,-28.3L-241.1,-25.4L-236.3,-22.5L-234.8,-19.1L-230.0,-17.1L-226.1,-19.1L-221.3,-15.7L-216.4,-19.1L-211.6,-23.9L-206.8,-24.9L-200.0,-22.0L-193.2,-18.1L-189.3,-14.2L-184.5,-16.2L-176.8,-16.7L-171.9,-16.2L-169.0,-12.3L-170.0,-6.5L-171.9,-1.7L-176.8,-3.6L-180.6,-6.5L-184.5,-8.4L-186.4,-12.3L-190.3,-12.3" fill="none" stroke="#FFCDB5" stroke-width="22" stroke-linejoin="round" stroke-linecap="round"/><path d="M151.2,-308.5L160.3,-305.7L167.7,-303.0L164.0,-298.4L171.3,-292.9L175.0,-288.3L179.6,-292.0L186.0,-285.6L191.5,-281.9L195.1,-282.8L200.6,-277.3L208.0,-271.8L215.3,-271.8L226.3,-274.6L235.4,-276.4L244.6,-277.3L255.6,-279.1L266.6,-280.4L274.8,-279.1L279.4,-278.2L281.2,-281.9L277.6,-288.3" fill="none" stroke="#FFCDB5" stroke-width="12" stroke-linejoin="round" stroke-linecap="round"/><path d="M154.1,-338.7L145.0,-335.0L141.3,-329.5L130.3,-325.9L119.3,-320.4L106.5,-313.0L95.5,-307.5L88.2,-298.4L83.6,-292.0L90.0,-291.0L93.7,-298.4L106.5,-303.9L112.0,-305.7L110.1,-294.7L115.6,-291.0L124.8,-290.1L135.8,-296.5L143.1,-302.0L150.5,-309.4L154.1,-309.4" fill="none" stroke="#FFCDB5" stroke-width="12" stroke-linejoin="round" stroke-linecap="round"/><path d="M-252.6,16.4L-259.9,15.5L-270.7,12.7L-279.8,8.2L-281.6,1.0L-287.1,-1.8L-294.3,-4.5L-297.9,-12.7L-303.4,-15.4L-312.5,-21.7L-323.3,-26.3L-334.2,-28.1L-341.5,-25.3L-343.3,-19.9L-354.2,-16.3L-363.2,-14.5L-360.5,-6.3L-363.2,2.8L-368.7,10.9L-374.1,17.3L-377.8,26.3L-381.4,33.6L-380.5,42.7L-382.3,50.8L-390.5,52.6L-397.7,55.4L-406.8,56.3L-414.0,64.4L-421.3,70.8L-426.7,78.0L-421.3,77.1L-415.8,81.7L-410.4,85.3L-405.0,80.8L-395.9,78.0L-388.6,74.4L-384.1,71.7L-377.8,77.1L-370.5,84.4L-363.2,87.1L-354.2,84.4L-345.1,79.0L-339.7,73.5L-335.1,68.1L-330.6,67.2" fill="none" stroke="#FFCDB5" stroke-width="16" stroke-linejoin="round" stroke-linecap="round"/><path d="M-330.6,67.2L-328.8,71.7L-323.3,72.6L-316.1,68.1L-312.5,65.3L-305.2,67.2L-297.9,64.4L-293.4,66.3L-292.5,75.3L-288.9,84.4L-290.7,91.6L-294.3,98.9L-297.9,100.7L-297.0,108.0L-300.7,113.4L-308.8,116.1L-316.1,119.8L-318.8,127.9L-323.3,133.4L-317.9,138.8L-308.8,140.6L-301.6,137.0L-292.5,139.7L-296.1,146.1L-299.8,151.5" fill="none" stroke="#FFCDB5" stroke-width="10" stroke-linejoin="round" stroke-linecap="round"/><path d="M-297.9,148.6L-305.2,157.7L-310.6,164.9L-315.2,168.5L-317.9,174.0L-323.3,174.0L-327.9,178.5L-329.7,185.8L-332.4,190.3L-329.7,195.7L-331.5,203.0L-328.8,208.4L-330.6,213.0L-336.0,209.4L-333.3,214.8L-337.9,220.2L-334.2,224.8L-336.0,230.2L-341.5,232.9L-346.0,239.3L-349.6,237.5L-354.2,235.7L-358.7,232.9L-363.2,227.5L-368.7,224.8L-375.9,223.9L-385.0,222.0" fill="none" stroke="#FFCDB5" stroke-width="10" stroke-linejoin="round" stroke-linecap="round"/><path d="M-290.7,20.9L-285.2,14.6L-279.8,20.0L-274.4,19.1L-267.1,18.2L-259.9,17.3L-253.5,14.6L-251.7,20.9L-256.2,23.6L-261.7,24.5L-267.1,30.0L-271.6,35.4L-276.2,41.8L-278.9,49.0L-284.3,45.4L-280.7,39.0L-278.9,31.8L-285.2,29.1L-288.9,25.4" fill="none" stroke="#FFCDB5" stroke-width="16" stroke-linejoin="round" stroke-linecap="round"/><path d="M-7.0,-202.9L-1.6,-206.5L6.6,-207.4L5.7,-202.0L0.2,-199.3L-5.2,-199.6Z" fill="none" stroke="#FFCDB5" stroke-width="16" stroke-linejoin="round" stroke-linecap="round"/><path d="M22.0,108.0L31.1,104.3L36.5,97.1L43.8,94.4L51.0,94.4L51.9,102.5L47.4,108.0L43.8,104.3L38.3,100.7L42.0,108.0L47.4,111.6L51.0,117.0L58.3,120.7L56.5,127.9L50.1,127.0L49.2,120.7L46.5,117.0L43.8,120.7L45.6,129.7L44.7,140.6L38.3,133.4L32.9,126.1L34.7,120.7L29.3,118.9L25.6,113.4Z" fill="none" stroke="#FFCDB5" stroke-width="16" stroke-linejoin="round" stroke-linecap="round"/><path d="M-55.1,-286.3L-49.6,-289.1L-39.7,-288.2L-38.8,-283.6L-45.1,-282.7L-52.4,-284.2Z" fill="none" stroke="#FFCDB5" stroke-width="16" stroke-linejoin="round" stroke-linecap="round"/><path d="M80.1,-141.4L84.6,-143.3L87.3,-138.7L88.2,-132.4L84.6,-134.2Z" fill="none" stroke="#FFCDB5" stroke-width="22" stroke-linejoin="round" stroke-linecap="round"/><path d="M92.7,-129.6L100.0,-131.5L107.3,-130.6L112.7,-126.0L111.8,-118.8L105.4,-111.5L101.8,-116.9L96.4,-117.9L93.7,-123.3Z" fill="none" stroke="#FFCDB5" stroke-width="22" stroke-linejoin="round" stroke-linecap="round"/><path d="M108.2,-142.3L111.8,-144.2L113.6,-139.6L110.0,-136.9Z" fill="none" stroke="#FFCDB5" stroke-width="22" stroke-linejoin="round" stroke-linecap="round"/><path d="M109.1,-134.2L113.6,-134.2L112.7,-130.6Z" fill="none" stroke="#FFCDB5" stroke-width="22" stroke-linejoin="round" stroke-linecap="round"/><path d="M96.4,-9.0L105.4,-15.4L112.7,-22.6L118.1,-29.9L123.6,-31.7L129.0,-24.4L123.6,-20.8L120.0,-11.7L114.5,-4.5L109.1,-1.8L103.6,-5.4Z" fill="none" stroke="#FFCDB5" stroke-width="22" stroke-linejoin="round" stroke-linecap="round"/><path d="M77.3,47.2L81.0,45.4L82.8,49.9L79.1,51.7Z" fill="none" stroke="#FFCDB5" stroke-width="16" stroke-linejoin="round" stroke-linecap="round"/><path d="M85.5,40.9L90.0,40.0L90.9,45.4L87.3,48.1Z" fill="none" stroke="#FFCDB5" stroke-width="16" stroke-linejoin="round" stroke-linecap="round"/><path d="M86.4,51.7L91.8,49.0L93.7,55.4L89.1,62.6L85.5,59.0Z" fill="none" stroke="#FFCDB5" stroke-width="16" stroke-linejoin="round" stroke-linecap="round"/><path d="M73.7,66.3L79.1,63.5L83.7,68.1L81.9,72.6L74.6,72.6Z" fill="none" stroke="#FFCDB5" stroke-width="16" stroke-linejoin="round" stroke-linecap="round"/><path d="M152.6,117.9L145.4,104.3L138.1,93.5L134.5,80.8L132.7,68.1L131.7,53.6L137.2,50.8L141.7,55.4L140.8,68.1L142.6,80.8L146.3,93.5L152.6,104.3" fill="none" stroke="#FFCDB5" stroke-width="16" stroke-linejoin="round" stroke-linecap="round"/><path d="M149.7,86.2L156.9,97.1L162.4,104.3L169.6,109.8L178.7,111.6L175.1,117.9L168.7,122.5L160.6,123.4L149.7,118.5" fill="none" stroke="#FFCDB5" stroke-width="16" stroke-linejoin="round" stroke-linecap="round"/><path d="M-145.4,7.1L-143.5,2.2L-139.6,1.3L-135.8,6.1L-131.9,5.1L-128.0,10.0L-125.1,7.1L-123.2,4.2L-125.6,0.3L-126.1,-3.6L-125.1,-6.5L-119.3,-7.4L-111.6,-7.0L-105.8,-9.4L-99.0,-8.4L-91.3,-5.5L-86.4,-0.7L-81.6,3.7L-76.8,9.0L-71.9,14.3L-69.0,19.6L-67.1,26.4L-67.6,34.2L-69.5,40.0L-76.8,42.9L-80.6,45.8L-82.6,43.3L-86.4,40.9L-92.2,39.0L-98.0,37.1L-102.9,34.2L-106.8,31.7L-113.5,30.8L-121.3,31.3L-124.2,27.4L-128.0,28.8L-131.9,26.4L-136.7,30.3L-141.6,27.4L-144.5,23.5L-142.5,19.6L-144.5,13.8Z" fill="none" stroke="#FFCDB5" stroke-width="22" stroke-linejoin="round" stroke-linecap="round"/><path d="M-161.9,-5.5L-157.1,-6.5L-152.2,-5.5L-147.4,-7.4L-144.5,-10.3L-141.6,-14.2L-137.7,-15.2L-140.1,-11.3L-143.0,-6.5L-144.5,-1.6L-148.3,0.3L-151.3,1.3L-152.7,5.1L-151.7,10.9L-150.8,16.7L-151.3,22.5L-152.7,26.4L-156.1,29.3L-160.9,28.4L-162.9,23.5L-160.9,19.6L-163.8,16.7L-165.3,10.9L-165.8,5.1L-164.3,-0.7Z" fill="none" stroke="#FFCDB5" stroke-width="22" stroke-linejoin="round" stroke-linecap="round"/><path d="M-153.2,-67.4L-150.3,-68.4L-147.4,-65.5L-143.5,-67.4L-138.7,-72.3L-134.8,-75.2L-130.9,-77.1L-127.1,-81.9L-120.3,-83.4L-118.4,-78.1L-116.4,-70.3L-116.4,-62.6L-119.3,-59.7L-122.2,-63.5L-126.1,-64.5L-130.0,-63.5L-132.9,-59.7L-138.7,-57.7L-144.5,-55.8L-145.4,-51.9L-139.6,-51.0L-134.8,-49.0L-132.9,-46.1L-136.7,-45.2L-140.6,-43.2L-144.5,-41.3L-148.3,-43.2L-152.2,-46.1L-154.2,-51.0L-152.2,-55.8L-151.3,-60.6L-154.2,-63.5Z" fill="none" stroke="#FFCDB5" stroke-width="22" stroke-linejoin="round" stroke-linecap="round"/><path d="M-170.0,-111.9L-163.2,-111.0L-155.5,-111.9L-151.6,-106.1L-146.8,-101.3L-139.0,-96.5L-141.0,-87.8L-146.8,-82.9L-149.7,-79.0L-158.4,-76.6L-160.3,-77.1L-162.3,-89.7L-167.1,-94.5L-171.0,-103.2Z" fill="none" stroke="#FFCDB5" stroke-width="22" stroke-linejoin="round" stroke-linecap="round"/><path d="M-213.5,-91.6L-205.8,-92.1L-202.9,-91.6L-199.0,-97.4L-196.1,-98.9L-191.3,-96.9L-192.7,-89.7L-194.2,-81.0L-190.3,-83.9L-186.4,-90.7L-181.6,-96.0L-176.8,-93.6L-172.9,-96.5L-169.0,-93.6L-165.2,-90.7L-163.2,-83.9L-162.3,-76.1L-167.1,-73.2L-170.0,-73.2L-169.0,-68.4L-171.9,-64.5L-172.9,-60.7L-176.8,-57.8L-172.9,-54.9L-169.0,-52.0L-166.1,-49.1L-168.1,-45.2L-171.0,-44.2L-175.8,-48.1L-180.6,-50.0L-186.4,-50.0L-191.3,-51.0L-196.1,-52.0L-200.9,-49.1L-204.8,-45.2L-207.7,-39.4L-211.6,-40.4L-213.5,-45.2L-217.4,-46.2L-219.3,-50.0L-220.8,-54.9L-217.4,-58.7L-211.6,-61.6L-214.0,-66.5L-215.5,-74.2L-214.5,-83.9Z" fill="none" stroke="#FFCDB5" stroke-width="22" stroke-linejoin="round" stroke-linecap="round"/><path d="M-198.0,-30.7L-192.2,-33.6L-186.4,-35.5L-184.5,-39.4L-177.7,-40.4L-176.8,-34.6L-171.0,-35.5L-168.1,-30.7L-169.0,-24.9L-168.1,-22.0L-172.9,-22.9L-176.8,-24.9L-182.6,-21.0L-188.4,-21.0L-193.2,-22.9L-195.1,-27.8Z" fill="none" stroke="#FFCDB5" stroke-width="22" stroke-linejoin="round" stroke-linecap="round"/><path d="M-157.1,-28.7L-153.2,-31.6L-144.5,-32.6L-139.6,-29.7L-137.7,-24.9L-141.6,-21.0L-148.3,-20.0L-154.2,-21.0L-157.5,-23.9Z" fill="none" stroke="#FFCDB5" stroke-width="22" stroke-linejoin="round" stroke-linecap="round"/><path d="M-124.2,-25.8L-121.3,-29.7L-115.5,-31.6L-109.7,-33.1L-106.8,-29.7L-110.6,-24.9L-113.5,-21.0L-119.3,-20.0L-123.2,-22.0Z" fill="none" stroke="#FFCDB5" stroke-width="22" stroke-linejoin="round" stroke-linecap="round"/><path d="M-123.2,-52.9L-118.4,-55.8L-113.5,-54.8L-111.1,-49.0L-112.1,-43.2L-115.5,-39.4L-120.3,-42.3L-124.2,-47.1Z" fill="none" stroke="#FFCDB5" stroke-width="22" stroke-linejoin="round" stroke-linecap="round"/><path d="M-133.8,-7.4L-131.9,-13.2L-128.0,-16.1L-124.2,-18.1L-119.3,-19.0L-116.4,-17.1L-121.3,-14.2L-125.1,-13.2L-128.0,-10.3L-130.0,-5.5Z" fill="none" stroke="#FFCDB5" stroke-width="22" stroke-linejoin="round" stroke-linecap="round"/><path d="M-279.5,121.7L-274.6,119.3L-271.7,112.5L-268.8,106.7L-265.0,103.8L-266.9,110.6L-267.9,117.4L-266.9,123.2L-265.0,128.0L-260.1,126.1L-258.2,122.2L-254.3,119.3L-249.5,115.4L-246.6,109.6L-243.7,103.8L-239.8,100.9L-235.0,100.9L-235.9,104.8L-237.9,111.6L-241.7,116.4L-242.7,121.3L-239.8,120.3L-235.9,121.3L-232.1,124.2L-226.3,123.2L-220.5,122.2L-218.5,116.4L-217.6,110.6L-215.6,104.8L-214.7,99.0L-217.6,95.1L-216.6,91.3L-214.7,87.4L-210.8,85.5L-208.9,87.4L-205.0,89.3L-204.0,84.5L-201.1,83.5L-196.3,80.6L-194.3,74.8L-191.4,68.0L-188.5,60.3L-187.6,54.5L-182.7,53.5L-178.9,51.6L-181.8,47.7L-180.8,43.9L-176.9,43.9L-172.1,41.0L-169.2,36.1L-169.2,29.4L-172.1,22.6L-171.1,17.7L-172.1,11.0L-176.9,5.2L-183.7,1.3L-191.4,-0.1L-198.2,0.3L-203.0,4.2L-208.9,9.0L-212.7,13.9L-214.7,19.7L-213.7,24.5L-212.7,30.3L-214.7,35.2L-215.6,40.0L-212.7,41.0L-207.9,44.3L-208.9,45.8L-212.7,50.6L-216.6,55.5L-222.4,55.5L-218.5,59.3L-221.4,64.2L-224.3,69.0L-228.2,72.9L-234.0,75.8L-241.7,71.9L-248.5,70.0L-252.4,74.8L-256.3,71.0L-258.2,65.1L-259.2,58.4L-262.1,58.4L-265.0,55.5L-269.8,56.4L-272.7,60.3L-270.8,65.1L-267.9,69.0L-266.9,74.8L-267.9,81.6L-269.8,88.4L-274.6,89.3L-279.5,91.3" fill="none" stroke="#FFCDB5" stroke-width="22" stroke-linejoin="round" stroke-linecap="round"/><path d="M-279.5,8.6L-272.7,12.9L-266.9,15.8L-259.2,17.7L-253.3,15.3L-251.4,19.7L-256.3,22.6L-255.3,27.4L-250.4,31.3L-245.6,37.1L-238.8,37.1L-235.9,31.3L-231.1,31.3L-227.2,34.2L-222.4,33.2L-220.5,28.4L-216.6,26.5L-215.6,18.7L-220.5,17.7L-226.3,17.7L-233.0,18.7L-236.9,15.8L-241.7,14.8L-244.6,12.9L-239.8,9.0L-234.0,8.1L-228.2,8.1L-223.4,4.2L-227.2,2.3L-230.1,-0.6L-226.3,-2.6" fill="none" stroke="#FFCDB5" stroke-width="22" stroke-linejoin="round" stroke-linecap="round"/><path d="M-279.5,17.3L-270.8,16.8L-264.0,18.7L-259.2,20.6L-262.1,23.6L-266.9,29.4L-270.8,37.1L-274.6,41.9L-279.5,44.8" fill="none" stroke="#FFCDB5" stroke-width="22" stroke-linejoin="round" stroke-linecap="round"/><path d="M-137.7,69.0L-136.7,59.3L-134.8,52.5L-130.9,46.7L-125.1,49.6L-122.2,43.8L-119.3,38.0L-114.5,38.0L-110.6,41.9L-105.8,46.7L-100.0,47.7L-95.1,45.8L-96.1,40.9L-90.3,39.0L-86.4,40.9L-80.6,43.8L-72.9,42.9L-67.1,45.8L-63.2,53.5L-58.4,55.4L-54.5,53.5L-47.7,52.5L-40.0,54.5L-34.2,58.3L-29.4,63.2L-27.4,69.0" fill="none" stroke="#FFCDB5" stroke-width="22" stroke-linejoin="round" stroke-linecap="round"/><path d="M-157.4,-26.8L-151.6,-30.7L-144.8,-32.6L-140.0,-30.7L-138.1,-26.8L-141.0,-22.9L-147.7,-22.0L-154.5,-22.9" fill="none" stroke="#FFCDB5" stroke-width="22" stroke-linejoin="round" stroke-linecap="round"/><path d="M-163.2,-11.3L-158.4,-18.1L-152.6,-15.2L-154.5,-11.3" fill="none" stroke="#FFCDB5" stroke-width="22" stroke-linejoin="round" stroke-linecap="round"/><path d="M-240.6,9.0L-232.9,3.2L-225.1,5.1L-228.0,1.2L-223.2,-2.6L-217.4,-7.5L-212.6,-4.6L-205.8,-6.5L-200.0,-11.3L-193.2,-14.2" fill="none" stroke="#FFCDB5" stroke-width="22" stroke-linejoin="round" stroke-linecap="round"/><path d="M-219.3,9.0L-211.6,3.2L-205.8,1.2L-198.0,-0.7L-190.3,-0.7L-182.6,1.2L-176.8,5.1L-171.9,9.0" fill="none" stroke="#FFCDB5" stroke-width="22" stroke-linejoin="round" stroke-linecap="round"/><path d="M-165.2,9.0L-164.2,-0.7L-159.4,-4.6L-152.6,-6.5L-144.8,-7.5L-142.9,-12.3L-138.1,-15.2" fill="none" stroke="#FFCDB5" stroke-width="22" stroke-linejoin="round" stroke-linecap="round"/><path d="M-123.2,4.2L-119.3,6.1L-115.5,9.0L-111.6,8.0L-108.7,5.1L-105.8,6.1L-101.9,5.1L-100.9,1.3L-98.0,-1.6L-92.2,-2.6L-91.3,-5.5" fill="none" stroke="#FFCDB5" stroke-width="22" stroke-linejoin="round" stroke-linecap="round"/><path d="M-101.9,9.0L-93.2,21.6L-98.0,-1.6" fill="none" stroke="#FFCDB5" stroke-width="22" stroke-linejoin="round" stroke-linecap="round"/><path d="M-119.3,38.0L-114.5,38.0L-110.6,41.9L-105.8,46.7L-100.0,47.7L-95.1,45.8L-96.1,40.9L-90.3,39.0L-86.4,40.9L-80.6,43.8L-72.9,42.9L-67.1,45.8L-63.2,53.5L-58.4,55.4L-54.5,53.5L-47.7,52.5L-40.0,54.5L-34.2,58.3L-29.4,63.2L-27.4,69.0L-30.6,64.4L-27.0,71.7L-25.2,77.1L-32.4,75.3L-39.7,74.4L-32.4,79.9L-28.8,83.5L-37.9,88.0L-30.6,86.2L-23.3,85.3L-17.9,88.0L-16.1,92.6L-21.5,98.9L-27.0,104.3L-32.4,113.4L-37.9,122.5L-41.5,129.7L-45.1,135.2L-50.5,137.0L-52.4,140.6L-48.7,146.1L-49.6,151.5L-45.1,148.6L-46.9,155.8L-52.4,161.3L-57.8,166.7L-63.2,170.4L-68.7,174.0L-74.1,172.2L-76.9,176.7L-72.3,181.2L-75.9,186.7L-79.6,192.1L-85.0,188.5L-90.5,190.3L-85.0,195.7L-81.4,199.4L-86.8,202.1L-94.1,203.9L-103.2,204.8L-112.2,203.0L-121.3,202.1L-130.4,204.8L-137.6,208.4L-144.9,211.2L-150.3,212.1L-147.4,213.0L-151.0,213.0L-156.5,211.2L-161.9,207.5L-168.3,205.7L-172.8,208.4L-175.5,204.8L-177.3,210.3L-181.0,213.9L-185.5,218.4L-190.9,220.2L-199.1,223.0L-203.6,228.4L-209.1,232.0L-216.3,236.6L-221.8,240.2L-225.4,240.2L-229.0,235.7L-230.8,228.4L-229.9,223.0L-233.6,219.3L-236.3,213.9L-235.4,208.4L-232.6,203.0L-229.0,195.7L-226.3,190.3L-223.6,184.9L-220.9,179.4L-218.1,174.0L-212.7,170.4L-210.9,164.9L-207.3,159.5L-205.4,154.0L-200.0,148.6L-208.9,159.0L-206.9,155.1L-202.1,150.3L-196.3,145.4L-189.5,142.5L-182.7,141.6L-177.9,146.4L-172.1,140.6L-168.2,136.7L-173.1,135.8L-177.9,133.8L-178.9,128.0L-172.1,124.2L-165.3,123.2L-162.4,131.9L-160.5,125.1L-156.6,118.4L-159.5,119.3L-163.4,115.4L-162.4,111.6L-158.5,109.6L-153.7,104.8L-147.9,100.9L-143.1,96.1L-137.3,91.3L-133.4,87.4L-129.5,82.6L-129.0,75.8L-130.5,70.0L-134.4,64.2L-137.3,58.4L-136.3,52.6L-131.5,50.6L-129.5,45.8L-125.7,46.8L-121.8,41.9L-117.9,36.6Z" fill="none" stroke="#FFCDB5" stroke-width="8" stroke-linejoin="round" stroke-linecap="round"/><path d="M-119.3,38.0L-114.5,38.0L-110.6,41.9L-105.8,46.7L-100.0,47.7L-95.1,45.8L-96.1,40.9L-90.3,39.0L-86.4,40.9L-80.6,43.8L-72.9,42.9L-67.1,45.8L-63.2,53.5L-58.4,55.4L-54.5,53.5L-47.7,52.5L-40.0,54.5L-34.2,58.3L-29.4,63.2L-27.4,69.0L-30.6,64.4L-27.0,71.7L-25.2,77.1L-32.4,75.3L-39.7,74.4L-32.4,79.9L-28.8,83.5L-37.9,88.0L-30.6,86.2L-23.3,85.3L-17.9,88.0L-16.1,92.6L-21.5,98.9L-27.0,104.3L-32.4,113.4L-37.9,122.5L-41.5,129.7L-45.1,135.2L-50.5,137.0L-52.4,140.6L-48.7,146.1L-49.6,151.5L-45.1,148.6L-46.9,155.8L-52.4,161.3L-57.8,166.7L-63.2,170.4L-68.7,174.0L-74.1,172.2L-76.9,176.7L-72.3,181.2L-75.9,186.7L-79.6,192.1L-85.0,188.5L-90.5,190.3L-85.0,195.7L-81.4,199.4L-86.8,202.1" fill="none" stroke="#FFCDB5" stroke-width="22" stroke-linejoin="round" stroke-linecap="round"/><path d="M-172.1,124.2L-165.3,123.2L-162.4,131.9L-160.5,125.1L-156.6,118.4L-159.5,119.3L-163.4,115.4L-162.4,111.6L-158.5,109.6L-153.7,104.8L-147.9,100.9L-143.1,96.1L-137.3,91.3L-133.4,87.4L-129.5,82.6L-129.0,75.8L-130.5,70.0L-134.4,64.2L-137.3,58.4L-136.3,52.6L-131.5,50.6L-129.5,45.8L-125.7,46.8L-121.8,41.9L-117.9,36.6L-119.3,38.0" fill="none" stroke="#FFCDB5" stroke-width="22" stroke-linejoin="round" stroke-linecap="round"/><path d="M-44.7,-260.4L-38.3,-253.1L-31.0,-251.2L-23.6,-250.3L-18.1,-243.9L-9.0,-236.6L0.2,-230.1L9.4,-223.7L18.6,-220.0L29.6,-217.3L37.9,-215.4L38.8,-227.4L44.3,-229.2L45.2,-221.0L49.8,-219.1L60.8,-216.4L70.0,-212.7L77.3,-209.0L78.2,-198.9L84.7,-192.5L95.7,-188.8L101.2,-183.3L103.0,-174.1L110.4,-163.1L115.9,-155.8L119.5,-150.3" fill="none" stroke="#FFAB85" stroke-width="20" stroke-linejoin="round" stroke-linecap="round"/><path d="M119.5,-153.2L125.0,-145.9L130.6,-149.6L137.9,-145.9L143.4,-142.2L150.7,-134.9L154.4,-136.7" fill="none" stroke="#FFAB85" stroke-width="20" stroke-linejoin="round" stroke-linecap="round"/><path d="M151.5,-138.6L160.6,-139.5L162.5,-134.0L159.7,-125.7L155.1,-122.9L151.5,-123.9" fill="none" stroke="#FFAB85" stroke-width="20" stroke-linejoin="round" stroke-linecap="round"/><path d="M154.4,-123.9L147.1,-118.4L146.2,-109.2L148.9,-100.0L154.4,-96.3" fill="none" stroke="#FFAB85" stroke-width="20" stroke-linejoin="round" stroke-linecap="round"/><path d="M151.5,-100.0L157.9,-102.2L163.4,-96.3L164.3,-89.0L161.6,-81.6L163.4,-74.3L168.0,-70.6L166.1,-64.2L170.7,-61.5L177.2,-55.9L179.9,-51.4L173.5,-52.3L166.1,-56.9L160.6,-60.5L152.4,-63.3" fill="none" stroke="#FFAB85" stroke-width="20" stroke-linejoin="round" stroke-linecap="round"/><path d="M154.4,-66.0L145.2,-61.5L140.7,-55.9L139.7,-46.8L143.4,-43.1L136.1,-39.4L134.2,-33.9L141.6,-32.1L147.1,-28.4L154.4,-24.7" fill="none" stroke="#FFAB85" stroke-width="20" stroke-linejoin="round" stroke-linecap="round"/><path d="M152.4,-22.9L156.1,-11.9L160.6,-2.7L164.3,4.6L171.7,10.1L178.1,9.2L179.9,17.5L180.8,29.4L187.3,30.3L194.6,29.4L197.4,24.8L201.4,25.7L200.1,30.3L194.6,34.0L192.8,39.5L189.1,42.3L195.5,43.2L201.0,42.3L206.5,41.3L204.7,46.9L199.2,52.4L190.9,51.4L180.8,49.6" fill="none" stroke="#FFAB85" stroke-width="20" stroke-linejoin="round" stroke-linecap="round"/><path d="M178.7,49.0L187.8,54.5L194.1,57.2L204.1,57.2L213.2,60.8L221.3,61.7L223.1,57.2L225.9,61.7L236.8,63.5L242.2,70.8L245.8,77.1L248.5,82.6L243.1,85.3L240.4,77.1L234.9,69.0L224.1,66.3L218.6,68.1L209.5,65.3L200.5,62.6L191.4,63.5L181.4,57.2L171.5,58.1L175.1,62.6L181.4,67.2L187.8,73.5L190.5,79.9L198.7,83.5L205.9,86.2L213.2,83.5L222.2,86.2L218.6,89.8L211.4,92.6L203.2,98.9L196.8,103.4L188.7,108.0L183.2,109.8L187.8,113.4L195.0,111.6L203.2,111.6L204.1,117.9" fill="none" stroke="#FFAB85" stroke-width="9.5" stroke-linejoin="round" stroke-linecap="round"/><path d="M-52.4,-219.3L-60.4,-213.9L-62.2,-205.0L-67.6,-197.0L-74.7,-188.9L-78.3,-181.8L-85.4,-183.6L-92.6,-180.9L-97.9,-182.7L-110.4,-177.3L-119.3,-174.7L-128.3,-170.2L-139.0,-167.5L-147.9,-164.0" fill="none" stroke="#FFAB85" stroke-width="12" stroke-linejoin="round" stroke-linecap="round"/><path d="M-156.8,-151.1L-157.7,-141.6L-159.6,-134.9L-163.4,-135.8L-161.5,-130.1L-160.6,-126.8L-166.3,-127.3L-171.1,-128.7L-175.8,-127.3L-173.9,-122.5L-178.7,-123.5L-182.0,-121.1L-179.6,-116.8L-180.6,-112.5L-186.3,-111.1L-193.0,-107.3L-198.7,-102.5L-202.5,-97.8L-206.3,-94.9L-209.1,-97.8" fill="none" stroke="#FFAB85" stroke-width="12" stroke-linejoin="round" stroke-linecap="round"/><path d="M-212.6,-99.4L-215.5,-102.7L-218.8,-98.4L-221.7,-93.6L-220.8,-87.8L-223.2,-82.4L-230.0,-76.1L-226.1,-73.2L-221.3,-75.2L-218.4,-69.4L-216.9,-62.1L-222.2,-59.7L-228.0,-54.9L-233.8,-50.0L-237.7,-44.2L-238.7,-38.4L-234.8,-36.0L-230.0,-35.0L-227.1,-32.1L-223.2,-37.5L-218.4,-32.6L-214.5,-29.2L-219.3,-25.8L-225.1,-23.4L-230.9,-27.3L-236.7,-28.3L-241.1,-25.4L-236.3,-22.5L-234.8,-19.1L-230.0,-17.1L-226.1,-19.1L-221.3,-15.7L-216.4,-19.1L-211.6,-23.9L-206.8,-24.9L-200.0,-22.0L-193.2,-18.1L-189.3,-14.2L-184.5,-16.2L-176.8,-16.7L-171.9,-16.2L-169.0,-12.3L-170.0,-6.5L-171.9,-1.7L-176.8,-3.6L-180.6,-6.5L-184.5,-8.4L-186.4,-12.3L-190.3,-12.3" fill="none" stroke="#FFAB85" stroke-width="15" stroke-linejoin="round" stroke-linecap="round"/><path d="M150.9,-307.8L160.0,-305.1L167.3,-302.4L163.7,-297.8L171.0,-292.3L174.6,-287.7L179.2,-291.4L185.6,-285.0L191.1,-281.3L194.8,-282.2L200.2,-276.8L207.6,-271.3L214.9,-271.3L225.8,-274.0L235.0,-275.8L244.1,-276.8L255.1,-278.6L266.1,-279.9L274.3,-278.6L278.9,-277.7L280.7,-281.3L277.0,-287.7" fill="none" stroke="#FFAB85" stroke-width="8" stroke-linejoin="round" stroke-linecap="round"/><path d="M153.8,-338.0L144.7,-334.4L141.0,-328.9L130.0,-325.2L119.1,-319.7L106.3,-312.4L95.3,-306.9L88.0,-297.8L83.4,-291.4L89.8,-290.5L93.5,-297.8L106.3,-303.3L111.8,-305.1L109.9,-294.1L115.4,-290.5L124.6,-289.6L135.5,-296.0L142.8,-301.4L150.2,-308.8L153.8,-308.8" fill="none" stroke="#FFAB85" stroke-width="8" stroke-linejoin="round" stroke-linecap="round"/><path d="M-252.6,16.4L-259.9,15.5L-270.7,12.7L-279.8,8.2L-281.6,1.0L-287.1,-1.8L-294.3,-4.5L-297.9,-12.7L-303.4,-15.4L-312.5,-21.7L-323.3,-26.3L-334.2,-28.1L-341.5,-25.3L-343.3,-19.9L-354.2,-16.3L-363.2,-14.5L-360.5,-6.3L-363.2,2.8L-368.7,10.9L-374.1,17.3L-377.8,26.3L-381.4,33.6L-380.5,42.7L-382.3,50.8L-390.5,52.6L-397.7,55.4L-406.8,56.3L-414.0,64.4L-421.3,70.8L-426.7,78.0L-421.3,77.1L-415.8,81.7L-410.4,85.3L-405.0,80.8L-395.9,78.0L-388.6,74.4L-384.1,71.7L-377.8,77.1L-370.5,84.4L-363.2,87.1L-354.2,84.4L-345.1,79.0L-339.7,73.5L-335.1,68.1L-330.6,67.2" fill="none" stroke="#FFAB85" stroke-width="9.5" stroke-linejoin="round" stroke-linecap="round"/><path d="M-330.6,67.2L-328.8,71.7L-323.3,72.6L-316.1,68.1L-312.5,65.3L-305.2,67.2L-297.9,64.4L-293.4,66.3L-292.5,75.3L-288.9,84.4L-290.7,91.6L-294.3,98.9L-297.9,100.7L-297.0,108.0L-300.7,113.4L-308.8,116.1L-316.1,119.8L-318.8,127.9L-323.3,133.4L-317.9,138.8L-308.8,140.6L-301.6,137.0L-292.5,139.7L-296.1,146.1L-299.8,151.5" fill="none" stroke="#FFAB85" stroke-width="4.5" stroke-linejoin="round" stroke-linecap="round"/><path d="M-297.9,148.6L-305.2,157.7L-310.6,164.9L-315.2,168.5L-317.9,174.0L-323.3,174.0L-327.9,178.5L-329.7,185.8L-332.4,190.3L-329.7,195.7L-331.5,203.0L-328.8,208.4L-330.6,213.0L-336.0,209.4L-333.3,214.8L-337.9,220.2L-334.2,224.8L-336.0,230.2L-341.5,232.9L-346.0,239.3L-349.6,237.5L-354.2,235.7L-358.7,232.9L-363.2,227.5L-368.7,224.8L-375.9,223.9L-385.0,222.0" fill="none" stroke="#FFAB85" stroke-width="4.5" stroke-linejoin="round" stroke-linecap="round"/><path d="M-290.7,20.9L-285.2,14.6L-279.8,20.0L-274.4,19.1L-267.1,18.2L-259.9,17.3L-253.5,14.6L-251.7,20.9L-256.2,23.6L-261.7,24.5L-267.1,30.0L-271.6,35.4L-276.2,41.8L-278.9,49.0L-284.3,45.4L-280.7,39.0L-278.9,31.8L-285.2,29.1L-288.9,25.4" fill="none" stroke="#FFAB85" stroke-width="9.5" stroke-linejoin="round" stroke-linecap="round"/><path d="M-7.0,-202.9L-1.6,-206.5L6.6,-207.4L5.7,-202.0L0.2,-199.3L-5.2,-199.6Z" fill="none" stroke="#FFAB85" stroke-width="9.5" stroke-linejoin="round" stroke-linecap="round"/><path d="M22.0,108.0L31.1,104.3L36.5,97.1L43.8,94.4L51.0,94.4L51.9,102.5L47.4,108.0L43.8,104.3L38.3,100.7L42.0,108.0L47.4,111.6L51.0,117.0L58.3,120.7L56.5,127.9L50.1,127.0L49.2,120.7L46.5,117.0L43.8,120.7L45.6,129.7L44.7,140.6L38.3,133.4L32.9,126.1L34.7,120.7L29.3,118.9L25.6,113.4Z" fill="none" stroke="#FFAB85" stroke-width="9.5" stroke-linejoin="round" stroke-linecap="round"/><path d="M-55.1,-286.3L-49.6,-289.1L-39.7,-288.2L-38.8,-283.6L-45.1,-282.7L-52.4,-284.2Z" fill="none" stroke="#FFAB85" stroke-width="9.5" stroke-linejoin="round" stroke-linecap="round"/><path d="M80.1,-141.4L84.6,-143.3L87.3,-138.7L88.2,-132.4L84.6,-134.2Z" fill="none" stroke="#FFAB85" stroke-width="15" stroke-linejoin="round" stroke-linecap="round"/><path d="M92.7,-129.6L100.0,-131.5L107.3,-130.6L112.7,-126.0L111.8,-118.8L105.4,-111.5L101.8,-116.9L96.4,-117.9L93.7,-123.3Z" fill="none" stroke="#FFAB85" stroke-width="15" stroke-linejoin="round" stroke-linecap="round"/><path d="M108.2,-142.3L111.8,-144.2L113.6,-139.6L110.0,-136.9Z" fill="none" stroke="#FFAB85" stroke-width="15" stroke-linejoin="round" stroke-linecap="round"/><path d="M109.1,-134.2L113.6,-134.2L112.7,-130.6Z" fill="none" stroke="#FFAB85" stroke-width="15" stroke-linejoin="round" stroke-linecap="round"/><path d="M96.4,-9.0L105.4,-15.4L112.7,-22.6L118.1,-29.9L123.6,-31.7L129.0,-24.4L123.6,-20.8L120.0,-11.7L114.5,-4.5L109.1,-1.8L103.6,-5.4Z" fill="none" stroke="#FFAB85" stroke-width="15" stroke-linejoin="round" stroke-linecap="round"/><path d="M77.3,47.2L81.0,45.4L82.8,49.9L79.1,51.7Z" fill="none" stroke="#FFAB85" stroke-width="9.5" stroke-linejoin="round" stroke-linecap="round"/><path d="M85.5,40.9L90.0,40.0L90.9,45.4L87.3,48.1Z" fill="none" stroke="#FFAB85" stroke-width="9.5" stroke-linejoin="round" stroke-linecap="round"/><path d="M86.4,51.7L91.8,49.0L93.7,55.4L89.1,62.6L85.5,59.0Z" fill="none" stroke="#FFAB85" stroke-width="9.5" stroke-linejoin="round" stroke-linecap="round"/><path d="M73.7,66.3L79.1,63.5L83.7,68.1L81.9,72.6L74.6,72.6Z" fill="none" stroke="#FFAB85" stroke-width="9.5" stroke-linejoin="round" stroke-linecap="round"/><path d="M152.6,117.9L145.4,104.3L138.1,93.5L134.5,80.8L132.7,68.1L131.7,53.6L137.2,50.8L141.7,55.4L140.8,68.1L142.6,80.8L146.3,93.5L152.6,104.3" fill="none" stroke="#FFAB85" stroke-width="9.5" stroke-linejoin="round" stroke-linecap="round"/><path d="M149.7,86.2L156.9,97.1L162.4,104.3L169.6,109.8L178.7,111.6L175.1,117.9L168.7,122.5L160.6,123.4L149.7,118.5" fill="none" stroke="#FFAB85" stroke-width="9.5" stroke-linejoin="round" stroke-linecap="round"/><path d="M-145.4,7.1L-143.5,2.2L-139.6,1.3L-135.8,6.1L-131.9,5.1L-128.0,10.0L-125.1,7.1L-123.2,4.2L-125.6,0.3L-126.1,-3.6L-125.1,-6.5L-119.3,-7.4L-111.6,-7.0L-105.8,-9.4L-99.0,-8.4L-91.3,-5.5L-86.4,-0.7L-81.6,3.7L-76.8,9.0L-71.9,14.3L-69.0,19.6L-67.1,26.4L-67.6,34.2L-69.5,40.0L-76.8,42.9L-80.6,45.8L-82.6,43.3L-86.4,40.9L-92.2,39.0L-98.0,37.1L-102.9,34.2L-106.8,31.7L-113.5,30.8L-121.3,31.3L-124.2,27.4L-128.0,28.8L-131.9,26.4L-136.7,30.3L-141.6,27.4L-144.5,23.5L-142.5,19.6L-144.5,13.8Z" fill="none" stroke="#FFAB85" stroke-width="15" stroke-linejoin="round" stroke-linecap="round"/><path d="M-161.9,-5.5L-157.1,-6.5L-152.2,-5.5L-147.4,-7.4L-144.5,-10.3L-141.6,-14.2L-137.7,-15.2L-140.1,-11.3L-143.0,-6.5L-144.5,-1.6L-148.3,0.3L-151.3,1.3L-152.7,5.1L-151.7,10.9L-150.8,16.7L-151.3,22.5L-152.7,26.4L-156.1,29.3L-160.9,28.4L-162.9,23.5L-160.9,19.6L-163.8,16.7L-165.3,10.9L-165.8,5.1L-164.3,-0.7Z" fill="none" stroke="#FFAB85" stroke-width="15" stroke-linejoin="round" stroke-linecap="round"/><path d="M-153.2,-67.4L-150.3,-68.4L-147.4,-65.5L-143.5,-67.4L-138.7,-72.3L-134.8,-75.2L-130.9,-77.1L-127.1,-81.9L-120.3,-83.4L-118.4,-78.1L-116.4,-70.3L-116.4,-62.6L-119.3,-59.7L-122.2,-63.5L-126.1,-64.5L-130.0,-63.5L-132.9,-59.7L-138.7,-57.7L-144.5,-55.8L-145.4,-51.9L-139.6,-51.0L-134.8,-49.0L-132.9,-46.1L-136.7,-45.2L-140.6,-43.2L-144.5,-41.3L-148.3,-43.2L-152.2,-46.1L-154.2,-51.0L-152.2,-55.8L-151.3,-60.6L-154.2,-63.5Z" fill="none" stroke="#FFAB85" stroke-width="15" stroke-linejoin="round" stroke-linecap="round"/><path d="M-170.0,-111.9L-163.2,-111.0L-155.5,-111.9L-151.6,-106.1L-146.8,-101.3L-139.0,-96.5L-141.0,-87.8L-146.8,-82.9L-149.7,-79.0L-158.4,-76.6L-160.3,-77.1L-162.3,-89.7L-167.1,-94.5L-171.0,-103.2Z" fill="none" stroke="#FFAB85" stroke-width="15" stroke-linejoin="round" stroke-linecap="round"/><path d="M-213.5,-91.6L-205.8,-92.1L-202.9,-91.6L-199.0,-97.4L-196.1,-98.9L-191.3,-96.9L-192.7,-89.7L-194.2,-81.0L-190.3,-83.9L-186.4,-90.7L-181.6,-96.0L-176.8,-93.6L-172.9,-96.5L-169.0,-93.6L-165.2,-90.7L-163.2,-83.9L-162.3,-76.1L-167.1,-73.2L-170.0,-73.2L-169.0,-68.4L-171.9,-64.5L-172.9,-60.7L-176.8,-57.8L-172.9,-54.9L-169.0,-52.0L-166.1,-49.1L-168.1,-45.2L-171.0,-44.2L-175.8,-48.1L-180.6,-50.0L-186.4,-50.0L-191.3,-51.0L-196.1,-52.0L-200.9,-49.1L-204.8,-45.2L-207.7,-39.4L-211.6,-40.4L-213.5,-45.2L-217.4,-46.2L-219.3,-50.0L-220.8,-54.9L-217.4,-58.7L-211.6,-61.6L-214.0,-66.5L-215.5,-74.2L-214.5,-83.9Z" fill="none" stroke="#FFAB85" stroke-width="15" stroke-linejoin="round" stroke-linecap="round"/><path d="M-198.0,-30.7L-192.2,-33.6L-186.4,-35.5L-184.5,-39.4L-177.7,-40.4L-176.8,-34.6L-171.0,-35.5L-168.1,-30.7L-169.0,-24.9L-168.1,-22.0L-172.9,-22.9L-176.8,-24.9L-182.6,-21.0L-188.4,-21.0L-193.2,-22.9L-195.1,-27.8Z" fill="none" stroke="#FFAB85" stroke-width="15" stroke-linejoin="round" stroke-linecap="round"/><path d="M-157.1,-28.7L-153.2,-31.6L-144.5,-32.6L-139.6,-29.7L-137.7,-24.9L-141.6,-21.0L-148.3,-20.0L-154.2,-21.0L-157.5,-23.9Z" fill="none" stroke="#FFAB85" stroke-width="15" stroke-linejoin="round" stroke-linecap="round"/><path d="M-124.2,-25.8L-121.3,-29.7L-115.5,-31.6L-109.7,-33.1L-106.8,-29.7L-110.6,-24.9L-113.5,-21.0L-119.3,-20.0L-123.2,-22.0Z" fill="none" stroke="#FFAB85" stroke-width="15" stroke-linejoin="round" stroke-linecap="round"/><path d="M-123.2,-52.9L-118.4,-55.8L-113.5,-54.8L-111.1,-49.0L-112.1,-43.2L-115.5,-39.4L-120.3,-42.3L-124.2,-47.1Z" fill="none" stroke="#FFAB85" stroke-width="15" stroke-linejoin="round" stroke-linecap="round"/><path d="M-133.8,-7.4L-131.9,-13.2L-128.0,-16.1L-124.2,-18.1L-119.3,-19.0L-116.4,-17.1L-121.3,-14.2L-125.1,-13.2L-128.0,-10.3L-130.0,-5.5Z" fill="none" stroke="#FFAB85" stroke-width="15" stroke-linejoin="round" stroke-linecap="round"/><path d="M-279.5,121.7L-274.6,119.3L-271.7,112.5L-268.8,106.7L-265.0,103.8L-266.9,110.6L-267.9,117.4L-266.9,123.2L-265.0,128.0L-260.1,126.1L-258.2,122.2L-254.3,119.3L-249.5,115.4L-246.6,109.6L-243.7,103.8L-239.8,100.9L-235.0,100.9L-235.9,104.8L-237.9,111.6L-241.7,116.4L-242.7,121.3L-239.8,120.3L-235.9,121.3L-232.1,124.2L-226.3,123.2L-220.5,122.2L-218.5,116.4L-217.6,110.6L-215.6,104.8L-214.7,99.0L-217.6,95.1L-216.6,91.3L-214.7,87.4L-210.8,85.5L-208.9,87.4L-205.0,89.3L-204.0,84.5L-201.1,83.5L-196.3,80.6L-194.3,74.8L-191.4,68.0L-188.5,60.3L-187.6,54.5L-182.7,53.5L-178.9,51.6L-181.8,47.7L-180.8,43.9L-176.9,43.9L-172.1,41.0L-169.2,36.1L-169.2,29.4L-172.1,22.6L-171.1,17.7L-172.1,11.0L-176.9,5.2L-183.7,1.3L-191.4,-0.1L-198.2,0.3L-203.0,4.2L-208.9,9.0L-212.7,13.9L-214.7,19.7L-213.7,24.5L-212.7,30.3L-214.7,35.2L-215.6,40.0L-212.7,41.0L-207.9,44.3L-208.9,45.8L-212.7,50.6L-216.6,55.5L-222.4,55.5L-218.5,59.3L-221.4,64.2L-224.3,69.0L-228.2,72.9L-234.0,75.8L-241.7,71.9L-248.5,70.0L-252.4,74.8L-256.3,71.0L-258.2,65.1L-259.2,58.4L-262.1,58.4L-265.0,55.5L-269.8,56.4L-272.7,60.3L-270.8,65.1L-267.9,69.0L-266.9,74.8L-267.9,81.6L-269.8,88.4L-274.6,89.3L-279.5,91.3" fill="none" stroke="#FFAB85" stroke-width="15" stroke-linejoin="round" stroke-linecap="round"/><path d="M-279.5,8.6L-272.7,12.9L-266.9,15.8L-259.2,17.7L-253.3,15.3L-251.4,19.7L-256.3,22.6L-255.3,27.4L-250.4,31.3L-245.6,37.1L-238.8,37.1L-235.9,31.3L-231.1,31.3L-227.2,34.2L-222.4,33.2L-220.5,28.4L-216.6,26.5L-215.6,18.7L-220.5,17.7L-226.3,17.7L-233.0,18.7L-236.9,15.8L-241.7,14.8L-244.6,12.9L-239.8,9.0L-234.0,8.1L-228.2,8.1L-223.4,4.2L-227.2,2.3L-230.1,-0.6L-226.3,-2.6" fill="none" stroke="#FFAB85" stroke-width="15" stroke-linejoin="round" stroke-linecap="round"/><path d="M-279.5,17.3L-270.8,16.8L-264.0,18.7L-259.2,20.6L-262.1,23.6L-266.9,29.4L-270.8,37.1L-274.6,41.9L-279.5,44.8" fill="none" stroke="#FFAB85" stroke-width="15" stroke-linejoin="round" stroke-linecap="round"/><path d="M-137.7,69.0L-136.7,59.3L-134.8,52.5L-130.9,46.7L-125.1,49.6L-122.2,43.8L-119.3,38.0L-114.5,38.0L-110.6,41.9L-105.8,46.7L-100.0,47.7L-95.1,45.8L-96.1,40.9L-90.3,39.0L-86.4,40.9L-80.6,43.8L-72.9,42.9L-67.1,45.8L-63.2,53.5L-58.4,55.4L-54.5,53.5L-47.7,52.5L-40.0,54.5L-34.2,58.3L-29.4,63.2L-27.4,69.0" fill="none" stroke="#FFAB85" stroke-width="15" stroke-linejoin="round" stroke-linecap="round"/><path d="M-157.4,-26.8L-151.6,-30.7L-144.8,-32.6L-140.0,-30.7L-138.1,-26.8L-141.0,-22.9L-147.7,-22.0L-154.5,-22.9" fill="none" stroke="#FFAB85" stroke-width="15" stroke-linejoin="round" stroke-linecap="round"/><path d="M-163.2,-11.3L-158.4,-18.1L-152.6,-15.2L-154.5,-11.3" fill="none" stroke="#FFAB85" stroke-width="15" stroke-linejoin="round" stroke-linecap="round"/><path d="M-240.6,9.0L-232.9,3.2L-225.1,5.1L-228.0,1.2L-223.2,-2.6L-217.4,-7.5L-212.6,-4.6L-205.8,-6.5L-200.0,-11.3L-193.2,-14.2" fill="none" stroke="#FFAB85" stroke-width="15" stroke-linejoin="round" stroke-linecap="round"/><path d="M-219.3,9.0L-211.6,3.2L-205.8,1.2L-198.0,-0.7L-190.3,-0.7L-182.6,1.2L-176.8,5.1L-171.9,9.0" fill="none" stroke="#FFAB85" stroke-width="15" stroke-linejoin="round" stroke-linecap="round"/><path d="M-165.2,9.0L-164.2,-0.7L-159.4,-4.6L-152.6,-6.5L-144.8,-7.5L-142.9,-12.3L-138.1,-15.2" fill="none" stroke="#FFAB85" stroke-width="15" stroke-linejoin="round" stroke-linecap="round"/><path d="M-123.2,4.2L-119.3,6.1L-115.5,9.0L-111.6,8.0L-108.7,5.1L-105.8,6.1L-101.9,5.1L-100.9,1.3L-98.0,-1.6L-92.2,-2.6L-91.3,-5.5" fill="none" stroke="#FFAB85" stroke-width="15" stroke-linejoin="round" stroke-linecap="round"/><path d="M-101.9,9.0L-93.2,21.6L-98.0,-1.6" fill="none" stroke="#FFAB85" stroke-width="15" stroke-linejoin="round" stroke-linecap="round"/><path d="M-119.3,38.0L-114.5,38.0L-110.6,41.9L-105.8,46.7L-100.0,47.7L-95.1,45.8L-96.1,40.9L-90.3,39.0L-86.4,40.9L-80.6,43.8L-72.9,42.9L-67.1,45.8L-63.2,53.5L-58.4,55.4L-54.5,53.5L-47.7,52.5L-40.0,54.5L-34.2,58.3L-29.4,63.2L-27.4,69.0L-30.6,64.4L-27.0,71.7L-25.2,77.1L-32.4,75.3L-39.7,74.4L-32.4,79.9L-28.8,83.5L-37.9,88.0L-30.6,86.2L-23.3,85.3L-17.9,88.0L-16.1,92.6L-21.5,98.9L-27.0,104.3L-32.4,113.4L-37.9,122.5L-41.5,129.7L-45.1,135.2L-50.5,137.0L-52.4,140.6L-48.7,146.1L-49.6,151.5L-45.1,148.6L-46.9,155.8L-52.4,161.3L-57.8,166.7L-63.2,170.4L-68.7,174.0L-74.1,172.2L-76.9,176.7L-72.3,181.2L-75.9,186.7L-79.6,192.1L-85.0,188.5L-90.5,190.3L-85.0,195.7L-81.4,199.4L-86.8,202.1" fill="none" stroke="#FFAB85" stroke-width="15" stroke-linejoin="round" stroke-linecap="round"/><path d="M-172.1,124.2L-165.3,123.2L-162.4,131.9L-160.5,125.1L-156.6,118.4L-159.5,119.3L-163.4,115.4L-162.4,111.6L-158.5,109.6L-153.7,104.8L-147.9,100.9L-143.1,96.1L-137.3,91.3L-133.4,87.4L-129.5,82.6L-129.0,75.8L-130.5,70.0L-134.4,64.2L-137.3,58.4L-136.3,52.6L-131.5,50.6L-129.5,45.8L-125.7,46.8L-121.8,41.9L-117.9,36.6L-119.3,38.0" fill="none" stroke="#FFAB85" stroke-width="15" stroke-linejoin="round" stroke-linecap="round"/><path d="M-43.8,-255.3L-37.5,-248.1L-30.3,-246.3L-23.1,-245.4L-17.7,-239.1L-8.7,-231.9L0.2,-225.6L9.2,-219.3L18.2,-215.7L29.0,-213.0L37.1,-211.2L38.0,-222.9L43.4,-224.7L44.3,-216.6L48.8,-214.8L59.6,-212.1L68.6,-208.5L75.8,-204.9L76.7,-195.0L83.0,-188.7L93.8,-185.1L99.2,-179.7L101.0,-170.7L108.2,-159.9L113.6,-152.7L117.2,-147.3" fill="none" stroke="#FF7D4A" stroke-width="15.5" stroke-linejoin="round" stroke-linecap="round"/><path d="M117.2,-150.2L122.6,-143.0L128.0,-146.6L135.2,-143.0L140.6,-139.4L147.8,-132.2L151.4,-134.0" fill="none" stroke="#FF7D4A" stroke-width="15.5" stroke-linejoin="round" stroke-linecap="round"/><path d="M148.5,-135.8L157.5,-136.7L159.3,-131.3L156.6,-123.2L152.1,-120.5L148.5,-121.4" fill="none" stroke="#FF7D4A" stroke-width="15.5" stroke-linejoin="round" stroke-linecap="round"/><path d="M151.4,-121.4L144.2,-116.0L143.3,-107.0L146.0,-98.0L151.4,-94.4" fill="none" stroke="#FF7D4A" stroke-width="15.5" stroke-linejoin="round" stroke-linecap="round"/><path d="M148.5,-98.0L154.8,-100.2L160.2,-94.4L161.1,-87.2L158.4,-80.0L160.2,-72.8L164.7,-69.2L162.9,-62.9L167.4,-60.2L173.7,-54.8L176.4,-50.3L170.1,-51.2L162.9,-55.7L157.5,-59.3L149.4,-62.0" fill="none" stroke="#FF7D4A" stroke-width="15.5" stroke-linejoin="round" stroke-linecap="round"/><path d="M151.4,-64.7L142.4,-60.2L137.9,-54.8L137.0,-45.8L140.6,-42.2L133.4,-38.6L131.6,-33.2L138.8,-31.4L144.2,-27.8L151.4,-24.2" fill="none" stroke="#FF7D4A" stroke-width="15.5" stroke-linejoin="round" stroke-linecap="round"/><path d="M149.4,-22.4L153.0,-11.6L157.5,-2.6L161.1,4.5L168.3,9.9L174.6,9.0L176.4,17.1L177.3,28.8L183.6,29.7L190.8,28.8L193.5,24.3L197.4,25.2L196.2,29.7L190.8,33.3L189.0,38.7L185.4,41.4L191.7,42.3L197.1,41.4L202.5,40.5L200.7,45.9L195.3,51.3L187.2,50.4L177.3,48.6" fill="none" stroke="#FF7D4A" stroke-width="15.5" stroke-linejoin="round" stroke-linecap="round"/><path d="M178.7,49.0L187.8,54.5L194.1,57.2L204.1,57.2L213.2,60.8L221.3,61.7L223.1,57.2L225.9,61.7L236.8,63.5L242.2,70.8L245.8,77.1L248.5,82.6L243.1,85.3L240.4,77.1L234.9,69.0L224.1,66.3L218.6,68.1L209.5,65.3L200.5,62.6L191.4,63.5L181.4,57.2L171.5,58.1L175.1,62.6L181.4,67.2L187.8,73.5L190.5,79.9L198.7,83.5L205.9,86.2L213.2,83.5L222.2,86.2L218.6,89.8L211.4,92.6L203.2,98.9L196.8,103.4L188.7,108.0L183.2,109.8L187.8,113.4L195.0,111.6L203.2,111.6L204.1,117.9" fill="none" stroke="#FF7D4A" stroke-width="5.5" stroke-linejoin="round" stroke-linecap="round"/><path d="M-52.7,-220.6L-60.8,-215.2L-62.6,-206.3L-68.0,-198.2L-75.2,-190.1L-78.8,-182.9L-85.9,-184.7L-93.1,-182.0L-98.5,-183.8L-111.1,-178.4L-120.1,-175.7L-129.0,-171.2L-139.8,-168.6L-148.8,-165.0" fill="none" stroke="#FF7D4A" stroke-width="7" stroke-linejoin="round" stroke-linecap="round"/><path d="M-157.7,-152.0L-158.7,-142.4L-160.6,-135.7L-164.4,-136.7L-162.5,-130.9L-161.6,-127.6L-167.3,-128.1L-172.1,-129.5L-176.9,-128.1L-175.0,-123.3L-179.8,-124.2L-183.1,-121.8L-180.7,-117.5L-181.7,-113.2L-187.4,-111.8L-194.1,-107.9L-199.9,-103.2L-203.7,-98.4L-207.5,-95.5L-210.4,-98.4" fill="none" stroke="#FF7D4A" stroke-width="7" stroke-linejoin="round" stroke-linecap="round"/><path d="M-212.6,-99.4L-215.5,-102.7L-218.8,-98.4L-221.7,-93.6L-220.8,-87.8L-223.2,-82.4L-230.0,-76.1L-226.1,-73.2L-221.3,-75.2L-218.4,-69.4L-216.9,-62.1L-222.2,-59.7L-228.0,-54.9L-233.8,-50.0L-237.7,-44.2L-238.7,-38.4L-234.8,-36.0L-230.0,-35.0L-227.1,-32.1L-223.2,-37.5L-218.4,-32.6L-214.5,-29.2L-219.3,-25.8L-225.1,-23.4L-230.9,-27.3L-236.7,-28.3L-241.1,-25.4L-236.3,-22.5L-234.8,-19.1L-230.0,-17.1L-226.1,-19.1L-221.3,-15.7L-216.4,-19.1L-211.6,-23.9L-206.8,-24.9L-200.0,-22.0L-193.2,-18.1L-189.3,-14.2L-184.5,-16.2L-176.8,-16.7L-171.9,-16.2L-169.0,-12.3L-170.0,-6.5L-171.9,-1.7L-176.8,-3.6L-180.6,-6.5L-184.5,-8.4L-186.4,-12.3L-190.3,-12.3" fill="none" stroke="#FF7D4A" stroke-width="10.5" stroke-linejoin="round" stroke-linecap="round"/><path d="M150.4,-306.9L159.5,-304.2L166.8,-301.5L163.2,-296.9L170.5,-291.4L174.1,-286.9L178.7,-290.5L185.1,-284.1L190.5,-280.5L194.2,-281.4L199.6,-275.9L206.9,-270.5L214.2,-270.5L225.2,-273.2L234.3,-275.0L243.4,-275.9L254.3,-277.8L265.3,-279.0L273.5,-277.8L278.0,-276.8L279.9,-280.5L276.2,-286.9" fill="none" stroke="#FF7D4A" stroke-width="4.5" stroke-linejoin="round" stroke-linecap="round"/><path d="M153.4,-337.0L144.2,-333.4L140.6,-327.9L129.7,-324.2L118.7,-318.8L106.0,-311.5L95.0,-306.0L87.7,-296.9L83.2,-290.5L89.6,-289.6L93.2,-296.9L106.0,-302.4L111.4,-304.2L109.6,-293.3L115.1,-289.6L124.2,-288.7L135.1,-295.1L142.4,-300.5L149.7,-307.8L153.4,-307.8" fill="none" stroke="#FF7D4A" stroke-width="4.5" stroke-linejoin="round" stroke-linecap="round"/><path d="M-252.6,16.4L-259.9,15.5L-270.7,12.7L-279.8,8.2L-281.6,1.0L-287.1,-1.8L-294.3,-4.5L-297.9,-12.7L-303.4,-15.4L-312.5,-21.7L-323.3,-26.3L-334.2,-28.1L-341.5,-25.3L-343.3,-19.9L-354.2,-16.3L-363.2,-14.5L-360.5,-6.3L-363.2,2.8L-368.7,10.9L-374.1,17.3L-377.8,26.3L-381.4,33.6L-380.5,42.7L-382.3,50.8L-390.5,52.6L-397.7,55.4L-406.8,56.3L-414.0,64.4L-421.3,70.8L-426.7,78.0L-421.3,77.1L-415.8,81.7L-410.4,85.3L-405.0,80.8L-395.9,78.0L-388.6,74.4L-384.1,71.7L-377.8,77.1L-370.5,84.4L-363.2,87.1L-354.2,84.4L-345.1,79.0L-339.7,73.5L-335.1,68.1L-330.6,67.2" fill="none" stroke="#FF7D4A" stroke-width="5.5" stroke-linejoin="round" stroke-linecap="round"/><path d="M-290.7,20.9L-285.2,14.6L-279.8,20.0L-274.4,19.1L-267.1,18.2L-259.9,17.3L-253.5,14.6L-251.7,20.9L-256.2,23.6L-261.7,24.5L-267.1,30.0L-271.6,35.4L-276.2,41.8L-278.9,49.0L-284.3,45.4L-280.7,39.0L-278.9,31.8L-285.2,29.1L-288.9,25.4" fill="none" stroke="#FF7D4A" stroke-width="5.5" stroke-linejoin="round" stroke-linecap="round"/><path d="M-7.0,-202.9L-1.6,-206.5L6.6,-207.4L5.7,-202.0L0.2,-199.3L-5.2,-199.6Z" fill="none" stroke="#FF7D4A" stroke-width="5.5" stroke-linejoin="round" stroke-linecap="round"/><path d="M22.0,108.0L31.1,104.3L36.5,97.1L43.8,94.4L51.0,94.4L51.9,102.5L47.4,108.0L43.8,104.3L38.3,100.7L42.0,108.0L47.4,111.6L51.0,117.0L58.3,120.7L56.5,127.9L50.1,127.0L49.2,120.7L46.5,117.0L43.8,120.7L45.6,129.7L44.7,140.6L38.3,133.4L32.9,126.1L34.7,120.7L29.3,118.9L25.6,113.4Z" fill="none" stroke="#FF7D4A" stroke-width="5.5" stroke-linejoin="round" stroke-linecap="round"/><path d="M-55.1,-286.3L-49.6,-289.1L-39.7,-288.2L-38.8,-283.6L-45.1,-282.7L-52.4,-284.2Z" fill="none" stroke="#FF7D4A" stroke-width="5.5" stroke-linejoin="round" stroke-linecap="round"/><path d="M80.1,-141.4L84.6,-143.3L87.3,-138.7L88.2,-132.4L84.6,-134.2Z" fill="none" stroke="#FF7D4A" stroke-width="10.5" stroke-linejoin="round" stroke-linecap="round"/><path d="M92.7,-129.6L100.0,-131.5L107.3,-130.6L112.7,-126.0L111.8,-118.8L105.4,-111.5L101.8,-116.9L96.4,-117.9L93.7,-123.3Z" fill="none" stroke="#FF7D4A" stroke-width="10.5" stroke-linejoin="round" stroke-linecap="round"/><path d="M108.2,-142.3L111.8,-144.2L113.6,-139.6L110.0,-136.9Z" fill="none" stroke="#FF7D4A" stroke-width="10.5" stroke-linejoin="round" stroke-linecap="round"/><path d="M109.1,-134.2L113.6,-134.2L112.7,-130.6Z" fill="none" stroke="#FF7D4A" stroke-width="10.5" stroke-linejoin="round" stroke-linecap="round"/><path d="M96.4,-9.0L105.4,-15.4L112.7,-22.6L118.1,-29.9L123.6,-31.7L129.0,-24.4L123.6,-20.8L120.0,-11.7L114.5,-4.5L109.1,-1.8L103.6,-5.4Z" fill="none" stroke="#FF7D4A" stroke-width="10.5" stroke-linejoin="round" stroke-linecap="round"/><path d="M77.3,47.2L81.0,45.4L82.8,49.9L79.1,51.7Z" fill="none" stroke="#FF7D4A" stroke-width="5.5" stroke-linejoin="round" stroke-linecap="round"/><path d="M85.5,40.9L90.0,40.0L90.9,45.4L87.3,48.1Z" fill="none" stroke="#FF7D4A" stroke-width="5.5" stroke-linejoin="round" stroke-linecap="round"/><path d="M86.4,51.7L91.8,49.0L93.7,55.4L89.1,62.6L85.5,59.0Z" fill="none" stroke="#FF7D4A" stroke-width="5.5" stroke-linejoin="round" stroke-linecap="round"/><path d="M73.7,66.3L79.1,63.5L83.7,68.1L81.9,72.6L74.6,72.6Z" fill="none" stroke="#FF7D4A" stroke-width="5.5" stroke-linejoin="round" stroke-linecap="round"/><path d="M152.6,117.9L145.4,104.3L138.1,93.5L134.5,80.8L132.7,68.1L131.7,53.6L137.2,50.8L141.7,55.4L140.8,68.1L142.6,80.8L146.3,93.5L152.6,104.3" fill="none" stroke="#FF7D4A" stroke-width="5.5" stroke-linejoin="round" stroke-linecap="round"/><path d="M149.7,86.2L156.9,97.1L162.4,104.3L169.6,109.8L178.7,111.6L175.1,117.9L168.7,122.5L160.6,123.4L149.7,118.5" fill="none" stroke="#FF7D4A" stroke-width="5.5" stroke-linejoin="round" stroke-linecap="round"/><path d="M-145.4,7.1L-143.5,2.2L-139.6,1.3L-135.8,6.1L-131.9,5.1L-128.0,10.0L-125.1,7.1L-123.2,4.2L-125.6,0.3L-126.1,-3.6L-125.1,-6.5L-119.3,-7.4L-111.6,-7.0L-105.8,-9.4L-99.0,-8.4L-91.3,-5.5L-86.4,-0.7L-81.6,3.7L-76.8,9.0L-71.9,14.3L-69.0,19.6L-67.1,26.4L-67.6,34.2L-69.5,40.0L-76.8,42.9L-80.6,45.8L-82.6,43.3L-86.4,40.9L-92.2,39.0L-98.0,37.1L-102.9,34.2L-106.8,31.7L-113.5,30.8L-121.3,31.3L-124.2,27.4L-128.0,28.8L-131.9,26.4L-136.7,30.3L-141.6,27.4L-144.5,23.5L-142.5,19.6L-144.5,13.8Z" fill="none" stroke="#FF7D4A" stroke-width="10.5" stroke-linejoin="round" stroke-linecap="round"/><path d="M-161.9,-5.5L-157.1,-6.5L-152.2,-5.5L-147.4,-7.4L-144.5,-10.3L-141.6,-14.2L-137.7,-15.2L-140.1,-11.3L-143.0,-6.5L-144.5,-1.6L-148.3,0.3L-151.3,1.3L-152.7,5.1L-151.7,10.9L-150.8,16.7L-151.3,22.5L-152.7,26.4L-156.1,29.3L-160.9,28.4L-162.9,23.5L-160.9,19.6L-163.8,16.7L-165.3,10.9L-165.8,5.1L-164.3,-0.7Z" fill="none" stroke="#FF7D4A" stroke-width="10.5" stroke-linejoin="round" stroke-linecap="round"/><path d="M-153.2,-67.4L-150.3,-68.4L-147.4,-65.5L-143.5,-67.4L-138.7,-72.3L-134.8,-75.2L-130.9,-77.1L-127.1,-81.9L-120.3,-83.4L-118.4,-78.1L-116.4,-70.3L-116.4,-62.6L-119.3,-59.7L-122.2,-63.5L-126.1,-64.5L-130.0,-63.5L-132.9,-59.7L-138.7,-57.7L-144.5,-55.8L-145.4,-51.9L-139.6,-51.0L-134.8,-49.0L-132.9,-46.1L-136.7,-45.2L-140.6,-43.2L-144.5,-41.3L-148.3,-43.2L-152.2,-46.1L-154.2,-51.0L-152.2,-55.8L-151.3,-60.6L-154.2,-63.5Z" fill="none" stroke="#FF7D4A" stroke-width="10.5" stroke-linejoin="round" stroke-linecap="round"/><path d="M-170.0,-111.9L-163.2,-111.0L-155.5,-111.9L-151.6,-106.1L-146.8,-101.3L-139.0,-96.5L-141.0,-87.8L-146.8,-82.9L-149.7,-79.0L-158.4,-76.6L-160.3,-77.1L-162.3,-89.7L-167.1,-94.5L-171.0,-103.2Z" fill="none" stroke="#FF7D4A" stroke-width="10.5" stroke-linejoin="round" stroke-linecap="round"/><path d="M-213.5,-91.6L-205.8,-92.1L-202.9,-91.6L-199.0,-97.4L-196.1,-98.9L-191.3,-96.9L-192.7,-89.7L-194.2,-81.0L-190.3,-83.9L-186.4,-90.7L-181.6,-96.0L-176.8,-93.6L-172.9,-96.5L-169.0,-93.6L-165.2,-90.7L-163.2,-83.9L-162.3,-76.1L-167.1,-73.2L-170.0,-73.2L-169.0,-68.4L-171.9,-64.5L-172.9,-60.7L-176.8,-57.8L-172.9,-54.9L-169.0,-52.0L-166.1,-49.1L-168.1,-45.2L-171.0,-44.2L-175.8,-48.1L-180.6,-50.0L-186.4,-50.0L-191.3,-51.0L-196.1,-52.0L-200.9,-49.1L-204.8,-45.2L-207.7,-39.4L-211.6,-40.4L-213.5,-45.2L-217.4,-46.2L-219.3,-50.0L-220.8,-54.9L-217.4,-58.7L-211.6,-61.6L-214.0,-66.5L-215.5,-74.2L-214.5,-83.9Z" fill="none" stroke="#FF7D4A" stroke-width="10.5" stroke-linejoin="round" stroke-linecap="round"/><path d="M-198.0,-30.7L-192.2,-33.6L-186.4,-35.5L-184.5,-39.4L-177.7,-40.4L-176.8,-34.6L-171.0,-35.5L-168.1,-30.7L-169.0,-24.9L-168.1,-22.0L-172.9,-22.9L-176.8,-24.9L-182.6,-21.0L-188.4,-21.0L-193.2,-22.9L-195.1,-27.8Z" fill="none" stroke="#FF7D4A" stroke-width="10.5" stroke-linejoin="round" stroke-linecap="round"/><path d="M-157.1,-28.7L-153.2,-31.6L-144.5,-32.6L-139.6,-29.7L-137.7,-24.9L-141.6,-21.0L-148.3,-20.0L-154.2,-21.0L-157.5,-23.9Z" fill="none" stroke="#FF7D4A" stroke-width="10.5" stroke-linejoin="round" stroke-linecap="round"/><path d="M-124.2,-25.8L-121.3,-29.7L-115.5,-31.6L-109.7,-33.1L-106.8,-29.7L-110.6,-24.9L-113.5,-21.0L-119.3,-20.0L-123.2,-22.0Z" fill="none" stroke="#FF7D4A" stroke-width="10.5" stroke-linejoin="round" stroke-linecap="round"/><path d="M-123.2,-52.9L-118.4,-55.8L-113.5,-54.8L-111.1,-49.0L-112.1,-43.2L-115.5,-39.4L-120.3,-42.3L-124.2,-47.1Z" fill="none" stroke="#FF7D4A" stroke-width="10.5" stroke-linejoin="round" stroke-linecap="round"/><path d="M-133.8,-7.4L-131.9,-13.2L-128.0,-16.1L-124.2,-18.1L-119.3,-19.0L-116.4,-17.1L-121.3,-14.2L-125.1,-13.2L-128.0,-10.3L-130.0,-5.5Z" fill="none" stroke="#FF7D4A" stroke-width="10.5" stroke-linejoin="round" stroke-linecap="round"/><path d="M-279.5,121.7L-274.6,119.3L-271.7,112.5L-268.8,106.7L-265.0,103.8L-266.9,110.6L-267.9,117.4L-266.9,123.2L-265.0,128.0L-260.1,126.1L-258.2,122.2L-254.3,119.3L-249.5,115.4L-246.6,109.6L-243.7,103.8L-239.8,100.9L-235.0,100.9L-235.9,104.8L-237.9,111.6L-241.7,116.4L-242.7,121.3L-239.8,120.3L-235.9,121.3L-232.1,124.2L-226.3,123.2L-220.5,122.2L-218.5,116.4L-217.6,110.6L-215.6,104.8L-214.7,99.0L-217.6,95.1L-216.6,91.3L-214.7,87.4L-210.8,85.5L-208.9,87.4L-205.0,89.3L-204.0,84.5L-201.1,83.5L-196.3,80.6L-194.3,74.8L-191.4,68.0L-188.5,60.3L-187.6,54.5L-182.7,53.5L-178.9,51.6L-181.8,47.7L-180.8,43.9L-176.9,43.9L-172.1,41.0L-169.2,36.1L-169.2,29.4L-172.1,22.6L-171.1,17.7L-172.1,11.0L-176.9,5.2L-183.7,1.3L-191.4,-0.1L-198.2,0.3L-203.0,4.2L-208.9,9.0L-212.7,13.9L-214.7,19.7L-213.7,24.5L-212.7,30.3L-214.7,35.2L-215.6,40.0L-212.7,41.0L-207.9,44.3L-208.9,45.8L-212.7,50.6L-216.6,55.5L-222.4,55.5L-218.5,59.3L-221.4,64.2L-224.3,69.0L-228.2,72.9L-234.0,75.8L-241.7,71.9L-248.5,70.0L-252.4,74.8L-256.3,71.0L-258.2,65.1L-259.2,58.4L-262.1,58.4L-265.0,55.5L-269.8,56.4L-272.7,60.3L-270.8,65.1L-267.9,69.0L-266.9,74.8L-267.9,81.6L-269.8,88.4L-274.6,89.3L-279.5,91.3" fill="none" stroke="#FF7D4A" stroke-width="10.5" stroke-linejoin="round" stroke-linecap="round"/><path d="M-279.5,8.6L-272.7,12.9L-266.9,15.8L-259.2,17.7L-253.3,15.3L-251.4,19.7L-256.3,22.6L-255.3,27.4L-250.4,31.3L-245.6,37.1L-238.8,37.1L-235.9,31.3L-231.1,31.3L-227.2,34.2L-222.4,33.2L-220.5,28.4L-216.6,26.5L-215.6,18.7L-220.5,17.7L-226.3,17.7L-233.0,18.7L-236.9,15.8L-241.7,14.8L-244.6,12.9L-239.8,9.0L-234.0,8.1L-228.2,8.1L-223.4,4.2L-227.2,2.3L-230.1,-0.6L-226.3,-2.6" fill="none" stroke="#FF7D4A" stroke-width="10.5" stroke-linejoin="round" stroke-linecap="round"/><path d="M-279.5,17.3L-270.8,16.8L-264.0,18.7L-259.2,20.6L-262.1,23.6L-266.9,29.4L-270.8,37.1L-274.6,41.9L-279.5,44.8" fill="none" stroke="#FF7D4A" stroke-width="10.5" stroke-linejoin="round" stroke-linecap="round"/><path d="M-137.7,69.0L-136.7,59.3L-134.8,52.5L-130.9,46.7L-125.1,49.6L-122.2,43.8L-119.3,38.0L-114.5,38.0L-110.6,41.9L-105.8,46.7L-100.0,47.7L-95.1,45.8L-96.1,40.9L-90.3,39.0L-86.4,40.9L-80.6,43.8L-72.9,42.9L-67.1,45.8L-63.2,53.5L-58.4,55.4L-54.5,53.5L-47.7,52.5L-40.0,54.5L-34.2,58.3L-29.4,63.2L-27.4,69.0" fill="none" stroke="#FF7D4A" stroke-width="10.5" stroke-linejoin="round" stroke-linecap="round"/><path d="M-157.4,-26.8L-151.6,-30.7L-144.8,-32.6L-140.0,-30.7L-138.1,-26.8L-141.0,-22.9L-147.7,-22.0L-154.5,-22.9" fill="none" stroke="#FF7D4A" stroke-width="10.5" stroke-linejoin="round" stroke-linecap="round"/><path d="M-163.2,-11.3L-158.4,-18.1L-152.6,-15.2L-154.5,-11.3" fill="none" stroke="#FF7D4A" stroke-width="10.5" stroke-linejoin="round" stroke-linecap="round"/><path d="M-240.6,9.0L-232.9,3.2L-225.1,5.1L-228.0,1.2L-223.2,-2.6L-217.4,-7.5L-212.6,-4.6L-205.8,-6.5L-200.0,-11.3L-193.2,-14.2" fill="none" stroke="#FF7D4A" stroke-width="10.5" stroke-linejoin="round" stroke-linecap="round"/><path d="M-219.3,9.0L-211.6,3.2L-205.8,1.2L-198.0,-0.7L-190.3,-0.7L-182.6,1.2L-176.8,5.1L-171.9,9.0" fill="none" stroke="#FF7D4A" stroke-width="10.5" stroke-linejoin="round" stroke-linecap="round"/><path d="M-165.2,9.0L-164.2,-0.7L-159.4,-4.6L-152.6,-6.5L-144.8,-7.5L-142.9,-12.3L-138.1,-15.2" fill="none" stroke="#FF7D4A" stroke-width="10.5" stroke-linejoin="round" stroke-linecap="round"/><path d="M-123.2,4.2L-119.3,6.1L-115.5,9.0L-111.6,8.0L-108.7,5.1L-105.8,6.1L-101.9,5.1L-100.9,1.3L-98.0,-1.6L-92.2,-2.6L-91.3,-5.5" fill="none" stroke="#FF7D4A" stroke-width="10.5" stroke-linejoin="round" stroke-linecap="round"/><path d="M-101.9,9.0L-93.2,21.6L-98.0,-1.6" fill="none" stroke="#FF7D4A" stroke-width="10.5" stroke-linejoin="round" stroke-linecap="round"/><path d="M-119.3,38.0L-114.5,38.0L-110.6,41.9L-105.8,46.7L-100.0,47.7L-95.1,45.8L-96.1,40.9L-90.3,39.0L-86.4,40.9L-80.6,43.8L-72.9,42.9L-67.1,45.8L-63.2,53.5L-58.4,55.4L-54.5,53.5L-47.7,52.5L-40.0,54.5L-34.2,58.3L-29.4,63.2L-27.4,69.0L-30.6,64.4L-27.0,71.7L-25.2,77.1L-32.4,75.3L-39.7,74.4L-32.4,79.9L-28.8,83.5L-37.9,88.0L-30.6,86.2L-23.3,85.3L-17.9,88.0L-16.1,92.6L-21.5,98.9L-27.0,104.3L-32.4,113.4L-37.9,122.5L-41.5,129.7L-45.1,135.2L-50.5,137.0L-52.4,140.6L-48.7,146.1L-49.6,151.5L-45.1,148.6L-46.9,155.8L-52.4,161.3L-57.8,166.7L-63.2,170.4L-68.7,174.0L-74.1,172.2L-76.9,176.7L-72.3,181.2L-75.9,186.7L-79.6,192.1L-85.0,188.5L-90.5,190.3L-85.0,195.7L-81.4,199.4L-86.8,202.1" fill="none" stroke="#FF7D4A" stroke-width="10.5" stroke-linejoin="round" stroke-linecap="round"/><path d="M-172.1,124.2L-165.3,123.2L-162.4,131.9L-160.5,125.1L-156.6,118.4L-159.5,119.3L-163.4,115.4L-162.4,111.6L-158.5,109.6L-153.7,104.8L-147.9,100.9L-143.1,96.1L-137.3,91.3L-133.4,87.4L-129.5,82.6L-129.0,75.8L-130.5,70.0L-134.4,64.2L-137.3,58.4L-136.3,52.6L-131.5,50.6L-129.5,45.8L-125.7,46.8L-121.8,41.9L-117.9,36.6L-119.3,38.0" fill="none" stroke="#FF7D4A" stroke-width="10.5" stroke-linejoin="round" stroke-linecap="round"/><path d="M-189.7,-117.5C-186.1,-119.5 -178.9,-124.1 -173.4,-124.7C-168.0,-125.3 -162.5,-123.5 -157.1,-121.1C-151.7,-118.7 -145.9,-114.2 -140.8,-110.2C-135.6,-106.3 -130.2,-101.5 -126.3,-97.5C-122.3,-93.6 -119.6,-90.9 -117.2,-86.7C-114.8,-82.4 -113.3,-76.7 -111.7,-72.1C-110.2,-67.6 -109.3,-64.0 -108.1,-59.4C-106.9,-54.9 -105.7,-49.2 -104.5,-44.9C-103.3,-40.7 -102.1,-38.0 -100.9,-34.0C-99.7,-30.1 -99.1,-24.7 -97.2,-21.4C-95.4,-18.0 -93.0,-16.5 -90.0,-14.1C-87.0,-11.7 -82.7,-9.6 -79.1,-6.8C-75.5,-4.1 -71.2,-0.8 -68.2,2.2C-65.2,5.3 -63.2,8.0 -61.0,11.3C-58.7,14.6 -54.3,18.6 -54.6,22.2C-54.9,25.8 -60.2,30.0 -62.8,33.1C-65.3,36.1 -66.7,38.4 -70.0,40.3C-73.4,42.3 -78.8,44.7 -82.7,44.9C-86.7,45.0 -90.0,42.7 -93.6,41.2C-97.2,39.7 -100.9,37.0 -104.5,35.8C-108.1,34.6 -111.7,34.0 -115.4,34.0C-119.0,34.0 -122.6,35.8 -126.3,35.8C-129.9,35.8 -133.5,34.9 -137.1,34.0C-140.8,33.1 -144.7,30.3 -148.0,30.3C-151.4,30.3 -154.4,32.2 -157.1,34.0C-159.8,35.8 -161.9,38.2 -164.4,41.2C-166.8,44.3 -169.2,49.1 -171.6,52.1C-174.0,55.1 -176.1,56.3 -178.9,59.4C-181.6,62.4 -185.2,66.6 -187.9,70.2C-190.7,73.9 -192.5,78.1 -195.2,81.1C-197.9,84.2 -201.5,85.7 -204.3,88.4C-207.0,91.1 -209.7,93.8 -211.5,97.5C-213.3,101.1 -213.9,105.6 -215.1,110.2C-216.4,114.7 -216.4,121.6 -218.8,124.7C-221.2,127.7 -226.3,128.3 -229.7,128.3C-233.0,128.3 -235.7,124.7 -238.7,124.7C-241.7,124.7 -244.2,127.1 -247.8,128.3C-251.4,129.5 -256.9,131.6 -260.5,131.9C-264.1,132.2 -266.8,131.5 -269.6,130.1C-272.3,128.7 -273.8,126.9 -276.8,123.8C-279.8,120.6 -284.7,115.9 -287.7,111.1C-290.7,106.2 -295.0,100.5 -295.0,94.7C-295.0,89.0 -290.1,82.6 -287.7,76.6C-285.3,70.6 -280.4,64.5 -280.4,58.5C-280.4,52.4 -287.1,46.4 -287.7,40.3C-288.3,34.3 -285.9,29.4 -284.1,22.2C-282.3,14.9 -280.1,-0.0 -276.8,-3.2C-273.5,-6.4 -268.3,0.9 -264.1,3.1C-259.9,5.4 -254.7,9.6 -251.4,10.4C-248.1,11.1 -246.7,9.5 -244.2,7.7C-241.6,5.9 -236.5,2.2 -236.0,-0.5C-235.5,-3.2 -239.9,-5.5 -241.4,-8.7C-243.0,-11.8 -244.8,-15.9 -245.1,-19.5C-245.4,-23.2 -243.9,-26.8 -243.3,-30.4C-242.7,-34.0 -242.7,-37.7 -241.4,-41.3C-240.2,-44.9 -238.4,-48.6 -236.0,-52.2C-233.6,-55.8 -229.0,-59.1 -226.9,-63.1C-224.8,-67.0 -222.7,-73.0 -223.3,-75.8C-223.9,-78.5 -230.3,-76.8 -230.6,-79.4C-230.9,-82.0 -226.9,-87.0 -225.1,-91.2C-223.3,-95.4 -223.2,-102.1 -219.7,-104.8C-216.2,-107.5 -208.3,-106.2 -204.3,-107.5C-200.2,-108.9 -197.6,-111.3 -195.2,-113.0C-192.8,-114.6 -193.4,-115.5 -189.7,-117.5Z" fill="#FF501A"/><path d="M-184.3,-108.4C-180.7,-110.5 -177.7,-115.1 -173.4,-115.7C-169.2,-116.3 -163.4,-114.2 -158.9,-112.0C-154.4,-109.9 -150.4,-106.6 -146.2,-103.0C-142.0,-99.3 -137.1,-94.5 -133.5,-90.3C-129.9,-86.0 -126.9,-82.1 -124.4,-77.6C-122.0,-73.0 -120.5,-67.9 -119.0,-63.1C-117.5,-58.2 -116.6,-53.4 -115.4,-48.6C-114.2,-43.7 -113.3,-38.6 -111.7,-34.0C-110.2,-29.5 -108.4,-25.0 -106.3,-21.4C-104.2,-17.7 -102.1,-15.0 -99.1,-12.3C-96.0,-9.6 -91.5,-7.4 -88.2,-5.0C-84.8,-2.6 -81.8,-0.5 -79.1,2.2C-76.4,4.9 -73.4,8.3 -71.8,11.3C-70.3,14.3 -69.4,17.6 -70.0,20.4C-70.6,23.1 -72.8,25.8 -75.5,27.6C-78.2,29.4 -82.7,30.9 -86.4,31.3C-90.0,31.6 -93.0,30.3 -97.2,29.4C-101.5,28.5 -106.9,26.1 -111.7,25.8C-116.6,25.5 -121.4,27.9 -126.3,27.6C-131.1,27.3 -135.9,24.6 -140.8,24.0C-145.6,23.4 -151.1,22.8 -155.3,24.0C-159.5,25.2 -163.1,28.2 -166.2,31.3C-169.2,34.3 -170.4,38.5 -173.4,42.1C-176.4,45.8 -180.7,49.4 -184.3,53.0C-187.9,56.6 -192.2,60.3 -195.2,63.9C-198.2,67.5 -199.7,71.5 -202.4,74.8C-205.2,78.1 -208.5,80.5 -211.5,83.9C-214.5,87.2 -218.5,90.5 -220.6,94.7C-222.7,99.0 -222.4,105.3 -224.2,109.2C-226.0,113.2 -228.4,116.8 -231.5,118.3C-234.5,119.8 -238.1,117.7 -242.3,118.3C-246.6,118.9 -252.6,121.6 -256.9,121.9C-261.1,122.2 -264.7,121.6 -267.7,120.1C-270.8,118.6 -272.9,117.1 -275.0,112.9C-277.1,108.6 -280.4,100.8 -280.4,94.7C-280.4,88.7 -276.5,82.6 -275.0,76.6C-273.5,70.6 -271.1,64.5 -271.4,58.5C-271.7,52.4 -276.5,46.4 -276.8,40.3C-277.1,34.3 -274.4,27.3 -273.2,22.2C-272.0,17.0 -272.3,10.4 -269.6,9.5C-266.8,8.6 -261.1,15.8 -256.9,16.7C-252.6,17.6 -248.4,16.7 -244.2,14.9C-239.9,13.1 -233.6,9.2 -231.5,5.9C-229.4,2.5 -230.9,-1.4 -231.5,-5.0C-232.1,-8.7 -234.8,-11.7 -235.1,-15.9C-235.4,-20.1 -234.2,-25.6 -233.3,-30.4C-232.4,-35.3 -231.8,-40.7 -229.7,-44.9C-227.5,-49.2 -223.0,-51.3 -220.6,-55.8C-218.2,-60.4 -215.7,-67.0 -215.1,-72.1C-214.5,-77.3 -217.9,-82.4 -217.0,-86.7C-216.0,-90.9 -213.3,-94.8 -209.7,-97.5C-206.1,-100.3 -199.4,-101.2 -195.2,-103.0C-191.0,-104.8 -187.9,-106.3 -184.3,-108.4Z" fill="#E03200"/><path d="M-173.4,-30.4C-171.6,-33.4 -163.7,-34.0 -158.9,-34.0C-154.1,-34.0 -149.2,-32.2 -144.4,-30.4C-139.6,-28.6 -134.1,-25.9 -129.9,-23.2C-125.7,-20.4 -121.4,-17.7 -119.0,-14.1C-116.6,-10.5 -114.8,-5.3 -115.4,-1.4C-116.0,2.5 -119.0,7.1 -122.6,9.5C-126.3,11.9 -132.3,13.1 -137.1,13.1C-142.0,13.1 -147.4,11.9 -151.7,9.5C-155.9,7.1 -159.5,2.8 -162.5,-1.4C-165.6,-5.6 -168.0,-11.1 -169.8,-15.9C-171.6,-20.7 -175.2,-27.4 -173.4,-30.4Z" fill="#B82300"/><path d="M-170.0,-111.9L-163.2,-111.0L-155.5,-111.9L-151.6,-106.1L-146.8,-101.3L-139.0,-96.5L-141.0,-87.8L-146.8,-82.9L-149.7,-79.0L-158.4,-76.6L-160.3,-77.1L-162.3,-89.7L-167.1,-94.5L-171.0,-103.2Z" fill="#FFAB85"/><path d="M-165.7,-108.5C-164.2,-110.4 -159.6,-110.6 -157.0,-109.4C-154.4,-108.3 -152.1,-104.1 -150.2,-101.7C-148.3,-99.3 -145.9,-97.2 -145.4,-94.9C-144.9,-92.7 -146.0,-90.3 -147.3,-88.2C-148.6,-86.1 -151.2,-83.5 -153.1,-82.4C-155.0,-81.2 -157.5,-80.1 -158.9,-81.4C-160.4,-82.7 -160.7,-87.3 -161.8,-90.1C-162.9,-92.8 -165.0,-94.8 -165.7,-97.8C-166.3,-100.9 -167.1,-106.5 -165.7,-108.5Z" fill="#FFCDB5"/><path d="M-213.5,-91.6L-205.8,-92.1L-202.9,-91.6L-199.0,-97.4L-196.1,-98.9L-191.3,-96.9L-192.7,-89.7L-194.2,-81.0L-190.3,-83.9L-186.4,-90.7L-181.6,-96.0L-176.8,-93.6L-172.9,-96.5L-169.0,-93.6L-165.2,-90.7L-163.2,-83.9L-162.3,-76.1L-167.1,-73.2L-170.0,-73.2L-169.0,-68.4L-171.9,-64.5L-172.9,-60.7L-176.8,-57.8L-172.9,-54.9L-169.0,-52.0L-166.1,-49.1L-168.1,-45.2L-171.0,-44.2L-175.8,-48.1L-180.6,-50.0L-186.4,-50.0L-191.3,-51.0L-196.1,-52.0L-200.9,-49.1L-204.8,-45.2L-207.7,-39.4L-211.6,-40.4L-213.5,-45.2L-217.4,-46.2L-219.3,-50.0L-220.8,-54.9L-217.4,-58.7L-211.6,-61.6L-214.0,-66.5L-215.5,-74.2L-214.5,-83.9Z" fill="#FFAB85"/><path d="M-211.2,-89.1C-209.2,-90.7 -203.7,-89.1 -201.5,-90.1C-199.2,-91.1 -198.7,-94.4 -197.6,-94.9C-196.5,-95.4 -194.9,-94.8 -194.7,-93.0C-194.5,-91.2 -196.2,-86.9 -196.6,-84.3C-197.1,-81.7 -198.6,-78.2 -197.6,-77.5C-196.6,-76.9 -192.9,-78.5 -190.8,-80.4C-188.7,-82.4 -187.0,-87.3 -185.0,-89.1C-183.1,-90.9 -181.3,-90.9 -179.2,-91.1C-177.1,-91.2 -174.2,-91.2 -172.5,-90.1C-170.7,-89.0 -169.4,-86.4 -168.6,-84.3C-167.8,-82.2 -166.8,-79.6 -167.6,-77.5C-168.4,-75.4 -172.0,-73.8 -173.4,-71.7C-174.9,-69.6 -175.2,-67.0 -176.3,-64.9C-177.5,-62.8 -180.5,-61.2 -180.2,-59.1C-179.9,-57.0 -174.7,-53.5 -174.4,-52.4C-174.1,-51.2 -176.7,-52.0 -178.3,-52.4C-179.9,-52.7 -181.8,-54.0 -184.1,-54.3C-186.3,-54.6 -189.2,-54.1 -191.8,-54.3C-194.4,-54.5 -197.3,-55.7 -199.5,-55.3C-201.8,-54.8 -203.7,-53.0 -205.4,-51.4C-207.0,-49.8 -208.1,-46.4 -209.2,-45.6C-210.3,-44.8 -211.2,-45.6 -212.1,-46.6C-213.1,-47.5 -214.2,-49.8 -215.0,-51.4C-215.8,-53.0 -217.4,-54.8 -217.0,-56.2C-216.5,-57.7 -213.4,-58.7 -212.1,-60.1C-210.8,-61.6 -209.2,-63.2 -209.2,-64.9C-209.2,-66.7 -211.5,-68.2 -212.1,-70.7C-212.8,-73.3 -213.3,-77.4 -213.1,-80.4C-212.9,-83.5 -213.1,-87.5 -211.2,-89.1Z" fill="#FFCDB5"/><path d="M-207.3,-84.3C-205.8,-85.7 -201.0,-86.2 -199.5,-85.3C-198.1,-84.3 -198.6,-81.1 -198.6,-78.5C-198.6,-75.9 -198.7,-72.0 -199.5,-69.8C-200.4,-67.5 -202.1,-65.1 -203.4,-64.9C-204.7,-64.8 -206.5,-66.9 -207.3,-68.8C-208.1,-70.7 -208.3,-74.0 -208.3,-76.5C-208.3,-79.1 -208.7,-82.8 -207.3,-84.3Z" fill="#FFEBDB"/><path d="M-145.4,7.1L-143.5,2.2L-139.6,1.3L-135.8,6.1L-131.9,5.1L-128.0,10.0L-125.1,7.1L-123.2,4.2L-125.6,0.3L-126.1,-3.6L-125.1,-6.5L-119.3,-7.4L-111.6,-7.0L-105.8,-9.4L-99.0,-8.4L-91.3,-5.5L-86.4,-0.7L-81.6,3.7L-76.8,9.0L-71.9,14.3L-69.0,19.6L-67.1,26.4L-67.6,34.2L-69.5,40.0L-76.8,42.9L-80.6,45.8L-82.6,43.3L-86.4,40.9L-92.2,39.0L-98.0,37.1L-102.9,34.2L-106.8,31.7L-113.5,30.8L-121.3,31.3L-124.2,27.4L-128.0,28.8L-131.9,26.4L-136.7,30.3L-141.6,27.4L-144.5,23.5L-142.5,19.6L-144.5,13.8Z" fill="#FF7D4A"/><path d="M-120.8,-4.9C-118.2,-5.9 -113.1,-5.9 -109.2,-5.9C-105.4,-5.9 -101.2,-6.2 -97.6,-4.9C-94.1,-3.6 -90.8,-0.7 -87.9,1.8C-85.0,4.4 -82.5,7.5 -80.2,10.5C-77.9,13.6 -75.5,16.8 -74.4,20.2C-73.3,23.6 -72.8,28.0 -73.4,30.9C-74.1,33.8 -75.8,36.8 -78.3,37.6C-80.7,38.4 -84.7,36.5 -87.9,35.7C-91.2,34.9 -94.4,34.1 -97.6,32.8C-100.8,31.5 -104.1,28.9 -107.3,28.0C-110.5,27.0 -114.1,27.6 -117.0,27.0C-119.9,26.3 -122.4,24.7 -124.7,24.1C-127.0,23.4 -128.6,23.1 -130.5,23.1C-132.4,23.1 -134.5,24.2 -136.3,24.1C-138.1,23.9 -140.2,23.8 -141.1,22.1C-142.1,20.5 -141.9,17.0 -142.1,14.4C-142.3,11.8 -143.1,7.6 -142.1,6.7C-141.1,5.7 -138.4,7.6 -136.3,8.6C-134.2,9.6 -131.8,12.2 -129.5,12.5C-127.3,12.8 -124.9,10.7 -122.8,10.5C-120.7,10.4 -119.2,11.8 -117.0,11.5C-114.7,11.2 -111.2,8.8 -109.2,8.6C-107.3,8.4 -106.5,9.6 -105.4,10.5C-104.2,11.5 -103.7,12.8 -102.4,14.4C-101.2,16.0 -97.8,21.7 -97.6,20.2C-97.5,18.8 -99.9,7.8 -101.5,5.7C-103.1,3.6 -105.4,6.8 -107.3,7.6C-109.2,8.4 -111.3,10.1 -113.1,10.5C-114.9,11.0 -116.3,11.2 -117.9,10.5C-119.5,9.9 -121.6,8.4 -122.8,6.7C-123.9,4.9 -125.0,1.8 -124.7,-0.1C-124.4,-2.0 -123.4,-4.0 -120.8,-4.9Z" fill="#FFAB85"/><path d="M-161.9,-5.5L-157.1,-6.5L-152.2,-5.5L-147.4,-7.4L-144.5,-10.3L-141.6,-14.2L-137.7,-15.2L-140.1,-11.3L-143.0,-6.5L-144.5,-1.6L-148.3,0.3L-151.3,1.3L-152.7,5.1L-151.7,10.9L-150.8,16.7L-151.3,22.5L-152.7,26.4L-156.1,29.3L-160.9,28.4L-162.9,23.5L-160.9,19.6L-163.8,16.7L-165.3,10.9L-165.8,5.1L-164.3,-0.7Z" fill="#FF7D4A"/><path d="M-153.2,-67.4L-150.3,-68.4L-147.4,-65.5L-143.5,-67.4L-138.7,-72.3L-134.8,-75.2L-130.9,-77.1L-127.1,-81.9L-120.3,-83.4L-118.4,-78.1L-116.4,-70.3L-116.4,-62.6L-119.3,-59.7L-122.2,-63.5L-126.1,-64.5L-130.0,-63.5L-132.9,-59.7L-138.7,-57.7L-144.5,-55.8L-145.4,-51.9L-139.6,-51.0L-134.8,-49.0L-132.9,-46.1L-136.7,-45.2L-140.6,-43.2L-144.5,-41.3L-148.3,-43.2L-152.2,-46.1L-154.2,-51.0L-152.2,-55.8L-151.3,-60.6L-154.2,-63.5Z" fill="#FF7D4A"/><path d="M-198.0,-30.7L-192.2,-33.6L-186.4,-35.5L-184.5,-39.4L-177.7,-40.4L-176.8,-34.6L-171.0,-35.5L-168.1,-30.7L-169.0,-24.9L-168.1,-22.0L-172.9,-22.9L-176.8,-24.9L-182.6,-21.0L-188.4,-21.0L-193.2,-22.9L-195.1,-27.8Z" fill="#FF501A"/><path d="M-157.1,-28.7L-153.2,-31.6L-144.5,-32.6L-139.6,-29.7L-137.7,-24.9L-141.6,-21.0L-148.3,-20.0L-154.2,-21.0L-157.5,-23.9Z" fill="#FF501A"/><path d="M-124.2,-25.8L-121.3,-29.7L-115.5,-31.6L-109.7,-33.1L-106.8,-29.7L-110.6,-24.9L-113.5,-21.0L-119.3,-20.0L-123.2,-22.0Z" fill="#FF501A"/><path d="M-279.5,121.7L-274.6,119.3L-271.7,112.5L-268.8,106.7L-265.0,103.8L-266.9,110.6L-267.9,117.4L-266.9,123.2L-265.0,128.0L-260.1,126.1L-258.2,122.2L-254.3,119.3L-249.5,115.4L-246.6,109.6L-243.7,103.8L-239.8,100.9L-235.0,100.9L-235.9,104.8L-237.9,111.6L-241.7,116.4L-242.7,121.3L-239.8,120.3L-235.9,121.3L-232.1,124.2L-226.3,123.2L-220.5,122.2L-218.5,116.4L-217.6,110.6L-215.6,104.8L-214.7,99.0L-217.6,95.1L-216.6,91.3L-214.7,87.4L-210.8,85.5L-208.9,87.4L-205.0,89.3L-204.0,84.5L-201.1,83.5L-196.3,80.6L-194.3,74.8L-191.4,68.0L-188.5,60.3L-187.6,54.5L-182.7,53.5L-178.9,51.6L-181.8,47.7L-180.8,43.9L-176.9,43.9L-172.1,41.0L-169.2,36.1L-169.2,29.4L-172.1,22.6L-171.1,17.7L-172.1,11.0L-176.9,5.2L-183.7,1.3L-191.4,-0.1L-198.2,0.3L-203.0,4.2L-208.9,9.0L-212.7,13.9L-214.7,19.7L-213.7,24.5L-212.7,30.3L-214.7,35.2L-215.6,40.0L-212.7,41.0L-207.9,44.3L-208.9,45.8L-212.7,50.6L-216.6,55.5L-222.4,55.5L-218.5,59.3L-221.4,64.2L-224.3,69.0L-228.2,72.9L-234.0,75.8L-241.7,71.9L-248.5,70.0L-252.4,74.8L-256.3,71.0L-258.2,65.1L-259.2,58.4L-262.1,58.4L-265.0,55.5L-269.8,56.4L-272.7,60.3L-270.8,65.1L-267.9,69.0L-266.9,74.8L-267.9,81.6L-269.8,88.4L-274.6,89.3L-279.5,91.3Z" fill="#FF7D4A"/><path d="M-206.1,5.9C-203.0,3.4 -197.6,1.9 -193.4,2.2C-189.1,2.5 -183.4,4.6 -180.7,7.7C-178.0,10.7 -176.4,15.8 -177.0,20.4C-177.7,24.9 -181.0,30.6 -184.3,34.9C-187.6,39.1 -193.4,41.5 -197.0,45.8C-200.6,50.0 -203.0,55.7 -206.1,60.3C-209.1,64.8 -212.1,69.3 -215.1,73.0C-218.2,76.6 -221.2,81.1 -224.2,82.0C-227.2,82.9 -232.7,81.4 -233.3,78.4C-233.9,75.4 -230.0,68.7 -227.8,63.9C-225.7,59.1 -223.0,54.8 -220.6,49.4C-218.2,43.9 -214.8,36.7 -213.3,31.3C-211.8,25.8 -212.7,21.0 -211.5,16.7C-210.3,12.5 -209.1,8.3 -206.1,5.9Z" fill="#FFAB85"/><path d="M-43.6,-254.0L-37.3,-246.8L-30.2,-245.0L-23.0,-244.1L-17.6,-237.9L-8.7,-230.7L0.3,-224.4L9.2,-218.2L18.2,-214.6L28.9,-211.9L37.0,-210.1L37.9,-221.8L43.2,-223.5L44.1,-215.5L48.6,-213.7L59.3,-211.0L68.3,-207.4L75.4,-203.8L76.3,-194.0L82.6,-187.7L93.4,-184.2L98.7,-178.8L100.5,-169.8L107.7,-159.1L113.0,-151.9L116.6,-146.6" fill="none" stroke="#FF501A" stroke-width="12" stroke-linejoin="round" stroke-linecap="round"/><path d="M116.6,-149.4L122.0,-142.3L127.4,-145.9L134.5,-142.3L139.9,-138.7L147.1,-131.5L150.6,-133.3" fill="none" stroke="#FF501A" stroke-width="12" stroke-linejoin="round" stroke-linecap="round"/><path d="M147.8,-135.1L156.7,-136.0L158.5,-130.6L155.8,-122.6L151.3,-119.9L147.8,-120.8" fill="none" stroke="#FF501A" stroke-width="12" stroke-linejoin="round" stroke-linecap="round"/><path d="M150.6,-120.8L143.5,-115.4L142.6,-106.5L145.3,-97.5L150.6,-93.9" fill="none" stroke="#FF501A" stroke-width="12" stroke-linejoin="round" stroke-linecap="round"/><path d="M147.8,-97.5L154.0,-99.7L159.4,-93.9L160.3,-86.8L157.6,-79.6L159.4,-72.5L163.9,-68.9L162.1,-62.6L166.6,-59.9L172.8,-54.6L175.5,-50.1L169.2,-51.0L162.1,-55.4L156.7,-59.0L148.7,-61.7" fill="none" stroke="#FF501A" stroke-width="12" stroke-linejoin="round" stroke-linecap="round"/><path d="M150.6,-64.4L141.7,-59.9L137.2,-54.6L136.3,-45.6L139.9,-42.0L132.7,-38.4L130.9,-33.1L138.1,-31.3L143.5,-27.7L150.6,-24.1" fill="none" stroke="#FF501A" stroke-width="12" stroke-linejoin="round" stroke-linecap="round"/><path d="M148.7,-22.3L152.2,-11.6L156.7,-2.6L160.3,4.5L167.5,9.9L173.7,9.0L175.5,17.1L176.4,28.7L182.7,29.6L189.8,28.7L192.5,24.2L196.5,25.1L195.2,29.6L189.8,33.2L188.0,38.5L184.5,41.2L190.7,42.1L196.1,41.2L201.5,40.3L199.7,45.7L194.3,51.1L186.3,50.2L176.4,48.4" fill="none" stroke="#FF501A" stroke-width="12" stroke-linejoin="round" stroke-linecap="round"/><path d="M-52.9,-221.5L-61.1,-216.1L-62.9,-207.1L-68.3,-199.0L-75.5,-190.9L-79.1,-183.7L-86.3,-185.5L-93.5,-182.8L-98.9,-184.6L-111.5,-179.2L-120.6,-176.4L-129.6,-171.9L-140.4,-169.2L-149.4,-165.6" fill="none" stroke="#FF501A" stroke-width="4" stroke-linejoin="round" stroke-linecap="round"/><path d="M-158.4,-152.6L-159.3,-143.0L-161.3,-136.3L-165.1,-137.2L-163.2,-131.5L-162.2,-128.1L-168.0,-128.6L-172.8,-130.0L-177.6,-128.6L-175.7,-123.8L-180.5,-124.7L-183.9,-122.3L-181.5,-118.0L-182.4,-113.7L-188.2,-112.2L-194.9,-108.4L-200.7,-103.6L-204.5,-98.8L-208.4,-95.9L-211.3,-98.8" fill="none" stroke="#FF501A" stroke-width="4" stroke-linejoin="round" stroke-linecap="round"/><path d="M-212.6,-99.4L-215.5,-102.7L-218.8,-98.4L-221.7,-93.6L-220.8,-87.8L-223.2,-82.4L-230.0,-76.1L-226.1,-73.2L-221.3,-75.2L-218.4,-69.4L-216.9,-62.1L-222.2,-59.7L-228.0,-54.9L-233.8,-50.0L-237.7,-44.2L-238.7,-38.4L-234.8,-36.0L-230.0,-35.0L-227.1,-32.1L-223.2,-37.5L-218.4,-32.6L-214.5,-29.2L-219.3,-25.8L-225.1,-23.4L-230.9,-27.3L-236.7,-28.3L-241.1,-25.4L-236.3,-22.5L-234.8,-19.1L-230.0,-17.1L-226.1,-19.1L-221.3,-15.7L-216.4,-19.1L-211.6,-23.9L-206.8,-24.9L-200.0,-22.0L-193.2,-18.1L-189.3,-14.2L-184.5,-16.2L-176.8,-16.7L-171.9,-16.2L-169.0,-12.3L-170.0,-6.5L-171.9,-1.7L-176.8,-3.6L-180.6,-6.5L-184.5,-8.4L-186.4,-12.3L-190.3,-12.3" fill="none" stroke="#FF501A" stroke-width="7.5" stroke-linejoin="round" stroke-linecap="round"/><path d="M80.1,-141.4L84.6,-143.3L87.3,-138.7L88.2,-132.4L84.6,-134.2Z" fill="none" stroke="#FF501A" stroke-width="7.5" stroke-linejoin="round" stroke-linecap="round"/><path d="M92.7,-129.6L100.0,-131.5L107.3,-130.6L112.7,-126.0L111.8,-118.8L105.4,-111.5L101.8,-116.9L96.4,-117.9L93.7,-123.3Z" fill="none" stroke="#FF501A" stroke-width="7.5" stroke-linejoin="round" stroke-linecap="round"/><path d="M108.2,-142.3L111.8,-144.2L113.6,-139.6L110.0,-136.9Z" fill="none" stroke="#FF501A" stroke-width="7.5" stroke-linejoin="round" stroke-linecap="round"/><path d="M109.1,-134.2L113.6,-134.2L112.7,-130.6Z" fill="none" stroke="#FF501A" stroke-width="7.5" stroke-linejoin="round" stroke-linecap="round"/><path d="M96.4,-9.0L105.4,-15.4L112.7,-22.6L118.1,-29.9L123.6,-31.7L129.0,-24.4L123.6,-20.8L120.0,-11.7L114.5,-4.5L109.1,-1.8L103.6,-5.4Z" fill="none" stroke="#FF501A" stroke-width="7.5" stroke-linejoin="round" stroke-linecap="round"/><path d="M-145.4,7.1L-143.5,2.2L-139.6,1.3L-135.8,6.1L-131.9,5.1L-128.0,10.0L-125.1,7.1L-123.2,4.2L-125.6,0.3L-126.1,-3.6L-125.1,-6.5L-119.3,-7.4L-111.6,-7.0L-105.8,-9.4L-99.0,-8.4L-91.3,-5.5L-86.4,-0.7L-81.6,3.7L-76.8,9.0L-71.9,14.3L-69.0,19.6L-67.1,26.4L-67.6,34.2L-69.5,40.0L-76.8,42.9L-80.6,45.8L-82.6,43.3L-86.4,40.9L-92.2,39.0L-98.0,37.1L-102.9,34.2L-106.8,31.7L-113.5,30.8L-121.3,31.3L-124.2,27.4L-128.0,28.8L-131.9,26.4L-136.7,30.3L-141.6,27.4L-144.5,23.5L-142.5,19.6L-144.5,13.8Z" fill="none" stroke="#FF501A" stroke-width="7.5" stroke-linejoin="round" stroke-linecap="round"/><path d="M-161.9,-5.5L-157.1,-6.5L-152.2,-5.5L-147.4,-7.4L-144.5,-10.3L-141.6,-14.2L-137.7,-15.2L-140.1,-11.3L-143.0,-6.5L-144.5,-1.6L-148.3,0.3L-151.3,1.3L-152.7,5.1L-151.7,10.9L-150.8,16.7L-151.3,22.5L-152.7,26.4L-156.1,29.3L-160.9,28.4L-162.9,23.5L-160.9,19.6L-163.8,16.7L-165.3,10.9L-165.8,5.1L-164.3,-0.7Z" fill="none" stroke="#FF501A" stroke-width="7.5" stroke-linejoin="round" stroke-linecap="round"/><path d="M-153.2,-67.4L-150.3,-68.4L-147.4,-65.5L-143.5,-67.4L-138.7,-72.3L-134.8,-75.2L-130.9,-77.1L-127.1,-81.9L-120.3,-83.4L-118.4,-78.1L-116.4,-70.3L-116.4,-62.6L-119.3,-59.7L-122.2,-63.5L-126.1,-64.5L-130.0,-63.5L-132.9,-59.7L-138.7,-57.7L-144.5,-55.8L-145.4,-51.9L-139.6,-51.0L-134.8,-49.0L-132.9,-46.1L-136.7,-45.2L-140.6,-43.2L-144.5,-41.3L-148.3,-43.2L-152.2,-46.1L-154.2,-51.0L-152.2,-55.8L-151.3,-60.6L-154.2,-63.5Z" fill="none" stroke="#FF501A" stroke-width="7.5" stroke-linejoin="round" stroke-linecap="round"/><path d="M-170.0,-111.9L-163.2,-111.0L-155.5,-111.9L-151.6,-106.1L-146.8,-101.3L-139.0,-96.5L-141.0,-87.8L-146.8,-82.9L-149.7,-79.0L-158.4,-76.6L-160.3,-77.1L-162.3,-89.7L-167.1,-94.5L-171.0,-103.2Z" fill="none" stroke="#FF501A" stroke-width="7.5" stroke-linejoin="round" stroke-linecap="round"/><path d="M-213.5,-91.6L-205.8,-92.1L-202.9,-91.6L-199.0,-97.4L-196.1,-98.9L-191.3,-96.9L-192.7,-89.7L-194.2,-81.0L-190.3,-83.9L-186.4,-90.7L-181.6,-96.0L-176.8,-93.6L-172.9,-96.5L-169.0,-93.6L-165.2,-90.7L-163.2,-83.9L-162.3,-76.1L-167.1,-73.2L-170.0,-73.2L-169.0,-68.4L-171.9,-64.5L-172.9,-60.7L-176.8,-57.8L-172.9,-54.9L-169.0,-52.0L-166.1,-49.1L-168.1,-45.2L-171.0,-44.2L-175.8,-48.1L-180.6,-50.0L-186.4,-50.0L-191.3,-51.0L-196.1,-52.0L-200.9,-49.1L-204.8,-45.2L-207.7,-39.4L-211.6,-40.4L-213.5,-45.2L-217.4,-46.2L-219.3,-50.0L-220.8,-54.9L-217.4,-58.7L-211.6,-61.6L-214.0,-66.5L-215.5,-74.2L-214.5,-83.9Z" fill="none" stroke="#FF501A" stroke-width="7.5" stroke-linejoin="round" stroke-linecap="round"/><path d="M-198.0,-30.7L-192.2,-33.6L-186.4,-35.5L-184.5,-39.4L-177.7,-40.4L-176.8,-34.6L-171.0,-35.5L-168.1,-30.7L-169.0,-24.9L-168.1,-22.0L-172.9,-22.9L-176.8,-24.9L-182.6,-21.0L-188.4,-21.0L-193.2,-22.9L-195.1,-27.8Z" fill="none" stroke="#FF501A" stroke-width="7.5" stroke-linejoin="round" stroke-linecap="round"/><path d="M-157.1,-28.7L-153.2,-31.6L-144.5,-32.6L-139.6,-29.7L-137.7,-24.9L-141.6,-21.0L-148.3,-20.0L-154.2,-21.0L-157.5,-23.9Z" fill="none" stroke="#FF501A" stroke-width="7.5" stroke-linejoin="round" stroke-linecap="round"/><path d="M-124.2,-25.8L-121.3,-29.7L-115.5,-31.6L-109.7,-33.1L-106.8,-29.7L-110.6,-24.9L-113.5,-21.0L-119.3,-20.0L-123.2,-22.0Z" fill="none" stroke="#FF501A" stroke-width="7.5" stroke-linejoin="round" stroke-linecap="round"/><path d="M-123.2,-52.9L-118.4,-55.8L-113.5,-54.8L-111.1,-49.0L-112.1,-43.2L-115.5,-39.4L-120.3,-42.3L-124.2,-47.1Z" fill="none" stroke="#FF501A" stroke-width="7.5" stroke-linejoin="round" stroke-linecap="round"/><path d="M-133.8,-7.4L-131.9,-13.2L-128.0,-16.1L-124.2,-18.1L-119.3,-19.0L-116.4,-17.1L-121.3,-14.2L-125.1,-13.2L-128.0,-10.3L-130.0,-5.5Z" fill="none" stroke="#FF501A" stroke-width="7.5" stroke-linejoin="round" stroke-linecap="round"/><path d="M-279.5,121.7L-274.6,119.3L-271.7,112.5L-268.8,106.7L-265.0,103.8L-266.9,110.6L-267.9,117.4L-266.9,123.2L-265.0,128.0L-260.1,126.1L-258.2,122.2L-254.3,119.3L-249.5,115.4L-246.6,109.6L-243.7,103.8L-239.8,100.9L-235.0,100.9L-235.9,104.8L-237.9,111.6L-241.7,116.4L-242.7,121.3L-239.8,120.3L-235.9,121.3L-232.1,124.2L-226.3,123.2L-220.5,122.2L-218.5,116.4L-217.6,110.6L-215.6,104.8L-214.7,99.0L-217.6,95.1L-216.6,91.3L-214.7,87.4L-210.8,85.5L-208.9,87.4L-205.0,89.3L-204.0,84.5L-201.1,83.5L-196.3,80.6L-194.3,74.8L-191.4,68.0L-188.5,60.3L-187.6,54.5L-182.7,53.5L-178.9,51.6L-181.8,47.7L-180.8,43.9L-176.9,43.9L-172.1,41.0L-169.2,36.1L-169.2,29.4L-172.1,22.6L-171.1,17.7L-172.1,11.0L-176.9,5.2L-183.7,1.3L-191.4,-0.1L-198.2,0.3L-203.0,4.2L-208.9,9.0L-212.7,13.9L-214.7,19.7L-213.7,24.5L-212.7,30.3L-214.7,35.2L-215.6,40.0L-212.7,41.0L-207.9,44.3L-208.9,45.8L-212.7,50.6L-216.6,55.5L-222.4,55.5L-218.5,59.3L-221.4,64.2L-224.3,69.0L-228.2,72.9L-234.0,75.8L-241.7,71.9L-248.5,70.0L-252.4,74.8L-256.3,71.0L-258.2,65.1L-259.2,58.4L-262.1,58.4L-265.0,55.5L-269.8,56.4L-272.7,60.3L-270.8,65.1L-267.9,69.0L-266.9,74.8L-267.9,81.6L-269.8,88.4L-274.6,89.3L-279.5,91.3" fill="none" stroke="#FF501A" stroke-width="7.5" stroke-linejoin="round" stroke-linecap="round"/><path d="M-279.5,8.6L-272.7,12.9L-266.9,15.8L-259.2,17.7L-253.3,15.3L-251.4,19.7L-256.3,22.6L-255.3,27.4L-250.4,31.3L-245.6,37.1L-238.8,37.1L-235.9,31.3L-231.1,31.3L-227.2,34.2L-222.4,33.2L-220.5,28.4L-216.6,26.5L-215.6,18.7L-220.5,17.7L-226.3,17.7L-233.0,18.7L-236.9,15.8L-241.7,14.8L-244.6,12.9L-239.8,9.0L-234.0,8.1L-228.2,8.1L-223.4,4.2L-227.2,2.3L-230.1,-0.6L-226.3,-2.6" fill="none" stroke="#FF501A" stroke-width="7.5" stroke-linejoin="round" stroke-linecap="round"/><path d="M-279.5,17.3L-270.8,16.8L-264.0,18.7L-259.2,20.6L-262.1,23.6L-266.9,29.4L-270.8,37.1L-274.6,41.9L-279.5,44.8" fill="none" stroke="#FF501A" stroke-width="7.5" stroke-linejoin="round" stroke-linecap="round"/><path d="M-137.7,69.0L-136.7,59.3L-134.8,52.5L-130.9,46.7L-125.1,49.6L-122.2,43.8L-119.3,38.0L-114.5,38.0L-110.6,41.9L-105.8,46.7L-100.0,47.7L-95.1,45.8L-96.1,40.9L-90.3,39.0L-86.4,40.9L-80.6,43.8L-72.9,42.9L-67.1,45.8L-63.2,53.5L-58.4,55.4L-54.5,53.5L-47.7,52.5L-40.0,54.5L-34.2,58.3L-29.4,63.2L-27.4,69.0" fill="none" stroke="#FF501A" stroke-width="7.5" stroke-linejoin="round" stroke-linecap="round"/><path d="M-157.4,-26.8L-151.6,-30.7L-144.8,-32.6L-140.0,-30.7L-138.1,-26.8L-141.0,-22.9L-147.7,-22.0L-154.5,-22.9" fill="none" stroke="#FF501A" stroke-width="7.5" stroke-linejoin="round" stroke-linecap="round"/><path d="M-163.2,-11.3L-158.4,-18.1L-152.6,-15.2L-154.5,-11.3" fill="none" stroke="#FF501A" stroke-width="7.5" stroke-linejoin="round" stroke-linecap="round"/><path d="M-240.6,9.0L-232.9,3.2L-225.1,5.1L-228.0,1.2L-223.2,-2.6L-217.4,-7.5L-212.6,-4.6L-205.8,-6.5L-200.0,-11.3L-193.2,-14.2" fill="none" stroke="#FF501A" stroke-width="7.5" stroke-linejoin="round" stroke-linecap="round"/><path d="M-219.3,9.0L-211.6,3.2L-205.8,1.2L-198.0,-0.7L-190.3,-0.7L-182.6,1.2L-176.8,5.1L-171.9,9.0" fill="none" stroke="#FF501A" stroke-width="7.5" stroke-linejoin="round" stroke-linecap="round"/><path d="M-165.2,9.0L-164.2,-0.7L-159.4,-4.6L-152.6,-6.5L-144.8,-7.5L-142.9,-12.3L-138.1,-15.2" fill="none" stroke="#FF501A" stroke-width="7.5" stroke-linejoin="round" stroke-linecap="round"/><path d="M-123.2,4.2L-119.3,6.1L-115.5,9.0L-111.6,8.0L-108.7,5.1L-105.8,6.1L-101.9,5.1L-100.9,1.3L-98.0,-1.6L-92.2,-2.6L-91.3,-5.5" fill="none" stroke="#FF501A" stroke-width="7.5" stroke-linejoin="round" stroke-linecap="round"/><path d="M-101.9,9.0L-93.2,21.6L-98.0,-1.6" fill="none" stroke="#FF501A" stroke-width="7.5" stroke-linejoin="round" stroke-linecap="round"/><path d="M-119.3,38.0L-114.5,38.0L-110.6,41.9L-105.8,46.7L-100.0,47.7L-95.1,45.8L-96.1,40.9L-90.3,39.0L-86.4,40.9L-80.6,43.8L-72.9,42.9L-67.1,45.8L-63.2,53.5L-58.4,55.4L-54.5,53.5L-47.7,52.5L-40.0,54.5L-34.2,58.3L-29.4,63.2L-27.4,69.0L-30.6,64.4L-27.0,71.7L-25.2,77.1L-32.4,75.3L-39.7,74.4L-32.4,79.9L-28.8,83.5L-37.9,88.0L-30.6,86.2L-23.3,85.3L-17.9,88.0L-16.1,92.6L-21.5,98.9L-27.0,104.3L-32.4,113.4L-37.9,122.5L-41.5,129.7L-45.1,135.2L-50.5,137.0L-52.4,140.6L-48.7,146.1L-49.6,151.5L-45.1,148.6L-46.9,155.8L-52.4,161.3L-57.8,166.7L-63.2,170.4L-68.7,174.0L-74.1,172.2L-76.9,176.7L-72.3,181.2L-75.9,186.7L-79.6,192.1L-85.0,188.5L-90.5,190.3L-85.0,195.7L-81.4,199.4L-86.8,202.1" fill="none" stroke="#FF501A" stroke-width="7.5" stroke-linejoin="round" stroke-linecap="round"/><path d="M-172.1,124.2L-165.3,123.2L-162.4,131.9L-160.5,125.1L-156.6,118.4L-159.5,119.3L-163.4,115.4L-162.4,111.6L-158.5,109.6L-153.7,104.8L-147.9,100.9L-143.1,96.1L-137.3,91.3L-133.4,87.4L-129.5,82.6L-129.0,75.8L-130.5,70.0L-134.4,64.2L-137.3,58.4L-136.3,52.6L-131.5,50.6L-129.5,45.8L-125.7,46.8L-121.8,41.9L-117.9,36.6L-119.3,38.0" fill="none" stroke="#FF501A" stroke-width="7.5" stroke-linejoin="round" stroke-linecap="round"/><path d="M-43.4,-252.9L-37.2,-245.8L-30.1,-244.0L-22.9,-243.1L-17.6,-236.9L-8.7,-229.8L0.3,-223.5L9.2,-217.3L18.1,-213.7L28.8,-211.0L36.8,-209.3L37.7,-220.9L43.1,-222.6L43.9,-214.6L48.4,-212.8L59.1,-210.2L68.0,-206.6L75.1,-203.0L76.0,-193.2L82.3,-187.0L93.0,-183.4L98.3,-178.1L100.1,-169.1L107.2,-158.4L112.6,-151.3L116.2,-146.0" fill="none" stroke="#E03200" stroke-width="8" stroke-linejoin="round" stroke-linecap="round"/><path d="M116.2,-148.8L121.5,-141.7L126.9,-145.3L134.0,-141.7L139.3,-138.1L146.5,-131.0L150.0,-132.8" fill="none" stroke="#E03200" stroke-width="8" stroke-linejoin="round" stroke-linecap="round"/><path d="M147.2,-134.6L156.1,-135.5L157.9,-130.1L155.2,-122.1L150.7,-119.4L147.2,-120.3" fill="none" stroke="#E03200" stroke-width="8" stroke-linejoin="round" stroke-linecap="round"/><path d="M150.0,-120.3L142.9,-115.0L142.0,-106.0L144.7,-97.1L150.0,-93.6" fill="none" stroke="#E03200" stroke-width="8" stroke-linejoin="round" stroke-linecap="round"/><path d="M147.2,-97.1L153.4,-99.3L158.8,-93.6L159.6,-86.4L157.0,-79.3L158.8,-72.2L163.2,-68.6L161.4,-62.4L165.9,-59.7L172.1,-54.3L174.8,-49.9L168.6,-50.8L161.4,-55.2L156.1,-58.8L148.1,-61.5" fill="none" stroke="#E03200" stroke-width="8" stroke-linejoin="round" stroke-linecap="round"/><path d="M150.0,-64.1L141.1,-59.7L136.7,-54.3L135.8,-45.4L139.3,-41.8L132.2,-38.3L130.4,-32.9L137.6,-31.2L142.9,-27.6L150.0,-24.0" fill="none" stroke="#E03200" stroke-width="8" stroke-linejoin="round" stroke-linecap="round"/><path d="M148.1,-22.2L151.6,-11.5L156.1,-2.6L159.6,4.5L166.8,9.9L173.0,9.0L174.8,17.0L175.7,28.6L181.9,29.5L189.1,28.6L191.7,24.1L195.7,25.0L194.4,29.5L189.1,33.0L187.3,38.4L183.7,41.1L190.0,42.0L195.3,41.1L200.7,40.2L198.9,45.5L193.5,50.9L185.5,50.0L175.7,48.2" fill="none" stroke="#E03200" stroke-width="8" stroke-linejoin="round" stroke-linecap="round"/><path d="M-212.6,-99.4L-215.5,-102.7L-218.8,-98.4L-221.7,-93.6L-220.8,-87.8L-223.2,-82.4L-230.0,-76.1L-226.1,-73.2L-221.3,-75.2L-218.4,-69.4L-216.9,-62.1L-222.2,-59.7L-228.0,-54.9L-233.8,-50.0L-237.7,-44.2L-238.7,-38.4L-234.8,-36.0L-230.0,-35.0L-227.1,-32.1L-223.2,-37.5L-218.4,-32.6L-214.5,-29.2L-219.3,-25.8L-225.1,-23.4L-230.9,-27.3L-236.7,-28.3L-241.1,-25.4L-236.3,-22.5L-234.8,-19.1L-230.0,-17.1L-226.1,-19.1L-221.3,-15.7L-216.4,-19.1L-211.6,-23.9L-206.8,-24.9L-200.0,-22.0L-193.2,-18.1L-189.3,-14.2L-184.5,-16.2L-176.8,-16.7L-171.9,-16.2L-169.0,-12.3L-170.0,-6.5L-171.9,-1.7L-176.8,-3.6L-180.6,-6.5L-184.5,-8.4L-186.4,-12.3L-190.3,-12.3" fill="none" stroke="#E03200" stroke-width="4.5" stroke-linejoin="round" stroke-linecap="round"/><path d="M80.1,-141.4L84.6,-143.3L87.3,-138.7L88.2,-132.4L84.6,-134.2Z" fill="none" stroke="#E03200" stroke-width="4.5" stroke-linejoin="round" stroke-linecap="round"/><path d="M92.7,-129.6L100.0,-131.5L107.3,-130.6L112.7,-126.0L111.8,-118.8L105.4,-111.5L101.8,-116.9L96.4,-117.9L93.7,-123.3Z" fill="none" stroke="#E03200" stroke-width="4.5" stroke-linejoin="round" stroke-linecap="round"/><path d="M108.2,-142.3L111.8,-144.2L113.6,-139.6L110.0,-136.9Z" fill="none" stroke="#E03200" stroke-width="4.5" stroke-linejoin="round" stroke-linecap="round"/><path d="M109.1,-134.2L113.6,-134.2L112.7,-130.6Z" fill="none" stroke="#E03200" stroke-width="4.5" stroke-linejoin="round" stroke-linecap="round"/><path d="M96.4,-9.0L105.4,-15.4L112.7,-22.6L118.1,-29.9L123.6,-31.7L129.0,-24.4L123.6,-20.8L120.0,-11.7L114.5,-4.5L109.1,-1.8L103.6,-5.4Z" fill="none" stroke="#E03200" stroke-width="4.5" stroke-linejoin="round" stroke-linecap="round"/><path d="M-145.4,7.1L-143.5,2.2L-139.6,1.3L-135.8,6.1L-131.9,5.1L-128.0,10.0L-125.1,7.1L-123.2,4.2L-125.6,0.3L-126.1,-3.6L-125.1,-6.5L-119.3,-7.4L-111.6,-7.0L-105.8,-9.4L-99.0,-8.4L-91.3,-5.5L-86.4,-0.7L-81.6,3.7L-76.8,9.0L-71.9,14.3L-69.0,19.6L-67.1,26.4L-67.6,34.2L-69.5,40.0L-76.8,42.9L-80.6,45.8L-82.6,43.3L-86.4,40.9L-92.2,39.0L-98.0,37.1L-102.9,34.2L-106.8,31.7L-113.5,30.8L-121.3,31.3L-124.2,27.4L-128.0,28.8L-131.9,26.4L-136.7,30.3L-141.6,27.4L-144.5,23.5L-142.5,19.6L-144.5,13.8Z" fill="none" stroke="#E03200" stroke-width="4.5" stroke-linejoin="round" stroke-linecap="round"/><path d="M-161.9,-5.5L-157.1,-6.5L-152.2,-5.5L-147.4,-7.4L-144.5,-10.3L-141.6,-14.2L-137.7,-15.2L-140.1,-11.3L-143.0,-6.5L-144.5,-1.6L-148.3,0.3L-151.3,1.3L-152.7,5.1L-151.7,10.9L-150.8,16.7L-151.3,22.5L-152.7,26.4L-156.1,29.3L-160.9,28.4L-162.9,23.5L-160.9,19.6L-163.8,16.7L-165.3,10.9L-165.8,5.1L-164.3,-0.7Z" fill="none" stroke="#E03200" stroke-width="4.5" stroke-linejoin="round" stroke-linecap="round"/><path d="M-153.2,-67.4L-150.3,-68.4L-147.4,-65.5L-143.5,-67.4L-138.7,-72.3L-134.8,-75.2L-130.9,-77.1L-127.1,-81.9L-120.3,-83.4L-118.4,-78.1L-116.4,-70.3L-116.4,-62.6L-119.3,-59.7L-122.2,-63.5L-126.1,-64.5L-130.0,-63.5L-132.9,-59.7L-138.7,-57.7L-144.5,-55.8L-145.4,-51.9L-139.6,-51.0L-134.8,-49.0L-132.9,-46.1L-136.7,-45.2L-140.6,-43.2L-144.5,-41.3L-148.3,-43.2L-152.2,-46.1L-154.2,-51.0L-152.2,-55.8L-151.3,-60.6L-154.2,-63.5Z" fill="none" stroke="#E03200" stroke-width="4.5" stroke-linejoin="round" stroke-linecap="round"/><path d="M-170.0,-111.9L-163.2,-111.0L-155.5,-111.9L-151.6,-106.1L-146.8,-101.3L-139.0,-96.5L-141.0,-87.8L-146.8,-82.9L-149.7,-79.0L-158.4,-76.6L-160.3,-77.1L-162.3,-89.7L-167.1,-94.5L-171.0,-103.2Z" fill="none" stroke="#E03200" stroke-width="4.5" stroke-linejoin="round" stroke-linecap="round"/><path d="M-213.5,-91.6L-205.8,-92.1L-202.9,-91.6L-199.0,-97.4L-196.1,-98.9L-191.3,-96.9L-192.7,-89.7L-194.2,-81.0L-190.3,-83.9L-186.4,-90.7L-181.6,-96.0L-176.8,-93.6L-172.9,-96.5L-169.0,-93.6L-165.2,-90.7L-163.2,-83.9L-162.3,-76.1L-167.1,-73.2L-170.0,-73.2L-169.0,-68.4L-171.9,-64.5L-172.9,-60.7L-176.8,-57.8L-172.9,-54.9L-169.0,-52.0L-166.1,-49.1L-168.1,-45.2L-171.0,-44.2L-175.8,-48.1L-180.6,-50.0L-186.4,-50.0L-191.3,-51.0L-196.1,-52.0L-200.9,-49.1L-204.8,-45.2L-207.7,-39.4L-211.6,-40.4L-213.5,-45.2L-217.4,-46.2L-219.3,-50.0L-220.8,-54.9L-217.4,-58.7L-211.6,-61.6L-214.0,-66.5L-215.5,-74.2L-214.5,-83.9Z" fill="none" stroke="#E03200" stroke-width="4.5" stroke-linejoin="round" stroke-linecap="round"/><path d="M-198.0,-30.7L-192.2,-33.6L-186.4,-35.5L-184.5,-39.4L-177.7,-40.4L-176.8,-34.6L-171.0,-35.5L-168.1,-30.7L-169.0,-24.9L-168.1,-22.0L-172.9,-22.9L-176.8,-24.9L-182.6,-21.0L-188.4,-21.0L-193.2,-22.9L-195.1,-27.8Z" fill="none" stroke="#E03200" stroke-width="4.5" stroke-linejoin="round" stroke-linecap="round"/><path d="M-157.1,-28.7L-153.2,-31.6L-144.5,-32.6L-139.6,-29.7L-137.7,-24.9L-141.6,-21.0L-148.3,-20.0L-154.2,-21.0L-157.5,-23.9Z" fill="none" stroke="#E03200" stroke-width="4.5" stroke-linejoin="round" stroke-linecap="round"/><path d="M-124.2,-25.8L-121.3,-29.7L-115.5,-31.6L-109.7,-33.1L-106.8,-29.7L-110.6,-24.9L-113.5,-21.0L-119.3,-20.0L-123.2,-22.0Z" fill="none" stroke="#E03200" stroke-width="4.5" stroke-linejoin="round" stroke-linecap="round"/><path d="M-123.2,-52.9L-118.4,-55.8L-113.5,-54.8L-111.1,-49.0L-112.1,-43.2L-115.5,-39.4L-120.3,-42.3L-124.2,-47.1Z" fill="none" stroke="#E03200" stroke-width="4.5" stroke-linejoin="round" stroke-linecap="round"/><path d="M-133.8,-7.4L-131.9,-13.2L-128.0,-16.1L-124.2,-18.1L-119.3,-19.0L-116.4,-17.1L-121.3,-14.2L-125.1,-13.2L-128.0,-10.3L-130.0,-5.5Z" fill="none" stroke="#E03200" stroke-width="4.5" stroke-linejoin="round" stroke-linecap="round"/><path d="M-279.5,121.7L-274.6,119.3L-271.7,112.5L-268.8,106.7L-265.0,103.8L-266.9,110.6L-267.9,117.4L-266.9,123.2L-265.0,128.0L-260.1,126.1L-258.2,122.2L-254.3,119.3L-249.5,115.4L-246.6,109.6L-243.7,103.8L-239.8,100.9L-235.0,100.9L-235.9,104.8L-237.9,111.6L-241.7,116.4L-242.7,121.3L-239.8,120.3L-235.9,121.3L-232.1,124.2L-226.3,123.2L-220.5,122.2L-218.5,116.4L-217.6,110.6L-215.6,104.8L-214.7,99.0L-217.6,95.1L-216.6,91.3L-214.7,87.4L-210.8,85.5L-208.9,87.4L-205.0,89.3L-204.0,84.5L-201.1,83.5L-196.3,80.6L-194.3,74.8L-191.4,68.0L-188.5,60.3L-187.6,54.5L-182.7,53.5L-178.9,51.6L-181.8,47.7L-180.8,43.9L-176.9,43.9L-172.1,41.0L-169.2,36.1L-169.2,29.4L-172.1,22.6L-171.1,17.7L-172.1,11.0L-176.9,5.2L-183.7,1.3L-191.4,-0.1L-198.2,0.3L-203.0,4.2L-208.9,9.0L-212.7,13.9L-214.7,19.7L-213.7,24.5L-212.7,30.3L-214.7,35.2L-215.6,40.0L-212.7,41.0L-207.9,44.3L-208.9,45.8L-212.7,50.6L-216.6,55.5L-222.4,55.5L-218.5,59.3L-221.4,64.2L-224.3,69.0L-228.2,72.9L-234.0,75.8L-241.7,71.9L-248.5,70.0L-252.4,74.8L-256.3,71.0L-258.2,65.1L-259.2,58.4L-262.1,58.4L-265.0,55.5L-269.8,56.4L-272.7,60.3L-270.8,65.1L-267.9,69.0L-266.9,74.8L-267.9,81.6L-269.8,88.4L-274.6,89.3L-279.5,91.3" fill="none" stroke="#E03200" stroke-width="4.5" stroke-linejoin="round" stroke-linecap="round"/><path d="M-279.5,8.6L-272.7,12.9L-266.9,15.8L-259.2,17.7L-253.3,15.3L-251.4,19.7L-256.3,22.6L-255.3,27.4L-250.4,31.3L-245.6,37.1L-238.8,37.1L-235.9,31.3L-231.1,31.3L-227.2,34.2L-222.4,33.2L-220.5,28.4L-216.6,26.5L-215.6,18.7L-220.5,17.7L-226.3,17.7L-233.0,18.7L-236.9,15.8L-241.7,14.8L-244.6,12.9L-239.8,9.0L-234.0,8.1L-228.2,8.1L-223.4,4.2L-227.2,2.3L-230.1,-0.6L-226.3,-2.6" fill="none" stroke="#E03200" stroke-width="4.5" stroke-linejoin="round" stroke-linecap="round"/><path d="M-279.5,17.3L-270.8,16.8L-264.0,18.7L-259.2,20.6L-262.1,23.6L-266.9,29.4L-270.8,37.1L-274.6,41.9L-279.5,44.8" fill="none" stroke="#E03200" stroke-width="4.5" stroke-linejoin="round" stroke-linecap="round"/><path d="M-137.7,69.0L-136.7,59.3L-134.8,52.5L-130.9,46.7L-125.1,49.6L-122.2,43.8L-119.3,38.0L-114.5,38.0L-110.6,41.9L-105.8,46.7L-100.0,47.7L-95.1,45.8L-96.1,40.9L-90.3,39.0L-86.4,40.9L-80.6,43.8L-72.9,42.9L-67.1,45.8L-63.2,53.5L-58.4,55.4L-54.5,53.5L-47.7,52.5L-40.0,54.5L-34.2,58.3L-29.4,63.2L-27.4,69.0" fill="none" stroke="#E03200" stroke-width="4.5" stroke-linejoin="round" stroke-linecap="round"/><path d="M-157.4,-26.8L-151.6,-30.7L-144.8,-32.6L-140.0,-30.7L-138.1,-26.8L-141.0,-22.9L-147.7,-22.0L-154.5,-22.9" fill="none" stroke="#E03200" stroke-width="4.5" stroke-linejoin="round" stroke-linecap="round"/><path d="M-163.2,-11.3L-158.4,-18.1L-152.6,-15.2L-154.5,-11.3" fill="none" stroke="#E03200" stroke-width="4.5" stroke-linejoin="round" stroke-linecap="round"/><path d="M-240.6,9.0L-232.9,3.2L-225.1,5.1L-228.0,1.2L-223.2,-2.6L-217.4,-7.5L-212.6,-4.6L-205.8,-6.5L-200.0,-11.3L-193.2,-14.2" fill="none" stroke="#E03200" stroke-width="4.5" stroke-linejoin="round" stroke-linecap="round"/><path d="M-219.3,9.0L-211.6,3.2L-205.8,1.2L-198.0,-0.7L-190.3,-0.7L-182.6,1.2L-176.8,5.1L-171.9,9.0" fill="none" stroke="#E03200" stroke-width="4.5" stroke-linejoin="round" stroke-linecap="round"/><path d="M-165.2,9.0L-164.2,-0.7L-159.4,-4.6L-152.6,-6.5L-144.8,-7.5L-142.9,-12.3L-138.1,-15.2" fill="none" stroke="#E03200" stroke-width="4.5" stroke-linejoin="round" stroke-linecap="round"/><path d="M-123.2,4.2L-119.3,6.1L-115.5,9.0L-111.6,8.0L-108.7,5.1L-105.8,6.1L-101.9,5.1L-100.9,1.3L-98.0,-1.6L-92.2,-2.6L-91.3,-5.5" fill="none" stroke="#E03200" stroke-width="4.5" stroke-linejoin="round" stroke-linecap="round"/><path d="M-101.9,9.0L-93.2,21.6L-98.0,-1.6" fill="none" stroke="#E03200" stroke-width="4.5" stroke-linejoin="round" stroke-linecap="round"/><path d="M-119.3,38.0L-114.5,38.0L-110.6,41.9L-105.8,46.7L-100.0,47.7L-95.1,45.8L-96.1,40.9L-90.3,39.0L-86.4,40.9L-80.6,43.8L-72.9,42.9L-67.1,45.8L-63.2,53.5L-58.4,55.4L-54.5,53.5L-47.7,52.5L-40.0,54.5L-34.2,58.3L-29.4,63.2L-27.4,69.0L-30.6,64.4L-27.0,71.7L-25.2,77.1L-32.4,75.3L-39.7,74.4L-32.4,79.9L-28.8,83.5L-37.9,88.0L-30.6,86.2L-23.3,85.3L-17.9,88.0L-16.1,92.6L-21.5,98.9L-27.0,104.3L-32.4,113.4L-37.9,122.5L-41.5,129.7L-45.1,135.2L-50.5,137.0L-52.4,140.6L-48.7,146.1L-49.6,151.5L-45.1,148.6L-46.9,155.8L-52.4,161.3L-57.8,166.7L-63.2,170.4L-68.7,174.0L-74.1,172.2L-76.9,176.7L-72.3,181.2L-75.9,186.7L-79.6,192.1L-85.0,188.5L-90.5,190.3L-85.0,195.7L-81.4,199.4L-86.8,202.1" fill="none" stroke="#E03200" stroke-width="4.5" stroke-linejoin="round" stroke-linecap="round"/><path d="M-172.1,124.2L-165.3,123.2L-162.4,131.9L-160.5,125.1L-156.6,118.4L-159.5,119.3L-163.4,115.4L-162.4,111.6L-158.5,109.6L-153.7,104.8L-147.9,100.9L-143.1,96.1L-137.3,91.3L-133.4,87.4L-129.5,82.6L-129.0,75.8L-130.5,70.0L-134.4,64.2L-137.3,58.4L-136.3,52.6L-131.5,50.6L-129.5,45.8L-125.7,46.8L-121.8,41.9L-117.9,36.6L-119.3,38.0" fill="none" stroke="#E03200" stroke-width="4.5" stroke-linejoin="round" stroke-linecap="round"/><path d="M-7.0,-202.9L-1.6,-206.5L6.6,-207.4L5.7,-202.0L0.2,-199.3L-5.2,-199.6Z" fill="#FF501A"/><path d="M-55.1,-286.3L-49.6,-289.1L-39.7,-288.2L-38.8,-283.6L-45.1,-282.7L-52.4,-284.2Z" fill="#FF501A"/><path d="M80.1,-141.4L84.6,-143.3L87.3,-138.7L88.2,-132.4L84.6,-134.2Z" fill="#E03200"/><path d="M92.7,-129.6L100.0,-131.5L107.3,-130.6L112.7,-126.0L111.8,-118.8L105.4,-111.5L101.8,-116.9L96.4,-117.9L93.7,-123.3Z" fill="#E03200"/><path d="M108.2,-142.3L111.8,-144.2L113.6,-139.6L110.0,-136.9Z" fill="#E03200"/><path d="M109.1,-134.2L113.6,-134.2L112.7,-130.6Z" fill="#E03200"/><path d="M96.4,-9.0L105.4,-15.4L112.7,-22.6L118.1,-29.9L123.6,-31.7L129.0,-24.4L123.6,-20.8L120.0,-11.7L114.5,-4.5L109.1,-1.8L103.6,-5.4Z" fill="#E03200"/><path d="M77.3,47.2L81.0,45.4L82.8,49.9L79.1,51.7Z" fill="#E03200"/><path d="M85.5,40.9L90.0,40.0L90.9,45.4L87.3,48.1Z" fill="#E03200"/><path d="M86.4,51.7L91.8,49.0L93.7,55.4L89.1,62.6L85.5,59.0Z" fill="#E03200"/><path d="M73.7,66.3L79.1,63.5L83.7,68.1L81.9,72.6L74.6,72.6Z" fill="#E03200"/><path d="M22.0,108.0L31.1,104.3L36.5,97.1L43.8,94.4L51.0,94.4L51.9,102.5L47.4,108.0L43.8,104.3L38.3,100.7L42.0,108.0L47.4,111.6L51.0,117.0L58.3,120.7L56.5,127.9L50.1,127.0L49.2,120.7L46.5,117.0L43.8,120.7L45.6,129.7L44.7,140.6L38.3,133.4L32.9,126.1L34.7,120.7L29.3,118.9L25.6,113.4Z" fill="#FF7D4A"/><path d="M-119.3,38.0L-114.5,38.0L-110.6,41.9L-105.8,46.7L-100.0,47.7L-95.1,45.8L-96.1,40.9L-90.3,39.0L-86.4,40.9L-80.6,43.8L-72.9,42.9L-67.1,45.8L-63.2,53.5L-58.4,55.4L-54.5,53.5L-47.7,52.5L-40.0,54.5L-34.2,58.3L-29.4,63.2L-27.4,69.0L-30.6,64.4L-27.0,71.7L-25.2,77.1L-32.4,75.3L-39.7,74.4L-32.4,79.9L-28.8,83.5L-37.9,88.0L-30.6,86.2L-23.3,85.3L-17.9,88.0L-16.1,92.6L-21.5,98.9L-27.0,104.3L-32.4,113.4L-37.9,122.5L-41.5,129.7L-45.1,135.2L-50.5,137.0L-52.4,140.6L-48.7,146.1L-49.6,151.5L-45.1,148.6L-46.9,155.8L-52.4,161.3L-57.8,166.7L-63.2,170.4L-68.7,174.0L-74.1,172.2L-76.9,176.7L-72.3,181.2L-75.9,186.7L-79.6,192.1L-85.0,188.5L-90.5,190.3L-85.0,195.7L-81.4,199.4L-86.8,202.1L-94.1,203.9L-103.2,204.8L-112.2,203.0L-121.3,202.1L-130.4,204.8L-137.6,208.4L-144.9,211.2L-150.3,212.1L-147.4,213.0L-151.0,213.0L-156.5,211.2L-161.9,207.5L-168.3,205.7L-172.8,208.4L-175.5,204.8L-177.3,210.3L-181.0,213.9L-185.5,218.4L-190.9,220.2L-199.1,223.0L-203.6,228.4L-209.1,232.0L-216.3,236.6L-221.8,240.2L-225.4,240.2L-229.0,235.7L-230.8,228.4L-229.9,223.0L-233.6,219.3L-236.3,213.9L-235.4,208.4L-232.6,203.0L-229.0,195.7L-226.3,190.3L-223.6,184.9L-220.9,179.4L-218.1,174.0L-212.7,170.4L-210.9,164.9L-207.3,159.5L-205.4,154.0L-200.0,148.6L-208.9,159.0L-206.9,155.1L-202.1,150.3L-196.3,145.4L-189.5,142.5L-182.7,141.6L-177.9,146.4L-172.1,140.6L-168.2,136.7L-173.1,135.8L-177.9,133.8L-178.9,128.0L-172.1,124.2L-165.3,123.2L-162.4,131.9L-160.5,125.1L-156.6,118.4L-159.5,119.3L-163.4,115.4L-162.4,111.6L-158.5,109.6L-153.7,104.8L-147.9,100.9L-143.1,96.1L-137.3,91.3L-133.4,87.4L-129.5,82.6L-129.0,75.8L-130.5,70.0L-134.4,64.2L-137.3,58.4L-136.3,52.6L-131.5,50.6L-129.5,45.8L-125.7,46.8L-121.8,41.9L-117.9,36.6Z" fill="#FFEBDB"/><path d="M-108.0,70.8C-106.1,66.4 -98.9,64.0 -93.5,62.1C-88.2,60.1 -81.4,58.2 -76.1,59.2C-70.8,60.1 -65.0,63.5 -61.6,67.9C-58.2,72.2 -56.3,79.0 -55.8,85.3C-55.3,91.6 -57.3,98.8 -58.7,105.6C-60.2,112.4 -61.6,119.1 -64.5,125.9C-67.4,132.7 -72.3,140.4 -76.1,146.2C-80.0,152.0 -84.8,155.9 -87.7,160.7C-90.6,165.6 -91.1,170.9 -93.5,175.2C-96.0,179.6 -99.3,183.5 -102.2,186.9C-105.1,190.2 -108.5,195.1 -110.9,195.6C-113.4,196.0 -117.7,192.7 -116.7,189.8C-115.8,186.9 -108.5,182.5 -105.1,178.1C-101.8,173.8 -96.9,169.0 -96.4,163.6C-96.0,158.3 -100.8,152.5 -102.2,146.2C-103.7,139.9 -105.1,132.2 -105.1,125.9C-105.1,119.6 -101.3,112.8 -102.2,108.5C-103.2,104.1 -110.5,103.2 -110.9,99.8C-111.4,96.4 -105.6,93.0 -105.1,88.2C-104.7,83.3 -110.0,75.1 -108.0,70.8Z" fill="#D8EBFF"/><use href="#coast" x="1.5" y="0.4"/></g><circle cx="2.0" cy="0.6" r="447.9" fill="none" stroke="#000" stroke-width="2.3"/></g>
<g class="cb"><rect x="71.45" y="1366.5" width="54.28" height="43.4" fill="#00008B"/><rect x="125.73" y="1366.5" width="54.28" height="43.4" fill="#001CB6"/><rect x="180.01" y="1366.5" width="54.28" height="43.4" fill="#002DE0"/><rect x="234.28" y="1366.5" width="54.28" height="43.4" fill="#1A4CFF"/><rect x="288.56" y="1366.5" width="54.28" height="43.4" fill="#4375FF"/><rect x="342.84" y="1366.5" width="54.28" height="43.4" fill="#82A8FF"/><rect x="397.12" y="1366.5" width="54.28" height="43.4" fill="#B3CCFF"/><rect x="451.40" y="1366.5" width="54.28" height="43.4" fill="#D8EBFF"/><rect x="505.68" y="1366.5" width="54.28" height="43.4" fill="#FFEBDB"/><rect x="559.95" y="1366.5" width="54.28" height="43.4" fill="#FFCDB5"/><rect x="614.23" y="1366.5" width="54.28" height="43.4" fill="#FFAB85"/><rect x="668.51" y="1366.5" width="54.28" height="43.4" fill="#FF7D4A"/><rect x="722.79" y="1366.5" width="54.28" height="43.4" fill="#FF501A"/><rect x="777.07" y="1366.5" width="54.28" height="43.4" fill="#E03200"/><rect x="831.34" y="1366.5" width="54.28" height="43.4" fill="#B82300"/><rect x="885.62" y="1366.5" width="54.28" height="43.4" fill="#8B0000"/></g><text transform="translate(125.7,1459) scale(1,1.045)" font-size="34.6" text-anchor="middle">150</text><text transform="translate(234.3,1459) scale(1,1.045)" font-size="34.6" text-anchor="middle">170</text><text transform="translate(342.8,1459) scale(1,1.045)" font-size="34.6" text-anchor="middle">190</text><text transform="translate(451.4,1459) scale(1,1.045)" font-size="34.6" text-anchor="middle">210</text><text transform="translate(560.0,1459) scale(1,1.045)" font-size="34.6" text-anchor="middle">230</text><text transform="translate(668.5,1459) scale(1,1.045)" font-size="34.6" text-anchor="middle">250</text><text transform="translate(777.1,1459) scale(1,1.045)" font-size="34.6" text-anchor="middle">270</text><text transform="translate(885.6,1459) scale(1,1.045)" font-size="34.6" text-anchor="middle">290</text>
<g class="cb"><rect x="1091.85" y="1366.5" width="54.28" height="43.4" fill="#00008B"/><rect x="1146.13" y="1366.5" width="54.28" height="43.4" fill="#001CB6"/><rect x="1200.41" y="1366.5" width="54.28" height="43.4" fill="#002DE0"/><rect x="1254.68" y="1366.5" width="54.28" height="43.4" fill="#1A4CFF"/><rect x="1308.96" y="1366.5" width="54.28" height="43.4" fill="#4375FF"/><rect x="1363.24" y="1366.5" width="54.28" height="43.4" fill="#82A8FF"/><rect x="1417.52" y="1366.5" width="54.28" height="43.4" fill="#B3CCFF"/><rect x="1471.80" y="1366.5" width="54.28" height="43.4" fill="#D8EBFF"/><rect x="1526.07" y="1366.5" width="54.28" height="43.4" fill="#FFEBDB"/><rect x="1580.35" y="1366.5" width="54.28" height="43.4" fill="#FFCDB5"/><rect x="1634.63" y="1366.5" width="54.28" height="43.4" fill="#FFAB85"/><rect x="1688.91" y="1366.5" width="54.28" height="43.4" fill="#FF7D4A"/><rect x="1743.19" y="1366.5" width="54.28" height="43.4" fill="#FF501A"/><rect x="1797.47" y="1366.5" width="54.28" height="43.4" fill="#E03200"/><rect x="1851.74" y="1366.5" width="54.28" height="43.4" fill="#B82300"/><rect x="1906.02" y="1366.5" width="54.28" height="43.4" fill="#8B0000"/></g><text transform="translate(1146.1,1459) scale(1,1.045)" font-size="34.6" text-anchor="middle">150</text><text transform="translate(1254.7,1459) scale(1,1.045)" font-size="34.6" text-anchor="middle">170</text><text transform="translate(1363.2,1459) scale(1,1.045)" font-size="34.6" text-anchor="middle">190</text><text transform="translate(1471.8,1459) scale(1,1.045)" font-size="34.6" text-anchor="middle">210</text><text transform="translate(1580.4,1459) scale(1,1.045)" font-size="34.6" text-anchor="middle">230</text><text transform="translate(1688.9,1459) scale(1,1.045)" font-size="34.6" text-anchor="middle">250</text><text transform="translate(1797.5,1459) scale(1,1.045)" font-size="34.6" text-anchor="middle">270</text><text transform="translate(1906.0,1459) scale(1,1.045)" font-size="34.6" text-anchor="middle">290</text>
<text transform="translate(505.7,1334.7) scale(1,1.045)" font-size="35.6" text-anchor="middle" xml:space="preserve">MEAN= 205.52  Min= 166.72  Max= 232.28</text>
<text transform="translate(1526.1,1334.7) scale(1,1.045)" font-size="35.6" text-anchor="middle" xml:space="preserve">MEAN= 204.13  Min= 166.53  Max= 231.77</text>
<text transform="translate(1016.2,1592.2) scale(1,1.045)" font-size="49.5" text-anchor="middle">f09.F-hist.tn15.ACmip.ac02 - f09.B-hist.tn15.cmip6.k32</text>
<g class="cb"><rect x="1659.0" y="1956.90" width="75.9" height="44.91" fill="#8B0000"/><rect x="1659.0" y="2001.81" width="75.9" height="44.91" fill="#B82300"/><rect x="1659.0" y="2046.73" width="75.9" height="44.91" fill="#E03200"/><rect x="1659.0" y="2091.64" width="75.9" height="44.91" fill="#FF501A"/><rect x="1659.0" y="2136.55" width="75.9" height="44.91" fill="#FF7D4A"/><rect x="1659.0" y="2181.46" width="75.9" height="44.91" fill="#FFAB85"/><rect x="1659.0" y="2226.38" width="75.9" height="44.91" fill="#FFCDB5"/><rect x="1659.0" y="2271.29" width="75.9" height="44.91" fill="#FFEBDB"/><rect x="1659.0" y="2316.20" width="75.9" height="44.91" fill="#D8EBFF"/><rect x="1659.0" y="2361.11" width="75.9" height="44.91" fill="#B3CCFF"/><rect x="1659.0" y="2406.03" width="75.9" height="44.91" fill="#82A8FF"/><rect x="1659.0" y="2450.94" width="75.9" height="44.91" fill="#4375FF"/><rect x="1659.0" y="2495.85" width="75.9" height="44.91" fill="#1A4CFF"/><rect x="1659.0" y="2540.76" width="75.9" height="44.91" fill="#002DE0"/><rect x="1659.0" y="2585.68" width="75.9" height="44.91" fill="#001CB6"/><rect x="1659.0" y="2630.59" width="75.9" height="44.91" fill="#00008B"/></g><text transform="translate(1773.8,2014.2) scale(1,1.045)" font-size="34.6" text-anchor="middle">20</text><text transform="translate(1773.8,2059.1) scale(1,1.045)" font-size="34.6" text-anchor="middle">15</text><text transform="translate(1773.8,2104.0) scale(1,1.045)" font-size="34.6" text-anchor="middle">10</text><text transform="translate(1773.8,2149.0) scale(1,1.045)" font-size="34.6" text-anchor="middle">8</text><text transform="translate(1773.8,2193.9) scale(1,1.045)" font-size="34.6" text-anchor="middle">6</text><text transform="translate(1773.8,2238.8) scale(1,1.045)" font-size="34.6" text-anchor="middle">4</text><text transform="translate(1773.8,2283.7) scale(1,1.045)" font-size="34.6" text-anchor="middle">2</text><text transform="translate(1773.8,2328.6) scale(1,1.045)" font-size="34.6" text-anchor="middle">0</text><text transform="translate(1773.8,2373.5) scale(1,1.045)" font-size="34.6" text-anchor="middle">-2</text><text transform="translate(1773.8,2418.4) scale(1,1.045)" font-size="34.6" text-anchor="middle">-4</text><text transform="translate(1773.8,2463.3) scale(1,1.045)" font-size="34.6" text-anchor="middle">-6</text><text transform="translate(1773.8,2508.3) scale(1,1.045)" font-size="34.6" text-anchor="middle">-8</text><text transform="translate(1773.8,2553.2) scale(1,1.045)" font-size="34.6" text-anchor="middle">-10</text><text transform="translate(1773.8,2598.1) scale(1,1.045)" font-size="34.6" text-anchor="middle">-15</text><text transform="translate(1773.8,2643.0) scale(1,1.045)" font-size="34.6" text-anchor="middle">-20</text>
<text transform="translate(1515.5,1876.7) scale(1,1.045)" font-size="35.6" xml:space="preserve">MIN =  -1.87 MAX =  26.23</text>
</svg></body></html>
